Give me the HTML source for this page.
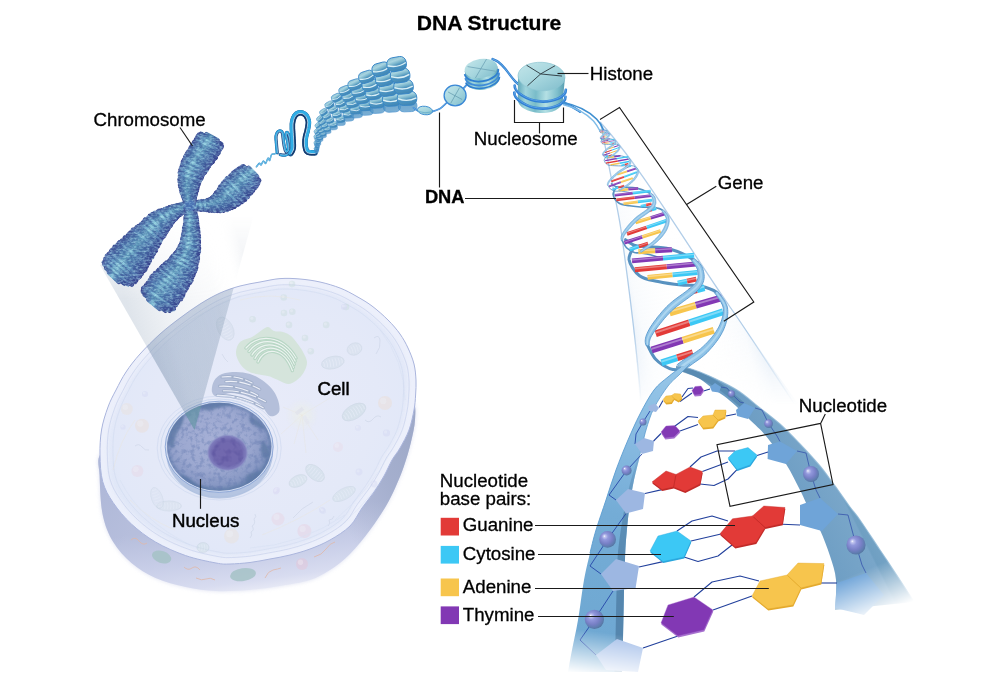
<!DOCTYPE html>
<html lang="en">
<head>
<meta charset="utf-8">
<title>DNA Structure</title>
<style>
html,body{margin:0;padding:0;background:#fff;}
body{width:1000px;height:689px;overflow:hidden;}
svg{display:block;}
svg text{font-family:"Liberation Sans",Arial,Helvetica,sans-serif;fill:#000;}
</style>
</head>
<body>
<svg width="1000" height="689" viewBox="0 0 1000 689">
<defs>

<radialGradient id="cellTop" gradientUnits="userSpaceOnUse" cx="262" cy="415" r="170" gradientTransform="translate(262 415) rotate(-28) scale(1 0.85) translate(-262 -415)">
 <stop offset="0" stop-color="#e8ebf9"/><stop offset="0.7" stop-color="#e4e9f8"/><stop offset="0.9" stop-color="#e2e8f8"/><stop offset="1" stop-color="#dee6f7"/>
</radialGradient>
<linearGradient id="cellWall" gradientUnits="userSpaceOnUse" x1="240" y1="520" x2="250" y2="592">
 <stop offset="0" stop-color="#b6bedc"/><stop offset="0.5" stop-color="#c8cee8"/><stop offset="0.85" stop-color="#d8dcf0"/><stop offset="1" stop-color="#e8eaf6"/>
</linearGradient>
<linearGradient id="wallShade" gradientUnits="userSpaceOnUse" x1="330" y1="500" x2="420" y2="450">
 <stop offset="0" stop-color="#8f9cbc" stop-opacity="0"/><stop offset="0.6" stop-color="#8f9cbc" stop-opacity="0.45"/><stop offset="1" stop-color="#8f9cbc" stop-opacity="0.6"/>
</linearGradient>
<linearGradient id="wallShadeL" gradientUnits="userSpaceOnUse" x1="140" y1="520" x2="98" y2="490">
 <stop offset="0" stop-color="#a8b2d4" stop-opacity="0"/><stop offset="1" stop-color="#a8b2d4" stop-opacity="0.5"/>
</linearGradient>
<radialGradient id="nuc" cx="0.45" cy="0.42" r="0.62">
 <stop offset="0" stop-color="#a6b0d6"/><stop offset="0.55" stop-color="#9ca8d0"/><stop offset="0.82" stop-color="#8898c4"/><stop offset="0.95" stop-color="#6e86b0"/><stop offset="1" stop-color="#627ea8"/>
</radialGradient>
<radialGradient id="nucleolus" cx="0.5" cy="0.5" r="0.5">
 <stop offset="0" stop-color="#7268ae"/><stop offset="0.7" stop-color="#7068ae"/><stop offset="0.9" stop-color="#7e7cbc"/><stop offset="1" stop-color="#949ccc" stop-opacity="0.5"/>
</radialGradient>
<radialGradient id="centro" cx="0.5" cy="0.5" r="0.5">
 <stop offset="0" stop-color="#f4f6d8" stop-opacity="0.95"/><stop offset="0.5" stop-color="#eef2dc" stop-opacity="0.6"/><stop offset="1" stop-color="#eef2e6" stop-opacity="0"/>
</radialGradient>
<filter id="blur1" x="-20%" y="-20%" width="140%" height="140%"><feGaussianBlur stdDeviation="1"/></filter>
<filter id="blur2" x="-20%" y="-20%" width="140%" height="140%"><feGaussianBlur stdDeviation="2"/></filter>
<filter id="blur4" x="-30%" y="-30%" width="160%" height="160%"><feGaussianBlur stdDeviation="4"/></filter>
<filter id="mottle" x="0" y="0" width="100%" height="100%" color-interpolation-filters="sRGB">
 <feTurbulence type="fractalNoise" baseFrequency="0.22" numOctaves="3" seed="7" result="n"/>
 <feColorMatrix in="n" type="matrix" values="0 0 0 0 0.38  0 0 0 0 0.47  0 0 0 0 0.68  0 0 0 -3.6 1.95" result="c"/>
 <feComposite in="c" in2="SourceGraphic" operator="in"/>
</filter>
<filter id="mottle2" x="0" y="0" width="100%" height="100%" color-interpolation-filters="sRGB">
 <feTurbulence type="fractalNoise" baseFrequency="0.16" numOctaves="2" seed="3" result="n"/>
 <feColorMatrix in="n" type="matrix" values="0 0 0 0 0.30  0 0 0 0 0.27  0 0 0 0 0.58  0 0 0 -3 1.6" result="c"/>
 <feComposite in="c" in2="SourceGraphic" operator="in"/>
</filter>
<clipPath id="cellClip"><path d="M100,455C99.8,446.4 100.2,438 101.5,430C102.8,422 105.6,413.7 108,407C110.4,400.3 113,395.8 116,390C119,384.2 122,378 126,372C130,366 134.3,360.3 140,354C145.7,347.7 153.3,340 160,334C166.7,328 173.3,323 180,318C186.7,313 193.3,308.2 200,304C206.7,299.8 213.3,296 220,293C226.7,290 233.3,287.8 240,286C246.7,284.2 253.3,283.2 260,282C266.7,280.8 273.3,279.1 280,278.6C286.7,278.1 293.3,278.4 300,279C306.7,279.6 313.3,280.5 320,282C326.7,283.5 334,285.7 340,288C346,290.3 350.7,293 356,296C361.3,299 366.7,302 372,306C377.3,310 383.3,315.3 388,320C392.7,324.7 396.7,329.3 400,334C403.3,338.7 405.7,343 408,348C410.3,353 412.7,358.7 414,364C415.3,369.3 415.7,374.8 416,380C416.3,385.2 415.9,390 415.6,395C415.3,400 415.1,404.2 414,410C412.9,415.8 411.3,423.7 409,430C406.7,436.3 402.8,443 400,448C397.2,453 394.7,455.3 392,460C389.3,464.7 387,470.7 384,476C381,481.3 377.7,486.7 374,492C370.3,497.3 366,502.3 362,508C358,513.7 355.3,520.7 350,526C344.7,531.3 336.7,536.2 330,540C323.3,543.8 316.7,546.5 310,549C303.3,551.5 296.7,553.3 290,555C283.3,556.7 276.7,557.8 270,559C263.3,560.2 256.7,561.7 250,562.5C243.3,563.3 235.7,563.9 230,564C224.3,564.1 223.4,564.4 216,563C208.6,561.6 195.8,559.1 185.7,555.6C175.6,552.1 164.6,547.3 155.5,542C146.4,536.7 138.5,530.5 131.4,524C124.4,517.5 118,509.8 113.2,502.7C108.4,495.6 104.9,489.6 102.7,481.6C100.5,473.7 100.2,463.6 100,455Z"/></clipPath>
<clipPath id="nucClip"><ellipse cx="219.2" cy="446.8" rx="52.2" ry="44"/></clipPath>


<linearGradient id="coneG" gradientUnits="userSpaceOnUse" x1="125" y1="300" x2="246" y2="262">
 <stop offset="0" stop-color="#93a6bc" stop-opacity="0.3"/><stop offset="0.3" stop-color="#a2b2c6" stop-opacity="0.17"/>
 <stop offset="0.7" stop-color="#b8c4d2" stop-opacity="0.07"/><stop offset="0.86" stop-color="#ffffff" stop-opacity="0.0"/><stop offset="0.95" stop-color="#c0cad6" stop-opacity="0.18"/><stop offset="1" stop-color="#a8b4c4" stop-opacity="0.3"/>
</linearGradient>
<linearGradient id="coneFade" gradientUnits="userSpaceOnUse" x1="0" y1="215" x2="0" y2="300">
 <stop offset="0" stop-color="#fff" stop-opacity="0"/><stop offset="1" stop-color="#fff" stop-opacity="1"/>
</linearGradient>
<mask id="coneMask" maskUnits="userSpaceOnUse" x="90" y="160" width="190" height="290"><rect x="90" y="160" width="190" height="290" fill="url(#coneFade)"/></mask>
<linearGradient id="coneIn" gradientUnits="userSpaceOnUse" x1="140" y1="390" x2="215" y2="365">
 <stop offset="0" stop-color="#6f88a8" stop-opacity="0.32"/><stop offset="0.6" stop-color="#7890ac" stop-opacity="0.28"/><stop offset="1" stop-color="#7f96b0" stop-opacity="0.32"/>
</linearGradient>

<linearGradient id="chrA" x1="0" y1="0" x2="1" y2="0"><stop offset="0" stop-color="#48529c"/><stop offset="0.08" stop-color="#4e6eaa"/><stop offset="0.26" stop-color="#5a8cba"/><stop offset="0.4" stop-color="#84c2d6"/><stop offset="0.56" stop-color="#5e92bc"/><stop offset="0.82" stop-color="#4a69a6"/><stop offset="1" stop-color="#404994"/></linearGradient>
<linearGradient id="chrB" x1="0" y1="0" x2="1" y2="0"><stop offset="0" stop-color="#3c458e"/><stop offset="0.08" stop-color="#425c9c"/><stop offset="0.26" stop-color="#4a76aa"/><stop offset="0.4" stop-color="#5e98ba"/><stop offset="0.56" stop-color="#4c7aac"/><stop offset="0.82" stop-color="#3e589a"/><stop offset="1" stop-color="#363e8a"/></linearGradient>
<linearGradient id="chrC" x1="0" y1="0" x2="1" y2="0"><stop offset="0" stop-color="#4c58a0"/><stop offset="0.08" stop-color="#5478b0"/><stop offset="0.26" stop-color="#649cc4"/><stop offset="0.4" stop-color="#98d4e2"/><stop offset="0.56" stop-color="#66a0c4"/><stop offset="0.82" stop-color="#4e72ac"/><stop offset="1" stop-color="#444e9a"/></linearGradient>
<linearGradient id="chrAf" x1="0" y1="0" x2="1" y2="0"><stop offset="0" stop-color="#404994"/><stop offset="0.18" stop-color="#4a69a6"/><stop offset="0.44" stop-color="#5e92bc"/><stop offset="0.6" stop-color="#84c2d6"/><stop offset="0.74" stop-color="#5a8cba"/><stop offset="0.92" stop-color="#4e6eaa"/><stop offset="1" stop-color="#48529c"/></linearGradient>
<linearGradient id="chrBf" x1="0" y1="0" x2="1" y2="0"><stop offset="0" stop-color="#363e8a"/><stop offset="0.18" stop-color="#3e589a"/><stop offset="0.44" stop-color="#4c7aac"/><stop offset="0.6" stop-color="#5e98ba"/><stop offset="0.74" stop-color="#4a76aa"/><stop offset="0.92" stop-color="#425c9c"/><stop offset="1" stop-color="#3c458e"/></linearGradient>
<linearGradient id="chrCf" x1="0" y1="0" x2="1" y2="0"><stop offset="0" stop-color="#444e9a"/><stop offset="0.18" stop-color="#4e72ac"/><stop offset="0.44" stop-color="#66a0c4"/><stop offset="0.6" stop-color="#98d4e2"/><stop offset="0.74" stop-color="#649cc4"/><stop offset="0.92" stop-color="#5478b0"/><stop offset="1" stop-color="#4c58a0"/></linearGradient>
<filter id="chrTex" x="-5%" y="-5%" width="110%" height="110%" color-interpolation-filters="sRGB">
 <feTurbulence type="fractalNoise" baseFrequency="0.3 0.55" numOctaves="2" seed="11" result="n"/>
 <feColorMatrix in="n" type="matrix" values="0 0 0 0 0.68  0 0 0 0 0.88  0 0 0 0 0.93  0 0 0 1.4 -0.56" result="light"/>
 <feColorMatrix in="n" type="matrix" values="0 0 0 0 0.24  0 0 0 0 0.27  0 0 0 0 0.56  0 0 -1.2 0 0.6" result="dark"/>
 <feMerge result="m"><feMergeNode in="SourceGraphic"/><feMergeNode in="dark"/><feMergeNode in="light"/></feMerge>
 <feComposite in="m" in2="SourceGraphic" operator="in"/>
</filter>

<linearGradient id="discG" x1="0.1" y1="0" x2="0.35" y2="1">
 <stop offset="0" stop-color="#86bcd0"/><stop offset="0.3" stop-color="#a8d4e0"/><stop offset="0.5" stop-color="#78b4cc"/><stop offset="0.62" stop-color="#5498c0"/><stop offset="1" stop-color="#4288b6"/>
</linearGradient>
<linearGradient id="discS" x1="0" y1="0" x2="0" y2="1">
 <stop offset="0" stop-color="#4a8ebc"/><stop offset="1" stop-color="#5a9ccc"/>
</linearGradient>
<linearGradient id="nucTop" x1="0" y1="0" x2="1" y2="1">
 <stop offset="0" stop-color="#c4e6ea"/><stop offset="0.5" stop-color="#a6d6de"/><stop offset="1" stop-color="#7fbccb"/>
</linearGradient>
<linearGradient id="nucSide" x1="0" y1="0" x2="1" y2="0">
 <stop offset="0" stop-color="#5fa6b8"/><stop offset="0.18" stop-color="#9fd4dc"/><stop offset="0.4" stop-color="#79bcc9"/><stop offset="0.62" stop-color="#b4e0e4"/><stop offset="0.85" stop-color="#7fbfcc"/><stop offset="1" stop-color="#5a9fb2"/>
</linearGradient>

<linearGradient id="hcone" gradientUnits="userSpaceOnUse" x1="620" y1="300" x2="745" y2="270">
 <stop offset="0" stop-color="#dfeaf6" stop-opacity="0.9"/><stop offset="0.12" stop-color="#f4f8fc" stop-opacity="0.6"/><stop offset="0.5" stop-color="#ffffff" stop-opacity="0"/>
 <stop offset="0.88" stop-color="#f4f8fc" stop-opacity="0.6"/><stop offset="1" stop-color="#dfeaf6" stop-opacity="0.9"/></linearGradient>
<linearGradient id="hconeFade" gradientUnits="userSpaceOnUse" x1="0" y1="330" x2="0" y2="405">
 <stop offset="0" stop-color="#fff" stop-opacity="1"/><stop offset="1" stop-color="#fff" stop-opacity="0"/></linearGradient>
<mask id="hconeMask" maskUnits="userSpaceOnUse" x="580" y="100" width="260" height="330"><rect x="580" y="100" width="260" height="330" fill="url(#hconeFade)"/></mask>

<linearGradient id="ribL" gradientUnits="userSpaceOnUse" x1="660" y1="365" x2="600" y2="640">
 <stop offset="0" stop-color="#96c6e8"/><stop offset="0.3" stop-color="#86b9e0"/><stop offset="0.55" stop-color="#74acd6"/><stop offset="1" stop-color="#6fa8d2"/>
</linearGradient>
<linearGradient id="ribLs" gradientUnits="userSpaceOnUse" x1="640" y1="440" x2="622" y2="600">
 <stop offset="0" stop-color="#5a8cb4" stop-opacity="0"/><stop offset="0.45" stop-color="#5a8cb4" stop-opacity="0.9"/><stop offset="1" stop-color="#5586ae" stop-opacity="1"/>
</linearGradient>
<linearGradient id="ribR" gradientUnits="userSpaceOnUse" x1="880" y1="510" x2="800" y2="550">
 <stop offset="0" stop-color="#7aa8c8"/><stop offset="0.3" stop-color="#6f9fc2"/><stop offset="0.32" stop-color="#79a6c9"/><stop offset="1" stop-color="#6a9bc2"/>
</linearGradient>
<linearGradient id="fadeL" gradientUnits="userSpaceOnUse" x1="600" y1="632" x2="594" y2="676">
 <stop offset="0" stop-color="#fff" stop-opacity="1"/><stop offset="1" stop-color="#fff" stop-opacity="0"/>
</linearGradient>
<linearGradient id="fadeR" gradientUnits="userSpaceOnUse" x1="850" y1="576" x2="868" y2="620">
 <stop offset="0" stop-color="#fff" stop-opacity="1"/><stop offset="1" stop-color="#fff" stop-opacity="0"/>
</linearGradient>
<mask id="maskL" maskUnits="userSpaceOnUse" x="540" y="340" width="180" height="349"><rect x="540" y="340" width="180" height="349" fill="url(#fadeL)"/></mask>
<mask id="maskR" maskUnits="userSpaceOnUse" x="660" y="340" width="300" height="349"><rect x="660" y="340" width="300" height="349" fill="url(#fadeR)"/></mask>
<radialGradient id="sph" cx="0.45" cy="0.42" r="0.62" fx="0.3" fy="0.3">
 <stop offset="0" stop-color="#ffffff"/><stop offset="0.1" stop-color="#c4c8f0"/><stop offset="0.3" stop-color="#9298dc"/><stop offset="0.62" stop-color="#7880c6"/><stop offset="0.85" stop-color="#5f7cb0"/><stop offset="1" stop-color="#4f7298"/>
</radialGradient>


</defs>
<rect width="1000" height="689" fill="#fff"/>
<g id="cell">
<path d="M100,455C96.6,460.9 99.1,465.5 99.6,475.5C100,485.5 100.4,503.7 102.7,514.8C105,525.9 108.4,534 113.2,542C118,550 124.4,557 131.4,563C138.5,569 146.4,574 155.5,578C164.6,582 175.6,584.8 185.7,587C195.8,589.2 205.4,590.5 216,591C226.6,591.5 238.3,590.8 249,590C259.7,589.2 269.8,587.7 280,586C290.2,584.3 301.7,582.7 310,580C318.3,577.3 323.3,574.3 330,570C336.7,565.7 343.3,560.7 350,554C356.7,547.3 364,538 370,530C376,522 381.7,513.3 386,506C390.3,498.7 393,492.7 396,486C399,479.3 401.5,473.3 404,466C406.5,458.7 409.2,449.7 411,442C412.8,434.3 414.7,426.3 415,420C415.3,413.7 416.3,404 413,404C409.7,404 413.8,407.3 395,420C376.2,432.7 332.5,471.7 300,480C267.5,488.3 230,476.7 200,470C170,463.3 136.7,442.5 120,440C103.3,437.5 103.4,449.1 100,455Z" fill="#d5d9ee" filter="url(#blur2)" opacity="0.8"/>
<path d="M100,455C96.6,460.9 99.1,465.5 99.6,475.5C100,485.5 100.4,503.7 102.7,514.8C105,525.9 108.4,534 113.2,542C118,550 124.4,557 131.4,563C138.5,569 146.4,574 155.5,578C164.6,582 175.6,584.8 185.7,587C195.8,589.2 205.4,590.5 216,591C226.6,591.5 238.3,590.8 249,590C259.7,589.2 269.8,587.7 280,586C290.2,584.3 301.7,582.7 310,580C318.3,577.3 323.3,574.3 330,570C336.7,565.7 343.3,560.7 350,554C356.7,547.3 364,538 370,530C376,522 381.7,513.3 386,506C390.3,498.7 393,492.7 396,486C399,479.3 401.5,473.3 404,466C406.5,458.7 409.2,449.7 411,442C412.8,434.3 414.7,426.3 415,420C415.3,413.7 416.3,404 413,404C409.7,404 413.8,407.3 395,420C376.2,432.7 332.5,471.7 300,480C267.5,488.3 230,476.7 200,470C170,463.3 136.7,442.5 120,440C103.3,437.5 103.4,449.1 100,455Z" fill="url(#cellWall)"/>
<path d="M100,455C96.6,460.9 99.1,465.5 99.6,475.5C100,485.5 100.4,503.7 102.7,514.8C105,525.9 108.4,534 113.2,542C118,550 124.4,557 131.4,563C138.5,569 146.4,574 155.5,578C164.6,582 175.6,584.8 185.7,587C195.8,589.2 205.4,590.5 216,591C226.6,591.5 238.3,590.8 249,590C259.7,589.2 269.8,587.7 280,586C290.2,584.3 301.7,582.7 310,580C318.3,577.3 323.3,574.3 330,570C336.7,565.7 343.3,560.7 350,554C356.7,547.3 364,538 370,530C376,522 381.7,513.3 386,506C390.3,498.7 393,492.7 396,486C399,479.3 401.5,473.3 404,466C406.5,458.7 409.2,449.7 411,442C412.8,434.3 414.7,426.3 415,420C415.3,413.7 416.3,404 413,404C409.7,404 413.8,407.3 395,420C376.2,432.7 332.5,471.7 300,480C267.5,488.3 230,476.7 200,470C170,463.3 136.7,442.5 120,440C103.3,437.5 103.4,449.1 100,455Z" fill="url(#wallShade)"/>
<path d="M100,455C96.6,460.9 99.1,465.5 99.6,475.5C100,485.5 100.4,503.7 102.7,514.8C105,525.9 108.4,534 113.2,542C118,550 124.4,557 131.4,563C138.5,569 146.4,574 155.5,578C164.6,582 175.6,584.8 185.7,587C195.8,589.2 205.4,590.5 216,591C226.6,591.5 238.3,590.8 249,590C259.7,589.2 269.8,587.7 280,586C290.2,584.3 301.7,582.7 310,580C318.3,577.3 323.3,574.3 330,570C336.7,565.7 343.3,560.7 350,554C356.7,547.3 364,538 370,530C376,522 381.7,513.3 386,506C390.3,498.7 393,492.7 396,486C399,479.3 401.5,473.3 404,466C406.5,458.7 409.2,449.7 411,442C412.8,434.3 414.7,426.3 415,420C415.3,413.7 416.3,404 413,404C409.7,404 413.8,407.3 395,420C376.2,432.7 332.5,471.7 300,480C267.5,488.3 230,476.7 200,470C170,463.3 136.7,442.5 120,440C103.3,437.5 103.4,449.1 100,455Z" fill="url(#wallShadeL)"/>
<ellipse cx="161.6" cy="557" rx="10" ry="6" transform="rotate(18 161.6 557)" fill="#a4c2c6" opacity="0.85"/>
<ellipse cx="243" cy="574.6" rx="13" ry="6.5" transform="rotate(-8 243 574.6)" fill="#a4c2c6" opacity="0.85"/>
<circle cx="302" cy="564" r="6" fill="#e6c4d4" opacity="0.45"/><circle cx="300.5" cy="562.2" r="2.7" fill="#fff" opacity="0.27"/>
<g fill="none" stroke="#e0b8a8" stroke-width="1" opacity="0.8"><path d="M131,540 q4,-4 8,1 t8,2"/><path d="M184,567 q4,4 8,1 t8,2"/><path d="M265,578 q3,-7 8,-8 t8,-2"/><path d="M314,557 q8,-2 12,-8 t9,-7"/><path d="M196,578 q6,3 10,1 t9,1"/></g>
<path d="M100,455C99.8,446.4 100.2,438 101.5,430C102.8,422 105.6,413.7 108,407C110.4,400.3 113,395.8 116,390C119,384.2 122,378 126,372C130,366 134.3,360.3 140,354C145.7,347.7 153.3,340 160,334C166.7,328 173.3,323 180,318C186.7,313 193.3,308.2 200,304C206.7,299.8 213.3,296 220,293C226.7,290 233.3,287.8 240,286C246.7,284.2 253.3,283.2 260,282C266.7,280.8 273.3,279.1 280,278.6C286.7,278.1 293.3,278.4 300,279C306.7,279.6 313.3,280.5 320,282C326.7,283.5 334,285.7 340,288C346,290.3 350.7,293 356,296C361.3,299 366.7,302 372,306C377.3,310 383.3,315.3 388,320C392.7,324.7 396.7,329.3 400,334C403.3,338.7 405.7,343 408,348C410.3,353 412.7,358.7 414,364C415.3,369.3 415.7,374.8 416,380C416.3,385.2 415.9,390 415.6,395C415.3,400 415.1,404.2 414,410C412.9,415.8 411.3,423.7 409,430C406.7,436.3 402.8,443 400,448C397.2,453 394.7,455.3 392,460C389.3,464.7 387,470.7 384,476C381,481.3 377.7,486.7 374,492C370.3,497.3 366,502.3 362,508C358,513.7 355.3,520.7 350,526C344.7,531.3 336.7,536.2 330,540C323.3,543.8 316.7,546.5 310,549C303.3,551.5 296.7,553.3 290,555C283.3,556.7 276.7,557.8 270,559C263.3,560.2 256.7,561.7 250,562.5C243.3,563.3 235.7,563.9 230,564C224.3,564.1 223.4,564.4 216,563C208.6,561.6 195.8,559.1 185.7,555.6C175.6,552.1 164.6,547.3 155.5,542C146.4,536.7 138.5,530.5 131.4,524C124.4,517.5 118,509.8 113.2,502.7C108.4,495.6 104.9,489.6 102.7,481.6C100.5,473.7 100.2,463.6 100,455Z" fill="url(#cellTop)"/>
<g clip-path="url(#cellClip)">
<path d="M100,455C99.8,446.4 100.2,438 101.5,430C102.8,422 105.6,413.7 108,407C110.4,400.3 113,395.8 116,390C119,384.2 122,378 126,372C130,366 134.3,360.3 140,354C145.7,347.7 153.3,340 160,334C166.7,328 173.3,323 180,318C186.7,313 193.3,308.2 200,304C206.7,299.8 213.3,296 220,293C226.7,290 233.3,287.8 240,286C246.7,284.2 253.3,283.2 260,282C266.7,280.8 273.3,279.1 280,278.6C286.7,278.1 293.3,278.4 300,279C306.7,279.6 313.3,280.5 320,282C326.7,283.5 334,285.7 340,288C346,290.3 350.7,293 356,296C361.3,299 366.7,302 372,306C377.3,310 383.3,315.3 388,320C392.7,324.7 396.7,329.3 400,334C403.3,338.7 405.7,343 408,348C410.3,353 412.7,358.7 414,364C415.3,369.3 415.7,374.8 416,380C416.3,385.2 415.9,390 415.6,395C415.3,400 415.1,404.2 414,410C412.9,415.8 411.3,423.7 409,430C406.7,436.3 402.8,443 400,448C397.2,453 394.7,455.3 392,460C389.3,464.7 387,470.7 384,476C381,481.3 377.7,486.7 374,492C370.3,497.3 366,502.3 362,508C358,513.7 355.3,520.7 350,526C344.7,531.3 336.7,536.2 330,540C323.3,543.8 316.7,546.5 310,549C303.3,551.5 296.7,553.3 290,555C283.3,556.7 276.7,557.8 270,559C263.3,560.2 256.7,561.7 250,562.5C243.3,563.3 235.7,563.9 230,564C224.3,564.1 223.4,564.4 216,563C208.6,561.6 195.8,559.1 185.7,555.6C175.6,552.1 164.6,547.3 155.5,542C146.4,536.7 138.5,530.5 131.4,524C124.4,517.5 118,509.8 113.2,502.7C108.4,495.6 104.9,489.6 102.7,481.6C100.5,473.7 100.2,463.6 100,455Z" fill="none" stroke="#f1f3fc" stroke-width="16" opacity="0.7" filter="url(#blur2)"/>
<path d="M100,455C99.8,446.4 100.2,438 101.5,430C102.8,422 105.6,413.7 108,407C110.4,400.3 113,395.8 116,390C119,384.2 122,378 126,372C130,366 134.3,360.3 140,354C145.7,347.7 153.3,340 160,334C166.7,328 173.3,323 180,318C186.7,313 193.3,308.2 200,304C206.7,299.8 213.3,296 220,293C226.7,290 233.3,287.8 240,286C246.7,284.2 253.3,283.2 260,282C266.7,280.8 273.3,279.1 280,278.6C286.7,278.1 293.3,278.4 300,279C306.7,279.6 313.3,280.5 320,282C326.7,283.5 334,285.7 340,288C346,290.3 350.7,293 356,296C361.3,299 366.7,302 372,306C377.3,310 383.3,315.3 388,320C392.7,324.7 396.7,329.3 400,334C403.3,338.7 405.7,343 408,348C410.3,353 412.7,358.7 414,364C415.3,369.3 415.7,374.8 416,380C416.3,385.2 415.9,390 415.6,395C415.3,400 415.1,404.2 414,410C412.9,415.8 411.3,423.7 409,430C406.7,436.3 402.8,443 400,448C397.2,453 394.7,455.3 392,460C389.3,464.7 387,470.7 384,476C381,481.3 377.7,486.7 374,492C370.3,497.3 366,502.3 362,508C358,513.7 355.3,520.7 350,526C344.7,531.3 336.7,536.2 330,540C323.3,543.8 316.7,546.5 310,549C303.3,551.5 296.7,553.3 290,555C283.3,556.7 276.7,557.8 270,559C263.3,560.2 256.7,561.7 250,562.5C243.3,563.3 235.7,563.9 230,564C224.3,564.1 223.4,564.4 216,563C208.6,561.6 195.8,559.1 185.7,555.6C175.6,552.1 164.6,547.3 155.5,542C146.4,536.7 138.5,530.5 131.4,524C124.4,517.5 118,509.8 113.2,502.7C108.4,495.6 104.9,489.6 102.7,481.6C100.5,473.7 100.2,463.6 100,455Z" fill="none" stroke="#c3cdea" stroke-width="0.8" opacity="0.8" transform="translate(262 420) scale(0.955) translate(-262 -420)"/>
<path d="M100,455C99.8,446.4 100.2,438 101.5,430C102.8,422 105.6,413.7 108,407C110.4,400.3 113,395.8 116,390C119,384.2 122,378 126,372C130,366 134.3,360.3 140,354C145.7,347.7 153.3,340 160,334C166.7,328 173.3,323 180,318C186.7,313 193.3,308.2 200,304C206.7,299.8 213.3,296 220,293C226.7,290 233.3,287.8 240,286C246.7,284.2 253.3,283.2 260,282C266.7,280.8 273.3,279.1 280,278.6C286.7,278.1 293.3,278.4 300,279C306.7,279.6 313.3,280.5 320,282C326.7,283.5 334,285.7 340,288C346,290.3 350.7,293 356,296C361.3,299 366.7,302 372,306C377.3,310 383.3,315.3 388,320C392.7,324.7 396.7,329.3 400,334C403.3,338.7 405.7,343 408,348C410.3,353 412.7,358.7 414,364C415.3,369.3 415.7,374.8 416,380C416.3,385.2 415.9,390 415.6,395C415.3,400 415.1,404.2 414,410C412.9,415.8 411.3,423.7 409,430C406.7,436.3 402.8,443 400,448C397.2,453 394.7,455.3 392,460C389.3,464.7 387,470.7 384,476C381,481.3 377.7,486.7 374,492C370.3,497.3 366,502.3 362,508C358,513.7 355.3,520.7 350,526C344.7,531.3 336.7,536.2 330,540C323.3,543.8 316.7,546.5 310,549C303.3,551.5 296.7,553.3 290,555C283.3,556.7 276.7,557.8 270,559C263.3,560.2 256.7,561.7 250,562.5C243.3,563.3 235.7,563.9 230,564C224.3,564.1 223.4,564.4 216,563C208.6,561.6 195.8,559.1 185.7,555.6C175.6,552.1 164.6,547.3 155.5,542C146.4,536.7 138.5,530.5 131.4,524C124.4,517.5 118,509.8 113.2,502.7C108.4,495.6 104.9,489.6 102.7,481.6C100.5,473.7 100.2,463.6 100,455Z" fill="none" stroke="#cdd6ee" stroke-width="0.7" opacity="0.7" transform="translate(262 420) scale(0.92 0.925) translate(-262 -420)"/>
<g opacity="0.75">
<path d="M236,352C236.2,348.7 237.3,344.5 240,342C242.7,339.5 248.3,339 252,337C255.7,335 259.3,331.7 262,330C264.7,328.3 266,326.8 268,327C270,327.2 271.5,330.2 274,331C276.5,331.8 280.2,331.2 283,332C285.8,332.8 288.7,334.2 291,336C293.3,337.8 295,340.3 297,343C299,345.7 301.3,348.8 303,352C304.7,355.2 306.8,358.7 307,362C307.2,365.3 305.7,369 304,372C302.3,375 299.7,378 297,380C294.3,382 291.2,384 288,384C284.8,384 281.3,381.3 278,380C274.7,378.7 271.7,377 268,376C264.3,375 259.7,375 256,374C252.3,373 248.8,372 246,370C243.2,368 240.7,365 239,362C237.3,359 235.8,355.3 236,352Z" fill="#cfe2d2"/>
<path d="M246,348 C258,334 282,334 296,358" fill="none" stroke="#a9d0b4" stroke-width="3.4" stroke-linecap="round"/>
<path d="M246,348 C258,334 282,334 296,358" fill="none" stroke="#eef6ee" stroke-width="1.2" stroke-linecap="round"/>
<path d="M249,351.5 C259.5,337.1 282.4,337.1 295.1,361.1" fill="none" stroke="#a9d0b4" stroke-width="3.4" stroke-linecap="round"/>
<path d="M249,351.5 C259.5,337.1 282.4,337.1 295.1,361.1" fill="none" stroke="#eef6ee" stroke-width="1.2" stroke-linecap="round"/>
<path d="M252,355 C261,340.3 282.9,340.3 294.2,364.3" fill="none" stroke="#a9d0b4" stroke-width="3.4" stroke-linecap="round"/>
<path d="M252,355 C261,340.3 282.9,340.3 294.2,364.3" fill="none" stroke="#eef6ee" stroke-width="1.2" stroke-linecap="round"/>
<path d="M255,358.5 C262.5,343.4 283.4,343.4 293.3,367.4" fill="none" stroke="#a9d0b4" stroke-width="3.4" stroke-linecap="round"/>
<path d="M255,358.5 C262.5,343.4 283.4,343.4 293.3,367.4" fill="none" stroke="#eef6ee" stroke-width="1.2" stroke-linecap="round"/>
<path d="M258,362 C264,346.6 283.8,346.6 292.4,370.6" fill="none" stroke="#a9d0b4" stroke-width="3.4" stroke-linecap="round"/>
<path d="M258,362 C264,346.6 283.8,346.6 292.4,370.6" fill="none" stroke="#eef6ee" stroke-width="1.2" stroke-linecap="round"/>
</g>
<g opacity="0.42">
<circle cx="252.6" cy="319.2" r="3.3" fill="#bcd6cc" opacity="0.7"/><circle cx="251.8" cy="318.2" r="1.5" fill="#fff" opacity="0.42"/>
<circle cx="292.3" cy="311.7" r="3.3" fill="#bcd6cc" opacity="0.7"/><circle cx="291.5" cy="310.7" r="1.5" fill="#fff" opacity="0.42"/>
<circle cx="289" cy="324.9" r="3.3" fill="#bcd6cc" opacity="0.7"/><circle cx="288.2" cy="323.9" r="1.5" fill="#fff" opacity="0.42"/>
<circle cx="305" cy="338" r="3.3" fill="#bcd6cc" opacity="0.7"/><circle cx="304.2" cy="337" r="1.5" fill="#fff" opacity="0.42"/>
<circle cx="310.8" cy="351.3" r="3.3" fill="#bcd6cc" opacity="0.7"/><circle cx="310" cy="350.3" r="1.5" fill="#fff" opacity="0.42"/>
<circle cx="326.2" cy="324.9" r="3.3" fill="#bcd6cc" opacity="0.7"/><circle cx="325.4" cy="323.9" r="1.5" fill="#fff" opacity="0.42"/>
<circle cx="283.8" cy="297.5" r="3.3" fill="#bcd6cc" opacity="0.7"/><circle cx="283" cy="296.5" r="1.5" fill="#fff" opacity="0.42"/>
<circle cx="292" cy="284" r="3.3" fill="#bcd6cc" opacity="0.7"/><circle cx="291.2" cy="283" r="1.5" fill="#fff" opacity="0.42"/>
<circle cx="284" cy="313" r="3.3" fill="#bcd6cc" opacity="0.7"/><circle cx="283.2" cy="312" r="1.5" fill="#fff" opacity="0.42"/>
<circle cx="346" cy="307" r="3.3" fill="#bcd6cc" opacity="0.7"/><circle cx="345.2" cy="306" r="1.5" fill="#fff" opacity="0.42"/>
<g transform="translate(225.3,328.7) rotate(62)" opacity="0.55"><ellipse rx="12.5" ry="7.5" fill="#c2cede" stroke="#90aab4" stroke-width="0.6"/><path d="M-10.2,-2.8 q1,2.8 0,5.6" fill="none" stroke="#e8f0f2" stroke-width="0.7"/><path d="M-7.3,-3.9 q1,3.9 0,7.8" fill="none" stroke="#e8f0f2" stroke-width="0.7"/><path d="M-4.4,-4.5 q1,4.5 0,9" fill="none" stroke="#e8f0f2" stroke-width="0.7"/><path d="M-1.5,-4.8 q1,4.8 0,9.5" fill="none" stroke="#e8f0f2" stroke-width="0.7"/><path d="M1.5,-4.8 q1,4.8 0,9.5" fill="none" stroke="#e8f0f2" stroke-width="0.7"/><path d="M4.4,-4.5 q1,4.5 0,9" fill="none" stroke="#e8f0f2" stroke-width="0.7"/><path d="M7.3,-3.9 q1,3.9 0,7.8" fill="none" stroke="#e8f0f2" stroke-width="0.7"/><path d="M10.2,-2.8 q1,2.8 0,5.6" fill="none" stroke="#e8f0f2" stroke-width="0.7"/></g>
<g transform="translate(332.8,362.6) rotate(-12)" opacity="0.6"><ellipse rx="11.5" ry="6.2" fill="#bccfd6" stroke="#90aab4" stroke-width="0.6"/><path d="M-9.1,-2.5 q1,2.5 0,4.9" fill="none" stroke="#e8f0f2" stroke-width="0.7"/><path d="M-6.1,-3.4 q1,3.4 0,6.8" fill="none" stroke="#e8f0f2" stroke-width="0.7"/><path d="M-3,-3.9 q1,3.9 0,7.7" fill="none" stroke="#e8f0f2" stroke-width="0.7"/><path d="M0,-4 q1,4 0,8" fill="none" stroke="#e8f0f2" stroke-width="0.7"/><path d="M3,-3.9 q1,3.9 0,7.7" fill="none" stroke="#e8f0f2" stroke-width="0.7"/><path d="M6.1,-3.4 q1,3.4 0,6.8" fill="none" stroke="#e8f0f2" stroke-width="0.7"/><path d="M9.1,-2.5 q1,2.5 0,4.9" fill="none" stroke="#e8f0f2" stroke-width="0.7"/></g>
<g transform="translate(354.5,349) rotate(-20)" opacity="0.55"><ellipse rx="7.5" ry="6" fill="#c0d0da" stroke="#90aab4" stroke-width="0.6"/><path d="M-5.4,-2.7 q1,2.7 0,5.4" fill="none" stroke="#e8f0f2" stroke-width="0.7"/><path d="M-2.7,-3.6 q1,3.6 0,7.2" fill="none" stroke="#e8f0f2" stroke-width="0.7"/><path d="M0,-3.8 q1,3.8 0,7.7" fill="none" stroke="#e8f0f2" stroke-width="0.7"/><path d="M2.7,-3.6 q1,3.6 0,7.2" fill="none" stroke="#e8f0f2" stroke-width="0.7"/><path d="M5.4,-2.7 q1,2.7 0,5.4" fill="none" stroke="#e8f0f2" stroke-width="0.7"/></g>
<g transform="translate(354,412) rotate(-30)" opacity="0.65"><ellipse rx="13" ry="7" fill="#b4cfd0" stroke="#90aab4" stroke-width="0.6"/><path d="M-10.6,-2.6 q1,2.6 0,5.2" fill="none" stroke="#e8f0f2" stroke-width="0.7"/><path d="M-7.6,-3.6 q1,3.6 0,7.3" fill="none" stroke="#e8f0f2" stroke-width="0.7"/><path d="M-4.5,-4.2 q1,4.2 0,8.4" fill="none" stroke="#e8f0f2" stroke-width="0.7"/><path d="M-1.5,-4.4 q1,4.4 0,8.9" fill="none" stroke="#e8f0f2" stroke-width="0.7"/><path d="M1.5,-4.4 q1,4.4 0,8.9" fill="none" stroke="#e8f0f2" stroke-width="0.7"/><path d="M4.5,-4.2 q1,4.2 0,8.4" fill="none" stroke="#e8f0f2" stroke-width="0.7"/><path d="M7.6,-3.6 q1,3.6 0,7.3" fill="none" stroke="#e8f0f2" stroke-width="0.7"/><path d="M10.6,-2.6 q1,2.6 0,5.2" fill="none" stroke="#e8f0f2" stroke-width="0.7"/></g>
<g transform="translate(315,473) rotate(40)" opacity="0.6"><ellipse rx="11" ry="6.5" fill="#b4cfd0" stroke="#90aab4" stroke-width="0.6"/><path d="M-8.7,-2.6 q1,2.6 0,5.1" fill="none" stroke="#e8f0f2" stroke-width="0.7"/><path d="M-5.8,-3.5 q1,3.5 0,7.1" fill="none" stroke="#e8f0f2" stroke-width="0.7"/><path d="M-2.9,-4 q1,4 0,8" fill="none" stroke="#e8f0f2" stroke-width="0.7"/><path d="M0,-4.2 q1,4.2 0,8.3" fill="none" stroke="#e8f0f2" stroke-width="0.7"/><path d="M2.9,-4 q1,4 0,8" fill="none" stroke="#e8f0f2" stroke-width="0.7"/><path d="M5.8,-3.5 q1,3.5 0,7.1" fill="none" stroke="#e8f0f2" stroke-width="0.7"/><path d="M8.7,-2.6 q1,2.6 0,5.1" fill="none" stroke="#e8f0f2" stroke-width="0.7"/></g>
<g transform="translate(298,481) rotate(-25)" opacity="0.6"><ellipse rx="9.5" ry="5.5" fill="#b8d2d0" stroke="#90aab4" stroke-width="0.6"/><path d="M-7.2,-2.3 q1,2.3 0,4.6" fill="none" stroke="#e8f0f2" stroke-width="0.7"/><path d="M-4.3,-3.1 q1,3.1 0,6.3" fill="none" stroke="#e8f0f2" stroke-width="0.7"/><path d="M-1.4,-3.5 q1,3.5 0,7" fill="none" stroke="#e8f0f2" stroke-width="0.7"/><path d="M1.4,-3.5 q1,3.5 0,7" fill="none" stroke="#e8f0f2" stroke-width="0.7"/><path d="M4.3,-3.1 q1,3.1 0,6.3" fill="none" stroke="#e8f0f2" stroke-width="0.7"/><path d="M7.2,-2.3 q1,2.3 0,4.6" fill="none" stroke="#e8f0f2" stroke-width="0.7"/></g>
<g transform="translate(344,494) rotate(-28)" opacity="0.55"><ellipse rx="12.5" ry="5.5" fill="#c0d8d8" stroke="#90aab4" stroke-width="0.6"/><path d="M-10.2,-2 q1,2 0,4.1" fill="none" stroke="#e8f0f2" stroke-width="0.7"/><path d="M-7.3,-2.9 q1,2.9 0,5.7" fill="none" stroke="#e8f0f2" stroke-width="0.7"/><path d="M-4.4,-3.3 q1,3.3 0,6.6" fill="none" stroke="#e8f0f2" stroke-width="0.7"/><path d="M-1.5,-3.5 q1,3.5 0,7" fill="none" stroke="#e8f0f2" stroke-width="0.7"/><path d="M1.5,-3.5 q1,3.5 0,7" fill="none" stroke="#e8f0f2" stroke-width="0.7"/><path d="M4.4,-3.3 q1,3.3 0,6.6" fill="none" stroke="#e8f0f2" stroke-width="0.7"/><path d="M7.3,-2.9 q1,2.9 0,5.7" fill="none" stroke="#e8f0f2" stroke-width="0.7"/><path d="M10.2,-2 q1,2 0,4.1" fill="none" stroke="#e8f0f2" stroke-width="0.7"/></g>
<g transform="translate(169,506) rotate(0)" opacity="0.55"><ellipse rx="12.5" ry="5" fill="#c8d6e0" stroke="#90aab4" stroke-width="0.6"/><path d="M-10.2,-1.9 q1,1.9 0,3.7" fill="none" stroke="#e8f0f2" stroke-width="0.7"/><path d="M-7.3,-2.6 q1,2.6 0,5.2" fill="none" stroke="#e8f0f2" stroke-width="0.7"/><path d="M-4.4,-3 q1,3 0,6" fill="none" stroke="#e8f0f2" stroke-width="0.7"/><path d="M-1.5,-3.2 q1,3.2 0,6.4" fill="none" stroke="#e8f0f2" stroke-width="0.7"/><path d="M1.5,-3.2 q1,3.2 0,6.4" fill="none" stroke="#e8f0f2" stroke-width="0.7"/><path d="M4.4,-3 q1,3 0,6" fill="none" stroke="#e8f0f2" stroke-width="0.7"/><path d="M7.3,-2.6 q1,2.6 0,5.2" fill="none" stroke="#e8f0f2" stroke-width="0.7"/><path d="M10.2,-1.9 q1,1.9 0,3.7" fill="none" stroke="#e8f0f2" stroke-width="0.7"/></g>
<g transform="translate(157,498) rotate(70)" opacity="0.45"><ellipse rx="11" ry="5.5" fill="#ccd6e6" stroke="#90aab4" stroke-width="0.6"/><path d="M-8.7,-2.2 q1,2.2 0,4.3" fill="none" stroke="#e8f0f2" stroke-width="0.7"/><path d="M-5.8,-3 q1,3 0,6" fill="none" stroke="#e8f0f2" stroke-width="0.7"/><path d="M-2.9,-3.4 q1,3.4 0,6.8" fill="none" stroke="#e8f0f2" stroke-width="0.7"/><path d="M0,-3.5 q1,3.5 0,7" fill="none" stroke="#e8f0f2" stroke-width="0.7"/><path d="M2.9,-3.4 q1,3.4 0,6.8" fill="none" stroke="#e8f0f2" stroke-width="0.7"/><path d="M5.8,-3 q1,3 0,6" fill="none" stroke="#e8f0f2" stroke-width="0.7"/><path d="M8.7,-2.2 q1,2.2 0,4.3" fill="none" stroke="#e8f0f2" stroke-width="0.7"/></g>
<g transform="translate(203,547.5) rotate(0)" opacity="0.6"><ellipse rx="6" ry="5" fill="#bcd4d0" stroke="#90aab4" stroke-width="0.6"/><path d="M-3.9,-2.4 q1,2.4 0,4.9" fill="none" stroke="#e8f0f2" stroke-width="0.7"/><path d="M-1.3,-3.1 q1,3.1 0,6.2" fill="none" stroke="#e8f0f2" stroke-width="0.7"/><path d="M1.3,-3.1 q1,3.1 0,6.2" fill="none" stroke="#e8f0f2" stroke-width="0.7"/><path d="M3.9,-2.4 q1,2.4 0,4.9" fill="none" stroke="#e8f0f2" stroke-width="0.7"/></g>
<circle cx="142" cy="425.7" r="7" fill="#f0d4b8" opacity="0.6"/><circle cx="140.2" cy="423.6" r="3.1" fill="#fff" opacity="0.36"/>
<circle cx="137.4" cy="471" r="6" fill="#ecc8d4" opacity="0.6"/><circle cx="135.9" cy="469.2" r="2.7" fill="#fff" opacity="0.36"/>
<circle cx="126.8" cy="409" r="6" fill="#f0dcc4" opacity="0.6"/><circle cx="125.3" cy="407.2" r="2.7" fill="#fff" opacity="0.36"/>
<circle cx="385" cy="403" r="7" fill="#f2d2b4" opacity="0.6"/><circle cx="383.2" cy="400.9" r="3.1" fill="#fff" opacity="0.36"/>
<circle cx="338" cy="447" r="5" fill="#ecd0dc" opacity="0.6"/><circle cx="336.8" cy="445.5" r="2.2" fill="#fff" opacity="0.36"/>
<circle cx="278" cy="519" r="6.5" fill="#ecc4d0" opacity="0.6"/><circle cx="276.4" cy="517" r="2.9" fill="#fff" opacity="0.36"/>
<circle cx="304.4" cy="531" r="7" fill="#ecbccc" opacity="0.6"/><circle cx="302.6" cy="528.9" r="3.1" fill="#fff" opacity="0.36"/>
<circle cx="231.5" cy="536" r="7.5" fill="#f0dcc0" opacity="0.6"/><circle cx="229.6" cy="533.8" r="3.4" fill="#fff" opacity="0.36"/>
<circle cx="386.5" cy="433" r="3.6" fill="#c4c8ec" opacity="0.6"/><circle cx="385.6" cy="431.9" r="1.6" fill="#fff" opacity="0.36"/>
<circle cx="359" cy="472" r="3.4" fill="#c8ccee" opacity="0.6"/><circle cx="358.1" cy="471" r="1.5" fill="#fff" opacity="0.36"/>
<circle cx="374" cy="484" r="3.4" fill="#c4c8ec" opacity="0.6"/><circle cx="373.1" cy="483" r="1.5" fill="#fff" opacity="0.36"/>
<circle cx="358" cy="428" r="3" fill="#cfd2f0" opacity="0.6"/><circle cx="357.2" cy="427.1" r="1.4" fill="#fff" opacity="0.36"/>
<circle cx="322" cy="510" r="3" fill="#c8ccee" opacity="0.6"/><circle cx="321.2" cy="509.1" r="1.4" fill="#fff" opacity="0.36"/>
<circle cx="276" cy="491" r="3" fill="#d0ccec" opacity="0.6"/><circle cx="275.2" cy="490.1" r="1.4" fill="#fff" opacity="0.36"/>
<circle cx="277" cy="490" r="3" fill="#d0ccec" opacity="0.6"/><circle cx="276.2" cy="489.1" r="1.4" fill="#fff" opacity="0.36"/>
<circle cx="276" cy="491.5" r="3" fill="#d4cef0" opacity="0.6"/><circle cx="275.2" cy="490.6" r="1.4" fill="#fff" opacity="0.36"/>
<circle cx="344" cy="307" r="3" fill="#c8c8f0" opacity="0.6"/><circle cx="343.2" cy="306.1" r="1.4" fill="#fff" opacity="0.36"/>
<circle cx="123" cy="427" r="2.6" fill="#c8ccee" opacity="0.6"/><circle cx="122.3" cy="426.2" r="1.2" fill="#fff" opacity="0.36"/>
<circle cx="145" cy="394" r="3" fill="#c8ccee" opacity="0.6"/><circle cx="144.2" cy="393.1" r="1.4" fill="#fff" opacity="0.36"/>
<circle cx="323" cy="511" r="3" fill="#ccd0f0" opacity="0.6"/><circle cx="322.2" cy="510.1" r="1.4" fill="#fff" opacity="0.36"/>
<circle cx="302" cy="415" r="17" fill="url(#centro)"/>
<g stroke="#ecdcb4" stroke-width="0.6" opacity="0.6" fill="none"><path d="M302,415 L281,434 M302,415 L294,444 M302,415 L306,453 M302,415 L330,398 M302,415 L283,407 M302,415 L318,440"/></g>
<rect x="-4.5" y="-2" width="9" height="4" transform="translate(299.5,411) rotate(-38)" fill="#dadcdc" opacity="0.9"/>
<rect x="-2" y="-4.5" width="4" height="9" transform="translate(306,420) rotate(-30)" fill="#e2e4e4" opacity="0.9"/>
<g fill="none" stroke="#a8b4cc" stroke-width="0.7" opacity="0.8"><path d="M365,420 q4,4 8,-1 t8,-2"/><path d="M135,446 q4,-3 7,1 t7,3"/><path d="M374,338 q5,-4 6,2 q1,8 -4,14"/><path d="M250,538 q3,-3 1,-6 q4,-2 1,-6 q4,-2 2,-7 q3,-2 1,-5"/><path d="M328,526 q3,-3 1,-6 q4,0 5,-4"/><path d="M293,518 q8,-10 20,-16"/><path d="M222,354 q3,6 6,8"/></g>
<g fill="none" stroke="#f0e4c4" stroke-width="0.7" opacity="0.8"><path d="M262,535 Q300,520 330,500"/><path d="M113,470 Q120,440 135,420"/><path d="M240,300 Q270,292 300,300"/><path d="M130,500 Q150,520 175,530"/></g>
<g fill="none" stroke="#cbd8ee" stroke-width="0.7" opacity="0.9"><path d="M335,520 Q370,490 392,450"/><path d="M340,526 Q378,494 398,452"/><path d="M250,548 Q300,545 345,515"/><path d="M120,480 Q140,520 190,545"/><path d="M380,330 Q404,360 405,400"/><path d="M150,350 Q190,315 240,296"/></g>
</g>
<g opacity="0.9">
<path d="M212,392C211.3,389.3 212.3,384 214,381C215.7,378 218.3,375.5 222,374C225.7,372.5 231.3,372 236,372C240.7,372 245.7,372.7 250,374C254.3,375.3 258.3,377.5 262,380C265.7,382.5 269.3,385.7 272,389C274.7,392.3 276.8,396.2 278,400C279.2,403.8 280.3,409.3 279,412C277.7,414.7 273.2,417.3 270,416C266.8,414.7 264,407.3 260,404C256,400.7 251,397.8 246,396C241,394.2 234.7,392.8 230,393C225.3,393.2 221,397.2 218,397C215,396.8 212.7,394.7 212,392Z" fill="#aebbd6"/>
<path d="M222,377 q15,-2 30,6" fill="none" stroke="#9dacc8" stroke-width="3.2" stroke-linecap="round"/>
<path d="M222,377 q15,-2 30,6" fill="none" stroke="#eef1f8" stroke-width="1.1" stroke-linecap="round" stroke-dasharray="9 3"/>
<path d="M225.8,381.6 q17,-1.6 34,7.6" fill="none" stroke="#9dacc8" stroke-width="3.2" stroke-linecap="round"/>
<path d="M225.8,381.6 q17,-1.6 34,7.6" fill="none" stroke="#eef1f8" stroke-width="1.1" stroke-linecap="round" stroke-dasharray="11 3"/>
<path d="M219.6,386.2 q19,-1.2 38,9.2" fill="none" stroke="#9dacc8" stroke-width="3.2" stroke-linecap="round"/>
<path d="M219.6,386.2 q19,-1.2 38,9.2" fill="none" stroke="#eef1f8" stroke-width="1.1" stroke-linecap="round" stroke-dasharray="13 3"/>
<path d="M223.4,390.8 q21,-0.8 42,10.8" fill="none" stroke="#9dacc8" stroke-width="3.2" stroke-linecap="round"/>
<path d="M223.4,390.8 q21,-0.8 42,10.8" fill="none" stroke="#eef1f8" stroke-width="1.1" stroke-linecap="round" stroke-dasharray="15 3"/>
<path d="M217.2,395.4 q23,-0.4 46,12.4" fill="none" stroke="#9dacc8" stroke-width="3.2" stroke-linecap="round"/>
<path d="M217.2,395.4 q23,-0.4 46,12.4" fill="none" stroke="#eef1f8" stroke-width="1.1" stroke-linecap="round" stroke-dasharray="17 3"/>
</g>
<ellipse cx="219.2" cy="448" rx="62" ry="52" fill="none" stroke="#d0daf0" stroke-width="0.8" opacity="0.9"/>
<ellipse cx="219.2" cy="448" rx="58.5" ry="49" fill="none" stroke="#c4d4ec" stroke-width="0.8" opacity="0.9"/>
<ellipse cx="219.5" cy="452.5" rx="53.5" ry="46" fill="#a9bcdc" opacity="0.8"/>
<ellipse cx="219.2" cy="446.8" rx="54" ry="45.6" fill="#cfdaf0" stroke="#7f9cd0" stroke-width="0.8"/>
<ellipse cx="219.2" cy="446.8" rx="52.2" ry="44" fill="url(#nuc)"/>
<g clip-path="url(#nucClip)">
<g fill="#5f7aa6" opacity="0.8" filter="url(#blur1)"><path d="M168,440 q2,-18 14,-28 q4,8 -2,16 q-6,8 -6,20 q-6,0 -6,-8z"/><path d="M180,474 q8,2 14,8 q6,6 14,6 q-2,6 -12,4 q-12,-4 -16,-18z"/><path d="M246,476 q8,-6 16,-4 q-2,8 -10,14 q-8,0 -6,-10z"/><path d="M262,440 q6,4 8,14 q-4,8 -8,2 q-2,-8 0,-16z"/><path d="M196,404 q20,-6 44,0 q-20,2 -28,6 q-10,2 -16,-6z"/><path d="M250,416 q10,4 16,14 q-8,-2 -14,-6 q-4,-4 -2,-8z"/></g>
<ellipse cx="219.2" cy="446.8" rx="52.2" ry="44" fill="#000" filter="url(#mottle)" opacity="0.38"/>
<ellipse cx="219.2" cy="446.8" rx="51" ry="43" fill="none" stroke="#5a78a8" stroke-width="2.5" opacity="0.5" filter="url(#blur1)"/>
</g>
<ellipse cx="227.5" cy="452.8" rx="20.5" ry="18.2" fill="url(#nucleolus)"/>
<ellipse cx="227.5" cy="452.5" rx="17" ry="15" fill="#000" filter="url(#mottle2)" opacity="0.35"/>
</g>
<path d="M100,455C99.8,446.4 100.2,438 101.5,430C102.8,422 105.6,413.7 108,407C110.4,400.3 113,395.8 116,390C119,384.2 122,378 126,372C130,366 134.3,360.3 140,354C145.7,347.7 153.3,340 160,334C166.7,328 173.3,323 180,318C186.7,313 193.3,308.2 200,304C206.7,299.8 213.3,296 220,293C226.7,290 233.3,287.8 240,286C246.7,284.2 253.3,283.2 260,282C266.7,280.8 273.3,279.1 280,278.6C286.7,278.1 293.3,278.4 300,279C306.7,279.6 313.3,280.5 320,282C326.7,283.5 334,285.7 340,288C346,290.3 350.7,293 356,296C361.3,299 366.7,302 372,306C377.3,310 383.3,315.3 388,320C392.7,324.7 396.7,329.3 400,334C403.3,338.7 405.7,343 408,348C410.3,353 412.7,358.7 414,364C415.3,369.3 415.7,374.8 416,380C416.3,385.2 415.9,390 415.6,395C415.3,400 415.1,404.2 414,410C412.9,415.8 411.3,423.7 409,430C406.7,436.3 402.8,443 400,448C397.2,453 394.7,455.3 392,460C389.3,464.7 387,470.7 384,476C381,481.3 377.7,486.7 374,492C370.3,497.3 366,502.3 362,508C358,513.7 355.3,520.7 350,526C344.7,531.3 336.7,536.2 330,540C323.3,543.8 316.7,546.5 310,549C303.3,551.5 296.7,553.3 290,555C283.3,556.7 276.7,557.8 270,559C263.3,560.2 256.7,561.7 250,562.5C243.3,563.3 235.7,563.9 230,564C224.3,564.1 223.4,564.4 216,563C208.6,561.6 195.8,559.1 185.7,555.6C175.6,552.1 164.6,547.3 155.5,542C146.4,536.7 138.5,530.5 131.4,524C124.4,517.5 118,509.8 113.2,502.7C108.4,495.6 104.9,489.6 102.7,481.6C100.5,473.7 100.2,463.6 100,455Z" fill="none" stroke="#aab5dc" stroke-width="1"/>
</g>
<g id="cone">
<g mask="url(#coneMask)"><path d="M100,265 L194.5,430 L264.5,176 Z" fill="url(#coneG)"/></g>
<g clip-path="url(#cellClip)"><path d="M100,265 L194.5,430 L264.5,176 Z" fill="url(#coneIn)"/></g>
<g clip-path="url(#nucClip)"><path d="M100,265 L194.5,430 L264.5,176 Z" fill="#4a9098" opacity="0.4"/></g>
</g>
<g id="chromosome">
<g filter="url(#chrTex)">
<g><rect x="-5.6" y="-2.3" width="11.2" height="4.6" rx="2.6" ry="2.3" transform="translate(189.8,205.6) rotate(250.7)" fill="url(#chrBf)"/><rect x="-5.9" y="-2.3" width="11.8" height="4.6" rx="2.6" ry="2.3" transform="translate(187.6,206.4) rotate(253.3)" fill="url(#chrCf)"/><rect x="-6.3" y="-2.3" width="12.6" height="4.6" rx="2.6" ry="2.3" transform="translate(185.4,207.1) rotate(251.4)" fill="url(#chrBf)"/><rect x="-6.6" y="-2.3" width="13.2" height="4.6" rx="2.6" ry="2.3" transform="translate(183.2,207.9) rotate(251.8)" fill="url(#chrBf)"/><rect x="-6.8" y="-2.3" width="13.5" height="4.6" rx="2.6" ry="2.3" transform="translate(181,208.7) rotate(250.7)" fill="url(#chrBf)"/><rect x="-7.3" y="-2.3" width="14.6" height="4.6" rx="2.6" ry="2.3" transform="translate(178.9,209.6) rotate(245.9)" fill="url(#chrBf)"/><rect x="-7.7" y="-2.3" width="15.4" height="4.6" rx="2.6" ry="2.3" transform="translate(176.8,210.6) rotate(240.7)" fill="url(#chrBf)"/><rect x="-8.2" y="-2.3" width="16.5" height="4.6" rx="2.6" ry="2.3" transform="translate(174.7,211.7) rotate(241.5)" fill="url(#chrBf)"/><rect x="-9.1" y="-2.3" width="18.1" height="4.6" rx="2.6" ry="2.3" transform="translate(172.7,212.9) rotate(241.2)" fill="url(#chrBf)"/><rect x="-9.3" y="-2.3" width="18.7" height="4.6" rx="2.6" ry="2.3" transform="translate(170.8,214.1) rotate(235.3)" fill="url(#chrAf)"/><rect x="-10" y="-2.3" width="19.9" height="4.6" rx="2.6" ry="2.3" transform="translate(168.8,215.4) rotate(237)" fill="url(#chrBf)"/><rect x="-10.6" y="-2.3" width="21.3" height="4.6" rx="2.6" ry="2.3" transform="translate(166.9,216.7) rotate(232)" fill="url(#chrAf)"/><rect x="-11.8" y="-2.3" width="23.6" height="4.6" rx="2.6" ry="2.3" transform="translate(165,218.1) rotate(231.9)" fill="url(#chrBf)"/><rect x="-12" y="-2.3" width="23.9" height="4.6" rx="2.6" ry="2.3" transform="translate(163.1,219.5) rotate(234.2)" fill="url(#chrCf)"/><rect x="-13" y="-2.3" width="25.9" height="4.6" rx="2.6" ry="2.3" transform="translate(161.3,220.9) rotate(228.7)" fill="url(#chrBf)"/><rect x="-13.6" y="-2.3" width="27.1" height="4.6" rx="2.6" ry="2.3" transform="translate(159.6,222.4) rotate(228.2)" fill="url(#chrBf)"/><rect x="-14.1" y="-2.3" width="28.2" height="4.6" rx="2.6" ry="2.3" transform="translate(157.9,224.1) rotate(225.8)" fill="url(#chrBf)"/><rect x="-13.7" y="-2.3" width="27.5" height="4.6" rx="2.6" ry="2.3" transform="translate(156.3,225.8) rotate(224.2)" fill="url(#chrCf)"/><rect x="-14.9" y="-2.3" width="29.9" height="4.6" rx="2.6" ry="2.3" transform="translate(154.8,227.5) rotate(219.7)" fill="url(#chrBf)"/><rect x="-14.8" y="-2.3" width="29.5" height="4.6" rx="2.6" ry="2.3" transform="translate(153.3,229.3) rotate(217.6)" fill="url(#chrCf)"/><rect x="-14.9" y="-2.3" width="29.7" height="4.6" rx="2.6" ry="2.3" transform="translate(151.8,231.1) rotate(219.5)" fill="url(#chrBf)"/><rect x="-15.3" y="-2.3" width="30.6" height="4.6" rx="2.6" ry="2.3" transform="translate(150.4,232.9) rotate(220.7)" fill="url(#chrCf)"/><rect x="-16" y="-2.3" width="31.9" height="4.6" rx="2.6" ry="2.3" transform="translate(148.9,234.7) rotate(219.4)" fill="url(#chrBf)"/><rect x="-16.6" y="-2.3" width="33.2" height="4.6" rx="2.6" ry="2.3" transform="translate(147.4,236.5) rotate(221.2)" fill="url(#chrBf)"/><rect x="-16.6" y="-2.3" width="33.2" height="4.6" rx="2.6" ry="2.3" transform="translate(145.9,238.3) rotate(220.9)" fill="url(#chrBf)"/><rect x="-18" y="-2.3" width="36" height="4.6" rx="2.6" ry="2.3" transform="translate(144.4,240.1) rotate(222.2)" fill="url(#chrAf)"/><rect x="-17.9" y="-2.3" width="35.7" height="4.6" rx="2.6" ry="2.3" transform="translate(142.9,241.9) rotate(218.3)" fill="url(#chrBf)"/><rect x="-18.3" y="-2.3" width="36.5" height="4.6" rx="2.6" ry="2.3" transform="translate(141.5,243.7) rotate(219.2)" fill="url(#chrBf)"/><rect x="-18.2" y="-2.3" width="36.5" height="4.6" rx="2.6" ry="2.3" transform="translate(140,245.5) rotate(219.3)" fill="url(#chrBf)"/><rect x="-19.3" y="-2.3" width="38.6" height="4.6" rx="2.6" ry="2.3" transform="translate(138.6,247.3) rotate(215.8)" fill="url(#chrBf)"/><rect x="-19.1" y="-2.3" width="38.1" height="4.6" rx="2.6" ry="2.3" transform="translate(137.1,249.1) rotate(221)" fill="url(#chrBf)"/><rect x="-19.7" y="-2.3" width="39.3" height="4.6" rx="2.6" ry="2.3" transform="translate(135.7,251) rotate(216.6)" fill="url(#chrBf)"/><rect x="-20.2" y="-2.3" width="40.4" height="4.6" rx="2.6" ry="2.3" transform="translate(134.2,252.8) rotate(217.1)" fill="url(#chrBf)"/><rect x="-20.6" y="-2.3" width="41.2" height="4.6" rx="2.6" ry="2.3" transform="translate(132.8,254.6) rotate(219.6)" fill="url(#chrAf)"/><rect x="-20.6" y="-2.3" width="41.2" height="4.6" rx="2.6" ry="2.3" transform="translate(131.4,256.5) rotate(219.7)" fill="url(#chrBf)"/><rect x="-21.6" y="-2.3" width="43.2" height="4.6" rx="2.6" ry="2.3" transform="translate(129.9,258.3) rotate(216.9)" fill="url(#chrBf)"/><rect x="-21.1" y="-2.3" width="42.2" height="4.6" rx="2.6" ry="2.3" transform="translate(128.5,260.1) rotate(216)" fill="url(#chrBf)"/><rect x="-21.3" y="-2.3" width="42.6" height="4.6" rx="2.6" ry="2.3" transform="translate(127.1,261.9) rotate(219.6)" fill="url(#chrBf)"/><rect x="-21.6" y="-2.3" width="43.3" height="4.6" rx="2.6" ry="2.3" transform="translate(125.6,263.7) rotate(222.3)" fill="url(#chrBf)"/><rect x="-21.3" y="-2.3" width="42.5" height="4.6" rx="2.6" ry="2.3" transform="translate(124.1,265.5) rotate(219.6)" fill="url(#chrCf)"/><rect x="-21.4" y="-2.3" width="42.9" height="4.6" rx="2.6" ry="2.3" transform="translate(122.5,267.3) rotate(223.3)" fill="url(#chrBf)"/><rect x="-21.6" y="-2.3" width="43.3" height="4.6" rx="2.6" ry="2.3" transform="translate(121,269) rotate(222.4)" fill="url(#chrCf)"/><rect x="-20.4" y="-2.3" width="40.7" height="4.6" rx="2.6" ry="2.3" transform="translate(119.8,270.4) rotate(219)" fill="url(#chrBf)"/><rect x="-21" y="-2.3" width="42.1" height="4.6" rx="2.6" ry="2.3" transform="translate(118.6,271.8) rotate(223.9)" fill="url(#chrAf)"/><rect x="-19.8" y="-2.3" width="39.7" height="4.6" rx="2.6" ry="2.3" transform="translate(117.4,273.2) rotate(218.2)" fill="url(#chrBf)"/><rect x="-17.7" y="-2.3" width="35.5" height="4.6" rx="2.6" ry="2.3" transform="translate(116.2,274.6) rotate(220.1)" fill="url(#chrCf)"/><rect x="-14.4" y="-2.3" width="28.7" height="4.6" rx="2.6" ry="2.3" transform="translate(115,275.9) rotate(220.6)" fill="url(#chrBf)"/><rect x="-9.3" y="-2.3" width="18.5" height="4.6" rx="2.6" ry="2.3" transform="translate(113.8,277.3) rotate(223.5)" fill="url(#chrAf)"/></g>
<g><rect x="-5.4" y="-2.3" width="10.8" height="4.6" rx="2.6" ry="2.3" transform="translate(189.8,205.6) rotate(171.6)" fill="url(#chrBf)"/><rect x="-6.1" y="-2.3" width="12.3" height="4.6" rx="2.6" ry="2.3" transform="translate(190.1,207.9) rotate(174.3)" fill="url(#chrAf)"/><rect x="-6.6" y="-2.3" width="13.1" height="4.6" rx="2.6" ry="2.3" transform="translate(190.5,210.1) rotate(173.2)" fill="url(#chrBf)"/><rect x="-6.8" y="-2.3" width="13.7" height="4.6" rx="2.6" ry="2.3" transform="translate(190.7,212.4) rotate(171.8)" fill="url(#chrBf)"/><rect x="-7.3" y="-2.3" width="14.5" height="4.6" rx="2.6" ry="2.3" transform="translate(190.9,214.7) rotate(173.6)" fill="url(#chrBf)"/><rect x="-7.8" y="-2.3" width="15.6" height="4.6" rx="2.6" ry="2.3" transform="translate(191,217) rotate(175.6)" fill="url(#chrAf)"/><rect x="-7.9" y="-2.3" width="15.9" height="4.6" rx="2.6" ry="2.3" transform="translate(191.1,219.2) rotate(181.2)" fill="url(#chrBf)"/><rect x="-8.2" y="-2.3" width="16.3" height="4.6" rx="2.6" ry="2.3" transform="translate(191.2,221.5) rotate(178.9)" fill="url(#chrCf)"/><rect x="-8.5" y="-2.3" width="17" height="4.6" rx="2.6" ry="2.3" transform="translate(191.2,223.8) rotate(178.3)" fill="url(#chrBf)"/><rect x="-8.7" y="-2.3" width="17.5" height="4.6" rx="2.6" ry="2.3" transform="translate(191.2,226.1) rotate(182.7)" fill="url(#chrAf)"/><rect x="-9.3" y="-2.3" width="18.7" height="4.6" rx="2.6" ry="2.3" transform="translate(191.2,228.4) rotate(184)" fill="url(#chrBf)"/><rect x="-9.6" y="-2.3" width="19.2" height="4.6" rx="2.6" ry="2.3" transform="translate(191.1,230.7) rotate(182.8)" fill="url(#chrBf)"/><rect x="-9.7" y="-2.3" width="19.4" height="4.6" rx="2.6" ry="2.3" transform="translate(191,232.9) rotate(181.1)" fill="url(#chrBf)"/><rect x="-10.2" y="-2.3" width="20.4" height="4.6" rx="2.6" ry="2.3" transform="translate(190.9,235.2) rotate(183.2)" fill="url(#chrAf)"/><rect x="-10.5" y="-2.3" width="20.9" height="4.6" rx="2.6" ry="2.3" transform="translate(190.8,237.5) rotate(182.5)" fill="url(#chrBf)"/><rect x="-10.6" y="-2.3" width="21.3" height="4.6" rx="2.6" ry="2.3" transform="translate(190.6,239.8) rotate(186)" fill="url(#chrCf)"/><rect x="-10.8" y="-2.3" width="21.5" height="4.6" rx="2.6" ry="2.3" transform="translate(190.4,242.1) rotate(183)" fill="url(#chrBf)"/><rect x="-11.1" y="-2.3" width="22.2" height="4.6" rx="2.6" ry="2.3" transform="translate(190.1,244.3) rotate(188.1)" fill="url(#chrCf)"/><rect x="-11.8" y="-2.3" width="23.5" height="4.6" rx="2.6" ry="2.3" transform="translate(189.8,246.6) rotate(190.7)" fill="url(#chrBf)"/><rect x="-12.3" y="-2.3" width="24.6" height="4.6" rx="2.6" ry="2.3" transform="translate(189.3,248.8) rotate(194.9)" fill="url(#chrCf)"/><rect x="-12.2" y="-2.3" width="24.3" height="4.6" rx="2.6" ry="2.3" transform="translate(188.7,251) rotate(195.4)" fill="url(#chrBf)"/><rect x="-12.9" y="-2.3" width="25.9" height="4.6" rx="2.6" ry="2.3" transform="translate(188,253.2) rotate(200.6)" fill="url(#chrBf)"/><rect x="-13.5" y="-2.3" width="27.1" height="4.6" rx="2.6" ry="2.3" transform="translate(187.3,255.4) rotate(198.9)" fill="url(#chrBf)"/><rect x="-14.1" y="-2.3" width="28.1" height="4.6" rx="2.6" ry="2.3" transform="translate(186.4,257.5) rotate(201.6)" fill="url(#chrAf)"/><rect x="-14.3" y="-2.3" width="28.7" height="4.6" rx="2.6" ry="2.3" transform="translate(185.6,259.6) rotate(205.4)" fill="url(#chrBf)"/><rect x="-15.4" y="-2.3" width="30.8" height="4.6" rx="2.6" ry="2.3" transform="translate(184.6,261.7) rotate(206.2)" fill="url(#chrCf)"/><rect x="-15.9" y="-2.3" width="31.9" height="4.6" rx="2.6" ry="2.3" transform="translate(183.6,263.7) rotate(206.2)" fill="url(#chrBf)"/><rect x="-16" y="-2.3" width="32" height="4.6" rx="2.6" ry="2.3" transform="translate(182.5,265.8) rotate(206.6)" fill="url(#chrCf)"/><rect x="-16.4" y="-2.3" width="32.7" height="4.6" rx="2.6" ry="2.3" transform="translate(181.4,267.7) rotate(209.9)" fill="url(#chrBf)"/><rect x="-16.7" y="-2.3" width="33.4" height="4.6" rx="2.6" ry="2.3" transform="translate(180.2,269.7) rotate(211.5)" fill="url(#chrBf)"/><rect x="-17.8" y="-2.3" width="35.7" height="4.6" rx="2.6" ry="2.3" transform="translate(178.9,271.6) rotate(214.8)" fill="url(#chrBf)"/><rect x="-18.1" y="-2.3" width="36.3" height="4.6" rx="2.6" ry="2.3" transform="translate(177.5,273.4) rotate(216.1)" fill="url(#chrAf)"/><rect x="-18" y="-2.3" width="36" height="4.6" rx="2.6" ry="2.3" transform="translate(176.1,275.2) rotate(219.8)" fill="url(#chrBf)"/><rect x="-18.8" y="-2.3" width="37.6" height="4.6" rx="2.6" ry="2.3" transform="translate(174.7,277) rotate(220.7)" fill="url(#chrAf)"/><rect x="-18.9" y="-2.3" width="37.9" height="4.6" rx="2.6" ry="2.3" transform="translate(173.3,278.8) rotate(221.8)" fill="url(#chrBf)"/><rect x="-19.2" y="-2.3" width="38.5" height="4.6" rx="2.6" ry="2.3" transform="translate(171.8,280.5) rotate(219.1)" fill="url(#chrCf)"/><rect x="-19.5" y="-2.3" width="38.9" height="4.6" rx="2.6" ry="2.3" transform="translate(170.4,282.3) rotate(220.9)" fill="url(#chrBf)"/><rect x="-20.3" y="-2.3" width="40.5" height="4.6" rx="2.6" ry="2.3" transform="translate(169,284.1) rotate(217.4)" fill="url(#chrAf)"/><rect x="-20.5" y="-2.3" width="41" height="4.6" rx="2.6" ry="2.3" transform="translate(167.7,286) rotate(215)" fill="url(#chrBf)"/><rect x="-21" y="-2.3" width="41.9" height="4.6" rx="2.6" ry="2.3" transform="translate(166.3,287.8) rotate(217.3)" fill="url(#chrAf)"/><rect x="-20" y="-2.3" width="40.1" height="4.6" rx="2.6" ry="2.3" transform="translate(164.9,289.6) rotate(219.4)" fill="url(#chrBf)"/><rect x="-20.2" y="-2.3" width="40.5" height="4.6" rx="2.6" ry="2.3" transform="translate(163.6,291.5) rotate(218.8)" fill="url(#chrAf)"/><rect x="-20.1" y="-2.3" width="40.2" height="4.6" rx="2.6" ry="2.3" transform="translate(162.2,293.3) rotate(214.5)" fill="url(#chrBf)"/><rect x="-20.3" y="-2.3" width="40.6" height="4.6" rx="2.6" ry="2.3" transform="translate(160.9,295.2) rotate(213.6)" fill="url(#chrBf)"/><rect x="-20" y="-2.3" width="39.9" height="4.6" rx="2.6" ry="2.3" transform="translate(159.5,297) rotate(217.5)" fill="url(#chrBf)"/><rect x="-20.9" y="-2.3" width="41.7" height="4.6" rx="2.6" ry="2.3" transform="translate(158.4,298.5) rotate(214.7)" fill="url(#chrCf)"/><rect x="-19.6" y="-2.3" width="39.3" height="4.6" rx="2.6" ry="2.3" transform="translate(157.3,300) rotate(213.5)" fill="url(#chrBf)"/><rect x="-18.7" y="-2.3" width="37.3" height="4.6" rx="2.6" ry="2.3" transform="translate(156.2,301.4) rotate(215.2)" fill="url(#chrBf)"/><rect x="-15.4" y="-2.3" width="30.9" height="4.6" rx="2.6" ry="2.3" transform="translate(155.1,302.9) rotate(217.6)" fill="url(#chrBf)"/><rect x="-9.7" y="-2.3" width="19.3" height="4.6" rx="2.6" ry="2.3" transform="translate(154,304.4) rotate(219.3)" fill="url(#chrAf)"/></g>
<g><rect x="-5.5" y="-2.3" width="11" height="4.6" rx="2.6" ry="2.3" transform="translate(189.8,205.6) rotate(87.2)" fill="url(#chrB)"/><rect x="-5.6" y="-2.3" width="11.3" height="4.6" rx="2.6" ry="2.3" transform="translate(192.1,205.6) rotate(88.8)" fill="url(#chrA)"/><rect x="-5.8" y="-2.3" width="11.6" height="4.6" rx="2.6" ry="2.3" transform="translate(194.5,205.6) rotate(88.8)" fill="url(#chrB)"/><rect x="-6.2" y="-2.3" width="12.4" height="4.6" rx="2.6" ry="2.3" transform="translate(196.8,205.6) rotate(88.8)" fill="url(#chrA)"/><rect x="-6.3" y="-2.3" width="12.5" height="4.6" rx="2.6" ry="2.3" transform="translate(199.1,205.5) rotate(88)" fill="url(#chrB)"/><rect x="-6.7" y="-2.3" width="13.3" height="4.6" rx="2.6" ry="2.3" transform="translate(201.4,205.5) rotate(90.2)" fill="url(#chrA)"/><rect x="-6.8" y="-2.3" width="13.6" height="4.6" rx="2.6" ry="2.3" transform="translate(203.8,205.5) rotate(88.2)" fill="url(#chrB)"/><rect x="-7.1" y="-2.3" width="14.1" height="4.6" rx="2.6" ry="2.3" transform="translate(206.1,205.5) rotate(86)" fill="url(#chrC)"/><rect x="-7.7" y="-2.3" width="15.4" height="4.6" rx="2.6" ry="2.3" transform="translate(208.4,205.3) rotate(82.2)" fill="url(#chrB)"/><rect x="-8.1" y="-2.3" width="16.2" height="4.6" rx="2.6" ry="2.3" transform="translate(210.7,205) rotate(80)" fill="url(#chrB)"/><rect x="-9" y="-2.3" width="17.9" height="4.6" rx="2.6" ry="2.3" transform="translate(213,204.5) rotate(79.2)" fill="url(#chrB)"/><rect x="-9.8" y="-2.3" width="19.5" height="4.6" rx="2.6" ry="2.3" transform="translate(215.3,203.9) rotate(73.6)" fill="url(#chrB)"/><rect x="-10.8" y="-2.3" width="21.6" height="4.6" rx="2.6" ry="2.3" transform="translate(217.5,203.2) rotate(69.9)" fill="url(#chrB)"/><rect x="-11.6" y="-2.3" width="23.2" height="4.6" rx="2.6" ry="2.3" transform="translate(219.6,202.3) rotate(64.5)" fill="url(#chrB)"/><rect x="-12.7" y="-2.3" width="25.4" height="4.6" rx="2.6" ry="2.3" transform="translate(221.7,201.2) rotate(58.3)" fill="url(#chrB)"/><rect x="-12.7" y="-2.3" width="25.4" height="4.6" rx="2.6" ry="2.3" transform="translate(223.7,200) rotate(55)" fill="url(#chrB)"/><rect x="-13.6" y="-2.3" width="27.2" height="4.6" rx="2.6" ry="2.3" transform="translate(225.5,198.6) rotate(54.4)" fill="url(#chrB)"/><rect x="-14.4" y="-2.3" width="28.9" height="4.6" rx="2.6" ry="2.3" transform="translate(227.3,197.1) rotate(52.3)" fill="url(#chrB)"/><rect x="-15.2" y="-2.3" width="30.3" height="4.6" rx="2.6" ry="2.3" transform="translate(229.1,195.6) rotate(46.1)" fill="url(#chrB)"/><rect x="-15.1" y="-2.3" width="30.3" height="4.6" rx="2.6" ry="2.3" transform="translate(230.8,194) rotate(47.6)" fill="url(#chrC)"/><rect x="-15.8" y="-2.3" width="31.6" height="4.6" rx="2.6" ry="2.3" transform="translate(232.5,192.5) rotate(45.4)" fill="url(#chrB)"/><rect x="-15.9" y="-2.3" width="31.7" height="4.6" rx="2.6" ry="2.3" transform="translate(234.2,190.9) rotate(46.1)" fill="url(#chrA)"/><rect x="-16.4" y="-2.3" width="32.7" height="4.6" rx="2.6" ry="2.3" transform="translate(235.9,189.3) rotate(47.8)" fill="url(#chrB)"/><rect x="-16.3" y="-2.3" width="32.7" height="4.6" rx="2.6" ry="2.3" transform="translate(237.5,187.6) rotate(42.9)" fill="url(#chrC)"/><rect x="-15.7" y="-2.3" width="31.3" height="4.6" rx="2.6" ry="2.3" transform="translate(239.2,185.9) rotate(45.4)" fill="url(#chrB)"/><rect x="-15.7" y="-2.3" width="31.4" height="4.6" rx="2.6" ry="2.3" transform="translate(240.8,184.3) rotate(44.1)" fill="url(#chrB)"/><rect x="-15.9" y="-2.3" width="31.7" height="4.6" rx="2.6" ry="2.3" transform="translate(242.4,182.6) rotate(47)" fill="url(#chrB)"/><rect x="-15.6" y="-2.3" width="31.2" height="4.6" rx="2.6" ry="2.3" transform="translate(244.1,180.9) rotate(47.4)" fill="url(#chrA)"/><rect x="-15.1" y="-2.3" width="30.3" height="4.6" rx="2.6" ry="2.3" transform="translate(245.7,179.3) rotate(43.8)" fill="url(#chrB)"/><rect x="-15" y="-2.3" width="30" height="4.6" rx="2.6" ry="2.3" transform="translate(247.4,177.6) rotate(44)" fill="url(#chrC)"/><rect x="-14.4" y="-2.3" width="28.7" height="4.6" rx="2.6" ry="2.3" transform="translate(249,176) rotate(42.2)" fill="url(#chrB)"/><rect x="-13.9" y="-2.3" width="27.8" height="4.6" rx="2.6" ry="2.3" transform="translate(250.3,174.7) rotate(46.1)" fill="url(#chrA)"/><rect x="-12.7" y="-2.3" width="25.5" height="4.6" rx="2.6" ry="2.3" transform="translate(251.6,173.4) rotate(42)" fill="url(#chrB)"/><rect x="-8.5" y="-2.3" width="17.1" height="4.6" rx="2.6" ry="2.3" transform="translate(252.9,172.1) rotate(46.1)" fill="url(#chrA)"/></g>
<g><rect x="-5.3" y="-2.3" width="10.7" height="4.6" rx="2.6" ry="2.3" transform="translate(189.8,205.6) rotate(-2.8)" fill="url(#chrB)"/><rect x="-6.2" y="-2.3" width="12.5" height="4.6" rx="2.6" ry="2.3" transform="translate(189.7,203.3) rotate(-2.1)" fill="url(#chrB)"/><rect x="-7.1" y="-2.3" width="14.2" height="4.6" rx="2.6" ry="2.3" transform="translate(189.5,201) rotate(-2.7)" fill="url(#chrB)"/><rect x="-7.6" y="-2.3" width="15.3" height="4.6" rx="2.6" ry="2.3" transform="translate(189.4,198.7) rotate(-2.7)" fill="url(#chrB)"/><rect x="-8.5" y="-2.3" width="16.9" height="4.6" rx="2.6" ry="2.3" transform="translate(189.2,196.4) rotate(-2.1)" fill="url(#chrB)"/><rect x="-9.2" y="-2.3" width="18.5" height="4.6" rx="2.6" ry="2.3" transform="translate(189.1,194.1) rotate(-0.1)" fill="url(#chrB)"/><rect x="-9.9" y="-2.3" width="19.9" height="4.6" rx="2.6" ry="2.3" transform="translate(189,191.8) rotate(-4.3)" fill="url(#chrB)"/><rect x="-10.4" y="-2.3" width="20.9" height="4.6" rx="2.6" ry="2.3" transform="translate(189,189.5) rotate(1)" fill="url(#chrB)"/><rect x="-11" y="-2.3" width="21.9" height="4.6" rx="2.6" ry="2.3" transform="translate(189,187.2) rotate(2.7)" fill="url(#chrB)"/><rect x="-11.5" y="-2.3" width="23.1" height="4.6" rx="2.6" ry="2.3" transform="translate(189.1,185) rotate(1.8)" fill="url(#chrB)"/><rect x="-12.1" y="-2.3" width="24.1" height="4.6" rx="2.6" ry="2.3" transform="translate(189.3,182.7) rotate(5.1)" fill="url(#chrB)"/><rect x="-12.5" y="-2.3" width="24.9" height="4.6" rx="2.6" ry="2.3" transform="translate(189.5,180.4) rotate(7)" fill="url(#chrB)"/><rect x="-12.6" y="-2.3" width="25.1" height="4.6" rx="2.6" ry="2.3" transform="translate(189.9,178.1) rotate(12)" fill="url(#chrB)"/><rect x="-13.5" y="-2.3" width="27" height="4.6" rx="2.6" ry="2.3" transform="translate(190.4,175.9) rotate(16.7)" fill="url(#chrC)"/><rect x="-13.7" y="-2.3" width="27.4" height="4.6" rx="2.6" ry="2.3" transform="translate(191.1,173.7) rotate(20.6)" fill="url(#chrB)"/><rect x="-13.8" y="-2.3" width="27.6" height="4.6" rx="2.6" ry="2.3" transform="translate(191.9,171.5) rotate(19.2)" fill="url(#chrC)"/><rect x="-14" y="-2.3" width="28" height="4.6" rx="2.6" ry="2.3" transform="translate(192.8,169.4) rotate(21.7)" fill="url(#chrB)"/><rect x="-14.6" y="-2.3" width="29.2" height="4.6" rx="2.6" ry="2.3" transform="translate(193.8,167.3) rotate(26)" fill="url(#chrA)"/><rect x="-14.6" y="-2.3" width="29.2" height="4.6" rx="2.6" ry="2.3" transform="translate(194.9,165.3) rotate(25.9)" fill="url(#chrB)"/><rect x="-15" y="-2.3" width="30" height="4.6" rx="2.6" ry="2.3" transform="translate(195.9,163.3) rotate(31.6)" fill="url(#chrC)"/><rect x="-15" y="-2.3" width="30" height="4.6" rx="2.6" ry="2.3" transform="translate(197.1,161.3) rotate(33.3)" fill="url(#chrB)"/><rect x="-15.1" y="-2.3" width="30.1" height="4.6" rx="2.6" ry="2.3" transform="translate(198.3,159.3) rotate(32.6)" fill="url(#chrB)"/><rect x="-14.8" y="-2.3" width="29.6" height="4.6" rx="2.6" ry="2.3" transform="translate(199.6,157.4) rotate(34.4)" fill="url(#chrB)"/><rect x="-15.3" y="-2.3" width="30.5" height="4.6" rx="2.6" ry="2.3" transform="translate(200.9,155.5) rotate(36.7)" fill="url(#chrA)"/><rect x="-15.5" y="-2.3" width="31.1" height="4.6" rx="2.6" ry="2.3" transform="translate(202.3,153.7) rotate(37.4)" fill="url(#chrB)"/><rect x="-15.5" y="-2.3" width="30.9" height="4.6" rx="2.6" ry="2.3" transform="translate(203.6,151.8) rotate(34.7)" fill="url(#chrA)"/><rect x="-15.8" y="-2.3" width="31.6" height="4.6" rx="2.6" ry="2.3" transform="translate(204.9,150) rotate(35.9)" fill="url(#chrB)"/><rect x="-15.1" y="-2.3" width="30.3" height="4.6" rx="2.6" ry="2.3" transform="translate(206.2,148) rotate(29.5)" fill="url(#chrB)"/><rect x="-15.5" y="-2.3" width="31" height="4.6" rx="2.6" ry="2.3" transform="translate(207.4,146.1) rotate(30.4)" fill="url(#chrB)"/><rect x="-15.3" y="-2.3" width="30.6" height="4.6" rx="2.6" ry="2.3" transform="translate(208.4,144) rotate(26.5)" fill="url(#chrC)"/><rect x="-15.5" y="-2.3" width="31" height="4.6" rx="2.6" ry="2.3" transform="translate(209.5,142) rotate(25.7)" fill="url(#chrB)"/><rect x="-15.2" y="-2.3" width="30.3" height="4.6" rx="2.6" ry="2.3" transform="translate(210.4,140.4) rotate(26.3)" fill="url(#chrC)"/><rect x="-13.8" y="-2.3" width="27.5" height="4.6" rx="2.6" ry="2.3" transform="translate(211.2,138.8) rotate(27.1)" fill="url(#chrB)"/><rect x="-8.7" y="-2.3" width="17.3" height="4.6" rx="2.6" ry="2.3" transform="translate(212.1,137.1) rotate(28.7)" fill="url(#chrB)"/></g>
<ellipse cx="189.8" cy="205.6" rx="6" ry="5.5" fill="#4a74b4"/>
</g>
</g>
<g id="chromatin">
<path d="M256.4,166.8C256.9,166.2 258.5,163.6 259.3,163.3C260.1,163 260.4,165.4 261,165C261.7,164.6 262.6,161.2 263.4,161C264.1,160.7 264.9,163.8 265.7,163.3C266.4,162.8 267.3,158.5 268,158.1C268.7,157.6 269.2,161 269.7,160.4C270.3,159.8 270.7,155.6 271.5,154.6C272.3,153.5 273.4,154.3 274.4,154C275.4,153.7 276.8,153 277.3,152.8" fill="none" stroke="#2f8ccc" stroke-width="1.5" stroke-linecap="round"/>
<path d="M256.4,166.8C256.9,166.2 258.5,163.6 259.3,163.3C260.1,163 260.4,165.4 261,165C261.7,164.6 262.6,161.2 263.4,161C264.1,160.7 264.9,163.8 265.7,163.3C266.4,162.8 267.3,158.5 268,158.1C268.7,157.6 269.2,161 269.7,160.4C270.3,159.8 270.7,155.6 271.5,154.6C272.3,153.5 273.4,154.3 274.4,154C275.4,153.7 276.8,153 277.3,152.8" fill="none" stroke="#8fdcf4" stroke-width="0.7" stroke-linecap="round"/>
<polyline points="277.3,152.8 277.2,152.3 277.2,151.6 277.1,150.8 277,149.9 276.9,149 276.8,148 276.7,147 276.6,146 276.5,145 276.5,144.1 276.4,143.3 276.3,142.4 276.3,141.5 276.2,140.7 276.1,139.8 276,139 276,138.2 276,137.4 276,136.7 276.1,136 276.2,135.4 276.4,134.8 276.6,134.2 276.8,133.6 277,133.1 277.3,132.7 277.6,132.2 277.9,131.9 278.2,131.6 278.4,131.3 278.8,131.2 279.1,131 279.5,131 279.9,130.9 280.3,131 280.6,131 281,131.2 281.4,131.4 281.7,131.6 281.9,131.9 282.1,132.3 282.3,132.8 282.4,133.4 282.6,134 282.7,134.7 282.7,135.4 282.8,136.1 282.9,136.8 283,137.6 283.1,138.3 283.2,139.1 283.3,139.9 283.4,140.7 283.5,141.6 283.6,142.5 283.7,143.3 283.9,144.2 284,145 284.1,145.7 284.3,146.4 284.4,147.1 284.6,147.8 284.7,148.4 284.9,149.1 285.1,149.7 285.2,150.2 285.4,150.7 285.6,151.1 285.8,151.4 286,151.7 286.2,151.8 286.5,151.9 286.7,151.9 287,151.8 287.3,151.6 287.6,151.4 287.8,151.1 288,150.8 288.2,150.4 288.3,149.9 288.4,149.4 288.4,148.7 288.4,147.9 288.3,147.1 288.3,146.2 288.2,145.3 288.1,144.4 288,143.5 287.9,142.6 287.7,141.8 287.6,141 287.4,140.3 287.2,139.5 287,138.7 286.8,138 286.5,137.2 286.3,136.5 286.2,135.9 286.1,135.3 286,134.8 286,134.4 286,134 286.1,133.6 286.2,133.2 286.3,132.9 286.5,132.7 286.6,132.5 286.8,132.5 287,132.4 287.2,132.5 287.3,132.7 287.6,132.9 287.8,133.2 288.1,133.6 288.3,134.1 288.6,134.6 288.8,135.2 289.1,135.8 289.3,136.5 289.5,137.2 289.6,137.9 289.8,138.8 290,139.7 290.1,140.7 290.2,141.7 290.4,142.8 290.5,143.8 290.5,144.7 290.6,145.6 290.6,146.4 290.7,147.2 290.7,147.9 290.7,148.5 290.8,149.2 290.7,149.7 290.7,150.3 290.6,150.8 290.5,151.3 290.3,151.8 290.1,152.2 289.7,152.7 289.3,153.1 288.8,153.4 288.3,153.8 287.7,154.1 287.1,154.4 286.5,154.6 285.9,154.8 285.4,155 284.8,155.2 284.3,155.2 283.8,155.2 283.3,155.2 282.7,155.1 282.2,155 281.7,154.9 281.2,154.8 280.8,154.7 280.5,154.6 280.2,154.6" fill="none" stroke="#1c4f8c" stroke-width="3.2" stroke-linecap="round" stroke-linejoin="round"/><polyline points="276.8,152.9 276.7,152.4 276.7,151.7 276.6,150.9 276.5,150 276.4,149 276.3,148 276.2,147 276.1,146 276,145 276,144.2 275.9,143.3 275.8,142.4 275.8,141.6 275.7,140.7 275.6,139.8 275.6,139 275.5,138.2 275.5,137.4 275.6,136.6 275.6,135.9 275.8,135.3 275.9,134.6 276.1,134 276.3,133.4 276.6,132.9 276.9,132.4 277.2,132 277.5,131.6 277.8,131.2 278.2,130.9 278.5,130.7 279,130.6 279.4,130.5 279.9,130.4 280.3,130.5 280.8,130.5 281.2,130.7 281.6,130.9 282,131.3 282.3,131.7 282.6,132.1 282.8,132.7 282.9,133.3 283.1,133.9 283.2,134.6 283.2,135.3 283.3,136 283.4,136.8 283.5,137.5 283.6,138.2 283.7,139 283.8,139.8 283.9,140.7 284,141.5 284.1,142.4 284.2,143.3 284.4,144.1 284.5,144.9 284.6,145.7 284.7,146.3 284.9,147 285,147.7 285.2,148.3 285.4,148.9 285.5,149.5 285.7,150.1 285.9,150.5 286,150.9 286.2,151.2 286.3,151.3 286.4,151.3 286.5,151.4 286.7,151.4 286.8,151.3 287,151.2 287.2,151.1 287.4,150.8 287.6,150.6 287.7,150.2 287.8,149.8 287.9,149.3 287.9,148.7 287.9,147.9 287.8,147.1 287.8,146.2 287.7,145.3 287.6,144.4 287.5,143.5 287.4,142.7 287.2,141.9 287.1,141.1 286.9,140.4 286.7,139.6 286.5,138.8 286.3,138.1 286.1,137.4 285.9,136.7 285.7,136 285.6,135.4 285.5,134.9 285.5,134.4 285.5,133.9 285.6,133.5 285.7,133.1 285.9,132.7 286.1,132.4 286.3,132.2 286.7,132 287.1,131.9 287.4,132.1 287.7,132.3 288,132.6 288.2,133 288.5,133.4 288.8,133.9 289,134.4 289.3,135 289.5,135.6 289.8,136.3 290,137 290.1,137.8 290.3,138.7 290.5,139.6 290.6,140.6 290.7,141.7 290.9,142.7 291,143.7 291,144.7 291.1,145.6 291.1,146.4 291.2,147.2 291.2,147.8 291.2,148.5 291.3,149.2 291.2,149.8 291.2,150.4 291.1,150.9 291,151.5 290.8,152 290.5,152.5 290.1,153 289.6,153.5 289.1,153.9 288.5,154.2 287.9,154.5 287.3,154.8 286.7,155.1 286.1,155.3 285.5,155.5 284.9,155.6 284.4,155.7 283.8,155.7 283.2,155.7 282.6,155.6 282.1,155.5 281.6,155.4 281.1,155.3 280.7,155.2 280.4,155.1 280.1,155.1" fill="none" stroke="#2ea6e0" stroke-width="1.8" stroke-linecap="round" stroke-linejoin="round"/><polyline points="277.7,152.8 277.6,152.3 277.6,151.6 277.5,150.8 277.4,149.9 277.3,148.9 277.2,147.9 277.1,146.9 277,145.9 276.9,145 276.9,144.1 276.8,143.2 276.7,142.4 276.6,141.5 276.6,140.6 276.5,139.8 276.4,138.9 276.4,138.1 276.4,137.4 276.4,136.7 276.5,136.1 276.6,135.5 276.8,134.9 277,134.3 277.2,133.8 277.4,133.3 277.6,132.9 277.9,132.5 278.2,132.2 278.4,131.9 278.7,131.7 278.9,131.5 279.2,131.4 279.5,131.4 279.9,131.3 280.2,131.3 280.5,131.4 280.9,131.5 281.1,131.7 281.4,131.9 281.6,132.2 281.8,132.5 281.9,132.9 282.1,133.4 282.2,134 282.3,134.7 282.3,135.4 282.4,136.1 282.5,136.9 282.6,137.6 282.7,138.4 282.8,139.1 282.9,139.9 283,140.8 283.1,141.6 283.2,142.5 283.3,143.4 283.5,144.2 283.6,145 283.7,145.8 283.9,146.5 284,147.2 284.2,147.9 284.3,148.5 284.5,149.2 284.7,149.8 284.9,150.4 285,150.9 285.2,151.3 285.5,151.7 285.7,152 286.1,152.2 286.4,152.3 286.8,152.3 287.2,152.2 287.5,152 287.8,151.7 288.1,151.4 288.4,151 288.6,150.5 288.7,150 288.8,149.4 288.8,148.7 288.8,147.9 288.7,147.1 288.7,146.2 288.6,145.2 288.5,144.3 288.4,143.4 288.2,142.5 288.1,141.7 288,141 287.8,140.2 287.6,139.4 287.4,138.6 287.1,137.8 286.9,137.1 286.7,136.4 286.6,135.8 286.5,135.3 286.4,134.8 286.4,134.4 286.4,134 286.5,133.7 286.6,133.4 286.7,133.1 286.8,133 286.9,132.9 286.9,132.8 286.9,132.8 286.9,132.8 287.1,133 287.3,133.2 287.5,133.5 287.7,133.8 288,134.3 288.2,134.8 288.5,135.4 288.7,136 288.9,136.6 289.1,137.3 289.3,138 289.4,138.8 289.6,139.8 289.7,140.8 289.8,141.8 290,142.8 290.1,143.8 290.1,144.8 290.2,145.7 290.2,146.5 290.3,147.2 290.3,147.9 290.3,148.5 290.4,149.2 290.3,149.7 290.3,150.3 290.2,150.8 290.1,151.2 290,151.6 289.7,152 289.4,152.4 289,152.8 288.6,153.1 288.1,153.4 287.5,153.7 286.9,154 286.4,154.3 285.8,154.5 285.2,154.6 284.8,154.8 284.3,154.8 283.8,154.8 283.3,154.8 282.8,154.7 282.3,154.7 281.8,154.5 281.3,154.4 280.9,154.3 280.5,154.2 280.3,154.2" fill="none" stroke="#d4f0fa" stroke-width="0.5" stroke-linecap="round" stroke-linejoin="round"/>
<polyline points="290.6,153.6 290.8,153.4 290.9,153.1 291.1,152.8 291.3,152.5 291.5,152.1 291.8,151.7 292,151.3 292.3,150.8 292.5,150.3 292.7,149.7 292.9,149.1 293,148.5 293.2,147.8 293.2,147.1 293.3,146.3 293.3,145.5 293.3,144.5 293.2,143.6 293.2,142.6 293.1,141.6 293.1,140.5 293,139.5 292.9,138.4 292.9,137.4 292.8,136.4 292.8,135.5 292.7,134.5 292.7,133.6 292.6,132.7 292.6,131.8 292.5,130.8 292.5,129.9 292.4,129 292.4,128.1 292.4,127.2 292.4,126.4 292.4,125.5 292.4,124.7 292.4,124 292.5,123.2 292.6,122.5 292.7,121.8 292.8,121.2 293,120.5 293.1,119.9 293.3,119.3 293.5,118.7 293.7,118.2 293.9,117.6 294.2,117.1 294.4,116.7 294.7,116.2 295,115.8 295.2,115.4 295.6,115.1 295.9,114.7 296.3,114.4 296.6,114.1 297,113.8 297.4,113.6 297.8,113.4 298.3,113.2 298.7,113.1 299.1,112.9 299.5,112.9 299.9,112.8 300.3,112.8 300.7,112.8 301.1,112.8 301.5,112.9 302,113 302.4,113.1 302.8,113.3 303.3,113.5 303.7,113.7 304.1,113.9 304.5,114.2 304.8,114.5 305.2,114.8 305.5,115.1 305.8,115.4 306.1,115.8 306.4,116.2 306.6,116.7 306.9,117.1 307.1,117.6 307.4,118.1 307.6,118.6 307.7,119.1 307.9,119.7 308.1,120.2 308.2,120.8 308.3,121.3 308.3,121.8 308.4,122.4 308.4,123 308.3,123.6 308.3,124.2 308.2,124.8 308.1,125.4 308,126 307.9,126.7 307.8,127.3 307.7,127.9 307.6,128.6 307.4,129.2 307.3,129.8 307.2,130.5 307,131.1 306.9,131.8 306.7,132.4 306.5,133.1 306.3,133.7 306.1,134.4 306,135.1 305.8,135.7 305.6,136.4 305.5,137 305.4,137.7 305.3,138.3 305.2,139 305.1,139.6 305.1,140.2 305,140.9 305,141.5 305,142.2 305,142.8 305,143.4 305,144 305.1,144.6 305.1,145.2 305.2,145.7 305.2,146.3 305.3,146.8 305.4,147.3 305.5,147.8 305.6,148.3 305.7,148.8 305.8,149.2 306,149.7 306.1,150.1 306.3,150.5 306.5,150.9 306.8,151.2 307,151.6 307.4,151.8 307.7,152.1 308.2,152.3 308.7,152.5 309.3,152.6 309.9,152.7 310.6,152.7 311.2,152.8 311.9,152.8 312.6,152.8 313.2,152.8 313.8,152.8 314.3,152.8 314.7,152.8 315,152.8" fill="none" stroke="#1a5590" stroke-width="5.6" stroke-linecap="round" stroke-linejoin="round"/><polyline points="289.6,153.2 289.8,152.9 290,152.6 290.2,152.2 290.4,151.9 290.6,151.5 290.8,151.2 291.1,150.8 291.3,150.3 291.5,149.9 291.7,149.4 291.8,148.8 292,148.3 292.1,147.7 292.1,147 292.2,146.3 292.2,145.5 292.2,144.6 292.1,143.6 292.1,142.6 292,141.6 292,140.6 291.9,139.6 291.8,138.5 291.8,137.5 291.7,136.5 291.7,135.5 291.6,134.6 291.6,133.7 291.5,132.7 291.5,131.8 291.4,130.9 291.4,130 291.3,129.1 291.3,128.1 291.3,127.3 291.3,126.4 291.3,125.5 291.3,124.7 291.3,123.9 291.4,123.1 291.5,122.4 291.6,121.6 291.8,120.9 291.9,120.3 292.1,119.6 292.3,119 292.5,118.3 292.7,117.8 292.9,117.2 293.2,116.6 293.5,116.1 293.7,115.6 294.1,115.2 294.4,114.7 294.8,114.3 295.2,113.9 295.6,113.5 296,113.2 296.4,112.9 296.9,112.6 297.4,112.4 297.8,112.2 298.3,112 298.8,111.9 299.3,111.8 299.8,111.7 300.3,111.7 300.8,111.7 301.3,111.7 301.8,111.8 302.3,111.9 302.8,112.1 303.3,112.3 303.7,112.5 304.2,112.7 304.7,113 305.1,113.3 305.5,113.6 305.9,114 306.3,114.3 306.7,114.7 307,115.2 307.3,115.6 307.6,116.1 307.9,116.6 308.1,117.1 308.4,117.7 308.6,118.2 308.8,118.8 309,119.4 309.1,120 309.3,120.5 309.4,121.1 309.4,121.8 309.5,122.4 309.5,123 309.4,123.6 309.4,124.3 309.3,124.9 309.2,125.6 309.1,126.2 309,126.8 308.9,127.5 308.8,128.1 308.6,128.8 308.5,129.4 308.4,130 308.3,130.7 308.1,131.4 307.9,132 307.8,132.7 307.6,133.4 307.4,134 307.2,134.7 307,135.4 306.8,136 306.7,136.6 306.6,137.3 306.4,137.9 306.4,138.5 306.3,139.1 306.2,139.7 306.2,140.3 306.1,140.9 306.1,141.6 306.1,142.2 306.1,142.8 306.1,143.4 306.1,144 306.2,144.5 306.2,145.1 306.3,145.6 306.3,146.1 306.4,146.6 306.5,147.1 306.6,147.6 306.7,148.1 306.8,148.5 306.9,148.9 307,149.3 307.1,149.7 307.3,150 307.5,150.3 307.6,150.6 307.8,150.8 308,151 308.3,151.1 308.5,151.3 309,151.4 309.5,151.5 310,151.6 310.6,151.6 311.3,151.7 311.9,151.7 312.6,151.7 313.2,151.7 313.8,151.7 314.3,151.7 314.7,151.7 315.1,151.7" fill="none" stroke="#30aee6" stroke-width="3.0" stroke-linecap="round" stroke-linejoin="round"/><polyline points="291.3,153.9 291.4,153.7 291.5,153.5 291.7,153.2 291.9,152.9 292.1,152.5 292.4,152.1 292.6,151.6 292.9,151.1 293.1,150.5 293.4,150 293.6,149.3 293.7,148.7 293.9,147.9 293.9,147.2 294,146.3 294,145.5 294,144.5 293.9,143.6 293.9,142.6 293.8,141.5 293.8,140.5 293.7,139.4 293.6,138.4 293.6,137.4 293.5,136.4 293.4,135.4 293.4,134.5 293.4,133.6 293.3,132.6 293.3,131.7 293.2,130.8 293.2,129.9 293.1,129 293.1,128.1 293.1,127.2 293.1,126.4 293.1,125.5 293.1,124.8 293.1,124 293.2,123.3 293.3,122.6 293.4,121.9 293.5,121.3 293.7,120.7 293.8,120.1 294,119.5 294.2,118.9 294.4,118.4 294.6,117.9 294.8,117.5 295,117 295.3,116.6 295.5,116.2 295.8,115.9 296.1,115.5 296.4,115.2 296.7,114.9 297.1,114.7 297.4,114.4 297.8,114.2 298.1,114 298.5,113.9 298.9,113.7 299.3,113.6 299.6,113.5 300,113.5 300.3,113.5 300.7,113.5 301,113.5 301.4,113.6 301.8,113.7 302.2,113.8 302.6,113.9 303,114.1 303.3,114.3 303.7,114.5 304.1,114.8 304.4,115 304.7,115.3 305,115.6 305.3,115.9 305.5,116.2 305.8,116.6 306,117 306.3,117.4 306.5,117.9 306.7,118.4 306.9,118.9 307.1,119.3 307.2,119.9 307.4,120.4 307.5,120.9 307.6,121.4 307.6,121.9 307.7,122.4 307.7,123 307.6,123.5 307.6,124.1 307.5,124.7 307.4,125.3 307.3,125.9 307.2,126.5 307.1,127.2 307,127.8 306.9,128.4 306.7,129.1 306.6,129.7 306.5,130.3 306.4,130.9 306.2,131.6 306,132.2 305.8,132.9 305.6,133.6 305.5,134.2 305.3,134.9 305.1,135.6 304.9,136.2 304.8,136.9 304.7,137.6 304.6,138.2 304.5,138.9 304.4,139.5 304.4,140.2 304.3,140.8 304.3,141.5 304.3,142.1 304.3,142.8 304.3,143.4 304.3,144 304.4,144.7 304.4,145.2 304.5,145.8 304.5,146.4 304.6,146.9 304.7,147.4 304.8,147.9 304.9,148.4 305,148.9 305.2,149.4 305.3,149.9 305.5,150.4 305.7,150.8 305.9,151.3 306.2,151.7 306.5,152.1 306.9,152.4 307.4,152.7 307.9,153 308.5,153.1 309.1,153.3 309.8,153.4 310.5,153.4 311.2,153.5 311.9,153.5 312.5,153.5 313.2,153.5 313.8,153.5 314.3,153.5 314.7,153.5 315,153.5" fill="none" stroke="#e6f7ff" stroke-width="0.9" stroke-linecap="round" stroke-linejoin="round"/><polyline points="292.3,154.5 292.4,154.3 292.5,154.1 292.7,153.8 292.9,153.5 293.2,153.1 293.4,152.7 293.7,152.2 294,151.6 294.3,151 294.5,150.4 294.7,149.7 294.9,148.9 295,148.1 295.1,147.3 295.2,146.4 295.2,145.5 295.2,144.5 295.1,143.5 295.1,142.5 295,141.4 295,140.4 294.9,139.4 294.8,138.3 294.8,137.3 294.7,136.3 294.6,135.4 294.6,134.5 294.6,133.5 294.5,132.6 294.5,131.6 294.4,130.7 294.4,129.8 294.3,128.9 294.3,128 294.3,127.2 294.3,126.4 294.3,125.6 294.3,124.8 294.3,124.1 294.4,123.4 294.5,122.8 294.6,122.2 294.7,121.5 294.8,121 295,120.4 295.1,119.9 295.3,119.3 295.5,118.9 295.7,118.4 295.9,118 296.1,117.6 296.3,117.2 296.5,116.9 296.7,116.6 297,116.3 297.2,116.1 297.5,115.9 297.8,115.6 298,115.4 298.3,115.3 298.7,115.1 299,115 299.3,114.9 299.6,114.8 299.8,114.7 300.1,114.7 300.3,114.7 300.6,114.7 300.9,114.7 301.1,114.7 301.5,114.8 301.8,114.9 302.1,115 302.4,115.2 302.8,115.4 303.1,115.5 303.4,115.7 303.6,115.9 303.9,116.2 304.1,116.4 304.3,116.6 304.6,116.9 304.8,117.3 305,117.6 305.2,118 305.4,118.4 305.6,118.8 305.8,119.3 305.9,119.7 306.1,120.2 306.2,120.6 306.3,121.1 306.4,121.6 306.4,122 306.5,122.5 306.5,122.9 306.4,123.5 306.4,124 306.3,124.5 306.2,125.1 306.2,125.7 306,126.3 305.9,126.9 305.8,127.6 305.7,128.2 305.6,128.8 305.5,129.5 305.3,130 305.2,130.7 305,131.3 304.9,131.9 304.7,132.6 304.5,133.2 304.3,133.9 304.1,134.6 303.9,135.3 303.8,136 303.6,136.7 303.5,137.4 303.4,138.1 303.3,138.8 303.2,139.4 303.2,140.1 303.1,140.8 303.1,141.5 303.1,142.1 303.1,142.8 303.1,143.5 303.1,144.1 303.2,144.7 303.2,145.4 303.3,146 303.4,146.6 303.5,147.1 303.5,147.6 303.6,148.1 303.7,148.7 303.9,149.2 304,149.8 304.2,150.3 304.4,150.8 304.6,151.4 304.9,151.9 305.3,152.4 305.7,152.9 306.2,153.3 306.8,153.8 307.5,154.1 308.2,154.3 308.9,154.4 309.7,154.6 310.4,154.6 311.1,154.7 311.9,154.7 312.5,154.7 313.2,154.7 313.7,154.7 314.2,154.7 314.6,154.7 314.9,154.7" fill="none" stroke="#163a6c" stroke-width="1.4" stroke-linecap="round" stroke-linejoin="round"/>
<g transform="translate(316.7,151.6) rotate(-9.9)" opacity="0.8"><rect x="-2" y="-1.2" width="4" height="2.4" rx="1.2" ry="1.1" fill="url(#discS)" stroke="#3484c6" stroke-width="0.4"/></g>
<g transform="translate(316.7,149.9) rotate(-9.9)"><rect x="-2.1" y="-1.5" width="4.2" height="3" rx="1.3" ry="1.3" fill="url(#discG)" stroke="#3484c6" stroke-width="0.4"/><path d="M-1.5,0 Q0,0.9 1.5,0" fill="none" stroke="#e2f4fa" stroke-width="0.5" opacity="0.95"/><path d="M-1.7,0.4 Q0,1.3 1.7,0.4" fill="none" stroke="#3a8ccc" stroke-width="0.3" opacity="0.7"/></g>
<g transform="translate(316.5,149.3) rotate(-23.1)"><rect x="-2.1" y="-1.5" width="4.2" height="3" rx="1.3" ry="1.3" fill="url(#discG)" stroke="#3484c6" stroke-width="0.4"/><path d="M-1.5,0 Q0,0.9 1.5,0" fill="none" stroke="#e2f4fa" stroke-width="0.5" opacity="0.95"/><path d="M-1.7,0.4 Q0,1.3 1.7,0.4" fill="none" stroke="#3a8ccc" stroke-width="0.3" opacity="0.7"/></g>
<g transform="translate(316.4,148.6) rotate(-36.3)"><rect x="-2.1" y="-1.5" width="4.2" height="3" rx="1.3" ry="1.3" fill="url(#discG)" stroke="#3484c6" stroke-width="0.4"/><path d="M-1.5,0 Q0,0.9 1.5,0" fill="none" stroke="#e2f4fa" stroke-width="0.5" opacity="0.95"/><path d="M-1.7,0.4 Q0,1.3 1.7,0.4" fill="none" stroke="#3a8ccc" stroke-width="0.3" opacity="0.7"/></g>
<g transform="translate(316.2,148) rotate(-49.5)"><rect x="-2.1" y="-1.5" width="4.2" height="3" rx="1.3" ry="1.3" fill="url(#discG)" stroke="#3484c6" stroke-width="0.4"/><path d="M-1.5,0 Q0,0.9 1.5,0" fill="none" stroke="#e2f4fa" stroke-width="0.5" opacity="0.95"/><path d="M-1.7,0.4 Q0,1.3 1.7,0.4" fill="none" stroke="#3a8ccc" stroke-width="0.3" opacity="0.7"/></g>
<g transform="translate(317.3,147.8) rotate(-9.9)" opacity="0.8"><rect x="-2.2" y="-1.3" width="4.4" height="2.6" rx="1.3" ry="1.2" fill="url(#discS)" stroke="#3484c6" stroke-width="0.4"/></g>
<g transform="translate(317.2,146) rotate(-9.9)"><rect x="-2.3" y="-1.7" width="4.6" height="3.3" rx="1.4" ry="1.5" fill="url(#discG)" stroke="#3484c6" stroke-width="0.4"/><path d="M-1.7,0 Q0,1 1.7,0" fill="none" stroke="#e2f4fa" stroke-width="0.5" opacity="0.95"/><path d="M-1.9,0.5 Q0,1.5 1.9,0.5" fill="none" stroke="#3a8ccc" stroke-width="0.3" opacity="0.7"/></g>
<g transform="translate(316.9,144.7) rotate(-23.1)"><rect x="-2.3" y="-1.7" width="4.6" height="3.3" rx="1.4" ry="1.5" fill="url(#discG)" stroke="#3484c6" stroke-width="0.4"/><path d="M-1.7,0 Q0,1 1.7,0" fill="none" stroke="#e2f4fa" stroke-width="0.5" opacity="0.95"/><path d="M-1.9,0.5 Q0,1.5 1.9,0.5" fill="none" stroke="#3a8ccc" stroke-width="0.3" opacity="0.7"/></g>
<g transform="translate(316.5,143.4) rotate(-36.3)"><rect x="-2.3" y="-1.7" width="4.6" height="3.3" rx="1.4" ry="1.5" fill="url(#discG)" stroke="#3484c6" stroke-width="0.4"/><path d="M-1.7,0 Q0,1 1.7,0" fill="none" stroke="#e2f4fa" stroke-width="0.5" opacity="0.95"/><path d="M-1.9,0.5 Q0,1.5 1.9,0.5" fill="none" stroke="#3a8ccc" stroke-width="0.3" opacity="0.7"/></g>
<g transform="translate(316.2,142.1) rotate(-49.5)"><rect x="-2.3" y="-1.7" width="4.6" height="3.3" rx="1.4" ry="1.5" fill="url(#discG)" stroke="#3484c6" stroke-width="0.4"/><path d="M-1.7,0 Q0,1 1.7,0" fill="none" stroke="#e2f4fa" stroke-width="0.5" opacity="0.95"/><path d="M-1.9,0.5 Q0,1.5 1.9,0.5" fill="none" stroke="#3a8ccc" stroke-width="0.3" opacity="0.7"/></g>
<g transform="translate(318.4,144.1) rotate(-9.9)" opacity="0.8"><rect x="-2.4" y="-1.4" width="4.8" height="2.9" rx="1.4" ry="1.3" fill="url(#discS)" stroke="#3484c6" stroke-width="0.4"/></g>
<g transform="translate(318.3,142.1) rotate(-9.9)"><rect x="-2.5" y="-1.8" width="5" height="3.6" rx="1.5" ry="1.6" fill="url(#discG)" stroke="#3484c6" stroke-width="0.4"/><path d="M-1.9,0 Q0,1.1 1.9,0" fill="none" stroke="#e2f4fa" stroke-width="0.5" opacity="0.95"/><path d="M-2.1,0.5 Q0,1.6 2.1,0.5" fill="none" stroke="#3a8ccc" stroke-width="0.3" opacity="0.7"/></g>
<g transform="translate(317.6,140.1) rotate(-23.1)"><rect x="-2.5" y="-1.8" width="5" height="3.6" rx="1.5" ry="1.6" fill="url(#discG)" stroke="#3484c6" stroke-width="0.4"/><path d="M-1.9,0 Q0,1.1 1.9,0" fill="none" stroke="#e2f4fa" stroke-width="0.5" opacity="0.95"/><path d="M-2.1,0.5 Q0,1.6 2.1,0.5" fill="none" stroke="#3a8ccc" stroke-width="0.3" opacity="0.7"/></g>
<g transform="translate(316.9,138.2) rotate(-36.3)"><rect x="-2.5" y="-1.8" width="5" height="3.6" rx="1.5" ry="1.6" fill="url(#discG)" stroke="#3484c6" stroke-width="0.4"/><path d="M-1.9,0 Q0,1.1 1.9,0" fill="none" stroke="#e2f4fa" stroke-width="0.5" opacity="0.95"/><path d="M-2.1,0.5 Q0,1.6 2.1,0.5" fill="none" stroke="#3a8ccc" stroke-width="0.3" opacity="0.7"/></g>
<g transform="translate(316.2,136.2) rotate(-49.5)"><rect x="-2.5" y="-1.8" width="5" height="3.6" rx="1.5" ry="1.6" fill="url(#discG)" stroke="#3484c6" stroke-width="0.4"/><path d="M-1.9,0 Q0,1.1 1.9,0" fill="none" stroke="#e2f4fa" stroke-width="0.5" opacity="0.95"/><path d="M-2.1,0.5 Q0,1.6 2.1,0.5" fill="none" stroke="#3a8ccc" stroke-width="0.3" opacity="0.7"/></g>
<g transform="translate(320.4,140) rotate(-9.3)" opacity="0.8"><rect x="-2.7" y="-1.6" width="5.3" height="3.2" rx="1.6" ry="1.4" fill="url(#discS)" stroke="#3484c6" stroke-width="0.4"/></g>
<g transform="translate(320.3,137.8) rotate(-9.3)"><rect x="-2.8" y="-2" width="5.6" height="4" rx="1.7" ry="1.8" fill="url(#discG)" stroke="#3484c6" stroke-width="0.4"/><path d="M-2.2,0 Q0,1.2 2.2,0" fill="none" stroke="#e2f4fa" stroke-width="0.5" opacity="0.95"/><path d="M-2.4,0.6 Q0,1.8 2.4,0.6" fill="none" stroke="#3a8ccc" stroke-width="0.3" opacity="0.7"/></g>
<g transform="translate(319.1,135.5) rotate(-21.6)"><rect x="-2.8" y="-2" width="5.6" height="4" rx="1.7" ry="1.8" fill="url(#discG)" stroke="#3484c6" stroke-width="0.4"/><path d="M-2.2,0 Q0,1.2 2.2,0" fill="none" stroke="#e2f4fa" stroke-width="0.5" opacity="0.95"/><path d="M-2.4,0.6 Q0,1.8 2.4,0.6" fill="none" stroke="#3a8ccc" stroke-width="0.3" opacity="0.7"/></g>
<g transform="translate(317.9,133.3) rotate(-34)"><rect x="-2.8" y="-2" width="5.6" height="4" rx="1.7" ry="1.8" fill="url(#discG)" stroke="#3484c6" stroke-width="0.4"/><path d="M-2.2,0 Q0,1.2 2.2,0" fill="none" stroke="#e2f4fa" stroke-width="0.5" opacity="0.95"/><path d="M-2.4,0.6 Q0,1.8 2.4,0.6" fill="none" stroke="#3a8ccc" stroke-width="0.3" opacity="0.7"/></g>
<g transform="translate(316.7,131) rotate(-46.4)"><rect x="-2.8" y="-2" width="5.6" height="4" rx="1.7" ry="1.8" fill="url(#discG)" stroke="#3484c6" stroke-width="0.4"/><path d="M-2.2,0 Q0,1.2 2.2,0" fill="none" stroke="#e2f4fa" stroke-width="0.5" opacity="0.95"/><path d="M-2.4,0.6 Q0,1.8 2.4,0.6" fill="none" stroke="#3a8ccc" stroke-width="0.3" opacity="0.7"/></g>
<g transform="translate(323.5,136.1) rotate(-8.7)" opacity="0.8"><rect x="-2.9" y="-1.8" width="5.9" height="3.6" rx="1.8" ry="1.6" fill="url(#discS)" stroke="#3484c6" stroke-width="0.4"/></g>
<g transform="translate(323.3,133.6) rotate(-8.7)"><rect x="-3.1" y="-2.2" width="6.2" height="4.5" rx="1.9" ry="2" fill="url(#discG)" stroke="#3484c6" stroke-width="0.4"/><path d="M-2.5,0 Q0,1.3 2.5,0" fill="none" stroke="#e2f4fa" stroke-width="0.5" opacity="0.95"/><path d="M-2.7,0.6 Q0,2 2.7,0.6" fill="none" stroke="#3a8ccc" stroke-width="0.3" opacity="0.7"/></g>
<g transform="translate(321.5,130.8) rotate(-20.2)"><rect x="-3.1" y="-2.2" width="6.2" height="4.5" rx="1.9" ry="2" fill="url(#discG)" stroke="#3484c6" stroke-width="0.4"/><path d="M-2.5,0 Q0,1.3 2.5,0" fill="none" stroke="#e2f4fa" stroke-width="0.5" opacity="0.95"/><path d="M-2.7,0.6 Q0,2 2.7,0.6" fill="none" stroke="#3a8ccc" stroke-width="0.3" opacity="0.7"/></g>
<g transform="translate(319.7,128) rotate(-31.7)"><rect x="-3.1" y="-2.2" width="6.2" height="4.5" rx="1.9" ry="2" fill="url(#discG)" stroke="#3484c6" stroke-width="0.4"/><path d="M-2.5,0 Q0,1.3 2.5,0" fill="none" stroke="#e2f4fa" stroke-width="0.5" opacity="0.95"/><path d="M-2.7,0.6 Q0,2 2.7,0.6" fill="none" stroke="#3a8ccc" stroke-width="0.3" opacity="0.7"/></g>
<g transform="translate(317.9,125.1) rotate(-43.3)"><rect x="-3.1" y="-2.2" width="6.2" height="4.5" rx="1.9" ry="2" fill="url(#discG)" stroke="#3484c6" stroke-width="0.4"/><path d="M-2.5,0 Q0,1.3 2.5,0" fill="none" stroke="#e2f4fa" stroke-width="0.5" opacity="0.95"/><path d="M-2.7,0.6 Q0,2 2.7,0.6" fill="none" stroke="#3a8ccc" stroke-width="0.3" opacity="0.7"/></g>
<g transform="translate(327.8,131.8) rotate(-8.1)" opacity="0.8"><rect x="-3.3" y="-2" width="6.6" height="4" rx="2" ry="1.8" fill="url(#discS)" stroke="#3484c6" stroke-width="0.4"/></g>
<g transform="translate(327.4,129) rotate(-8.1)"><rect x="-3.5" y="-2.5" width="7" height="5" rx="2.1" ry="2.2" fill="url(#discG)" stroke="#3484c6" stroke-width="0.4"/><path d="M-2.9,0 Q0,1.5 2.9,0" fill="none" stroke="#e2f4fa" stroke-width="0.5" opacity="0.95"/><path d="M-3.1,0.7 Q0,2.2 3.1,0.7" fill="none" stroke="#3a8ccc" stroke-width="0.3" opacity="0.7"/></g>
<g transform="translate(324.9,125.6) rotate(-18.8)"><rect x="-3.5" y="-2.5" width="7" height="5" rx="2.1" ry="2.2" fill="url(#discG)" stroke="#3484c6" stroke-width="0.4"/><path d="M-2.9,0 Q0,1.5 2.9,0" fill="none" stroke="#e2f4fa" stroke-width="0.5" opacity="0.95"/><path d="M-3.1,0.7 Q0,2.2 3.1,0.7" fill="none" stroke="#3a8ccc" stroke-width="0.3" opacity="0.7"/></g>
<g transform="translate(322.4,122.1) rotate(-29.6)"><rect x="-3.5" y="-2.5" width="7" height="5" rx="2.1" ry="2.2" fill="url(#discG)" stroke="#3484c6" stroke-width="0.4"/><path d="M-2.9,0 Q0,1.5 2.9,0" fill="none" stroke="#e2f4fa" stroke-width="0.5" opacity="0.95"/><path d="M-3.1,0.7 Q0,2.2 3.1,0.7" fill="none" stroke="#3a8ccc" stroke-width="0.3" opacity="0.7"/></g>
<g transform="translate(319.9,118.6) rotate(-40.3)"><rect x="-3.5" y="-2.5" width="7" height="5" rx="2.1" ry="2.2" fill="url(#discG)" stroke="#3484c6" stroke-width="0.4"/><path d="M-2.9,0 Q0,1.5 2.9,0" fill="none" stroke="#e2f4fa" stroke-width="0.5" opacity="0.95"/><path d="M-3.1,0.7 Q0,2.2 3.1,0.7" fill="none" stroke="#3a8ccc" stroke-width="0.3" opacity="0.7"/></g>
<g transform="translate(333.8,127.6) rotate(-6.7)" opacity="0.8"><rect x="-3.8" y="-2.3" width="7.6" height="4.6" rx="2.3" ry="2" fill="url(#discS)" stroke="#3484c6" stroke-width="0.4"/></g>
<g transform="translate(333.3,124.5) rotate(-6.7)"><rect x="-4" y="-2.9" width="8" height="5.8" rx="2.4" ry="2.5" fill="url(#discG)" stroke="#3484c6" stroke-width="0.4"/><path d="M-3.4,0 Q0,1.7 3.4,0" fill="none" stroke="#e2f4fa" stroke-width="0.6" opacity="0.95"/><path d="M-3.6,0.8 Q0,2.5 3.6,0.8" fill="none" stroke="#3a8ccc" stroke-width="0.3" opacity="0.7"/></g>
<g transform="translate(330,120.3) rotate(-15.6)"><rect x="-4" y="-2.9" width="8" height="5.8" rx="2.4" ry="2.5" fill="url(#discG)" stroke="#3484c6" stroke-width="0.4"/><path d="M-3.4,0 Q0,1.7 3.4,0" fill="none" stroke="#e2f4fa" stroke-width="0.6" opacity="0.95"/><path d="M-3.6,0.8 Q0,2.5 3.6,0.8" fill="none" stroke="#3a8ccc" stroke-width="0.3" opacity="0.7"/></g>
<g transform="translate(326.8,116.2) rotate(-24.5)"><rect x="-4" y="-2.9" width="8" height="5.8" rx="2.4" ry="2.5" fill="url(#discG)" stroke="#3484c6" stroke-width="0.4"/><path d="M-3.4,0 Q0,1.7 3.4,0" fill="none" stroke="#e2f4fa" stroke-width="0.6" opacity="0.95"/><path d="M-3.6,0.8 Q0,2.5 3.6,0.8" fill="none" stroke="#3a8ccc" stroke-width="0.3" opacity="0.7"/></g>
<g transform="translate(323.5,112.1) rotate(-33.4)"><rect x="-4" y="-2.9" width="8" height="5.8" rx="2.4" ry="2.5" fill="url(#discG)" stroke="#3484c6" stroke-width="0.4"/><path d="M-3.4,0 Q0,1.7 3.4,0" fill="none" stroke="#e2f4fa" stroke-width="0.6" opacity="0.95"/><path d="M-3.6,0.8 Q0,2.5 3.6,0.8" fill="none" stroke="#3a8ccc" stroke-width="0.3" opacity="0.7"/></g>
<g transform="translate(341.1,122.9) rotate(-5.6)" opacity="0.8"><rect x="-4.4" y="-2.6" width="8.7" height="5.3" rx="2.6" ry="2.3" fill="url(#discS)" stroke="#3484c6" stroke-width="0.4"/></g>
<g transform="translate(340.5,119.2) rotate(-5.6)"><rect x="-4.6" y="-3.3" width="9.2" height="6.6" rx="2.8" ry="2.9" fill="url(#discG)" stroke="#3484c6" stroke-width="0.4"/><path d="M-4,0 Q0,2 4,0" fill="none" stroke="#e2f4fa" stroke-width="0.7" opacity="0.95"/><path d="M-4.2,0.9 Q0,2.9 4.2,0.9" fill="none" stroke="#3a8ccc" stroke-width="0.3" opacity="0.7"/></g>
<g transform="translate(336.8,114.5) rotate(-13)"><rect x="-4.6" y="-3.3" width="9.2" height="6.6" rx="2.8" ry="2.9" fill="url(#discG)" stroke="#3484c6" stroke-width="0.4"/><path d="M-4,0 Q0,2 4,0" fill="none" stroke="#e2f4fa" stroke-width="0.7" opacity="0.95"/><path d="M-4.2,0.9 Q0,2.9 4.2,0.9" fill="none" stroke="#3a8ccc" stroke-width="0.3" opacity="0.7"/></g>
<g transform="translate(333.1,109.7) rotate(-20.5)"><rect x="-4.6" y="-3.3" width="9.2" height="6.6" rx="2.8" ry="2.9" fill="url(#discG)" stroke="#3484c6" stroke-width="0.4"/><path d="M-4,0 Q0,2 4,0" fill="none" stroke="#e2f4fa" stroke-width="0.7" opacity="0.95"/><path d="M-4.2,0.9 Q0,2.9 4.2,0.9" fill="none" stroke="#3a8ccc" stroke-width="0.3" opacity="0.7"/></g>
<g transform="translate(329.4,104.9) rotate(-27.9)"><rect x="-4.6" y="-3.3" width="9.2" height="6.6" rx="2.8" ry="2.9" fill="url(#discG)" stroke="#3484c6" stroke-width="0.4"/><path d="M-4,0 Q0,2 4,0" fill="none" stroke="#e2f4fa" stroke-width="0.7" opacity="0.95"/><path d="M-4.2,0.9 Q0,2.9 4.2,0.9" fill="none" stroke="#3a8ccc" stroke-width="0.3" opacity="0.7"/></g>
<g transform="translate(348.9,118.2) rotate(-5)" opacity="0.8"><rect x="-5" y="-3.1" width="10.1" height="6.1" rx="3" ry="2.7" fill="url(#discS)" stroke="#3484c6" stroke-width="0.5"/></g>
<g transform="translate(348.3,114) rotate(-5)"><rect x="-5.3" y="-3.8" width="10.6" height="7.6" rx="3.2" ry="3.4" fill="url(#discG)" stroke="#3484c6" stroke-width="0.5"/><path d="M-4.7,0 Q0,2.3 4.7,0" fill="none" stroke="#e2f4fa" stroke-width="0.8" opacity="0.95"/><path d="M-4.9,1.1 Q0,3.4 4.9,1.1" fill="none" stroke="#3a8ccc" stroke-width="0.3" opacity="0.7"/></g>
<g transform="translate(344.4,108.6) rotate(-11.6)"><rect x="-5.3" y="-3.8" width="10.6" height="7.6" rx="3.2" ry="3.4" fill="url(#discG)" stroke="#3484c6" stroke-width="0.5"/><path d="M-4.7,0 Q0,2.3 4.7,0" fill="none" stroke="#e2f4fa" stroke-width="0.8" opacity="0.95"/><path d="M-4.9,1.1 Q0,3.4 4.9,1.1" fill="none" stroke="#3a8ccc" stroke-width="0.3" opacity="0.7"/></g>
<g transform="translate(340.5,103.1) rotate(-18.2)"><rect x="-5.3" y="-3.8" width="10.6" height="7.6" rx="3.2" ry="3.4" fill="url(#discG)" stroke="#3484c6" stroke-width="0.5"/><path d="M-4.7,0 Q0,2.3 4.7,0" fill="none" stroke="#e2f4fa" stroke-width="0.8" opacity="0.95"/><path d="M-4.9,1.1 Q0,3.4 4.9,1.1" fill="none" stroke="#3a8ccc" stroke-width="0.3" opacity="0.7"/></g>
<g transform="translate(336.6,97.7) rotate(-24.8)"><rect x="-5.3" y="-3.8" width="10.6" height="7.6" rx="3.2" ry="3.4" fill="url(#discG)" stroke="#3484c6" stroke-width="0.5"/><path d="M-4.7,0 Q0,2.3 4.7,0" fill="none" stroke="#e2f4fa" stroke-width="0.8" opacity="0.95"/><path d="M-4.9,1.1 Q0,3.4 4.9,1.1" fill="none" stroke="#3a8ccc" stroke-width="0.3" opacity="0.7"/></g>
<g transform="translate(356.7,114.3) rotate(-4.4)" opacity="0.8"><rect x="-5.8" y="-3.5" width="11.7" height="7.1" rx="3.5" ry="3.1" fill="url(#discS)" stroke="#3484c6" stroke-width="0.6"/></g>
<g transform="translate(356.2,109.4) rotate(-4.4)"><rect x="-6.2" y="-4.4" width="12.3" height="8.9" rx="3.7" ry="3.9" fill="url(#discG)" stroke="#3484c6" stroke-width="0.6"/><path d="M-5.6,0 Q0,2.7 5.6,0" fill="none" stroke="#e2f4fa" stroke-width="0.9" opacity="0.95"/><path d="M-5.8,1.2 Q0,3.9 5.8,1.2" fill="none" stroke="#3a8ccc" stroke-width="0.4" opacity="0.7"/></g>
<g transform="translate(352.5,103.1) rotate(-10.3)"><rect x="-6.2" y="-4.4" width="12.3" height="8.9" rx="3.7" ry="3.9" fill="url(#discG)" stroke="#3484c6" stroke-width="0.6"/><path d="M-5.6,0 Q0,2.7 5.6,0" fill="none" stroke="#e2f4fa" stroke-width="0.9" opacity="0.95"/><path d="M-5.8,1.2 Q0,3.9 5.8,1.2" fill="none" stroke="#3a8ccc" stroke-width="0.4" opacity="0.7"/></g>
<g transform="translate(348.8,96.8) rotate(-16.2)"><rect x="-6.2" y="-4.4" width="12.3" height="8.9" rx="3.7" ry="3.9" fill="url(#discG)" stroke="#3484c6" stroke-width="0.6"/><path d="M-5.6,0 Q0,2.7 5.6,0" fill="none" stroke="#e2f4fa" stroke-width="0.9" opacity="0.95"/><path d="M-5.8,1.2 Q0,3.9 5.8,1.2" fill="none" stroke="#3a8ccc" stroke-width="0.4" opacity="0.7"/></g>
<g transform="translate(345.1,90.5) rotate(-22.1)"><rect x="-6.2" y="-4.4" width="12.3" height="8.9" rx="3.7" ry="3.9" fill="url(#discG)" stroke="#3484c6" stroke-width="0.6"/><path d="M-5.6,0 Q0,2.7 5.6,0" fill="none" stroke="#e2f4fa" stroke-width="0.9" opacity="0.95"/><path d="M-5.8,1.2 Q0,3.9 5.8,1.2" fill="none" stroke="#3a8ccc" stroke-width="0.4" opacity="0.7"/></g>
<g transform="translate(366.5,111.1) rotate(-3.5)" opacity="0.8"><rect x="-6.6" y="-4" width="13.3" height="8.1" rx="4" ry="3.5" fill="url(#discS)" stroke="#3484c6" stroke-width="0.7"/></g>
<g transform="translate(366,105.5) rotate(-3.5)"><rect x="-7" y="-5" width="14" height="10.1" rx="4.2" ry="4.4" fill="url(#discG)" stroke="#3484c6" stroke-width="0.7"/><path d="M-6.4,0 Q0,3 6.4,0" fill="none" stroke="#e2f4fa" stroke-width="1" opacity="0.95"/><path d="M-6.6,1.4 Q0,4.4 6.6,1.4" fill="none" stroke="#3a8ccc" stroke-width="0.4" opacity="0.7"/></g>
<g transform="translate(362.3,98.5) rotate(-8.1)"><rect x="-7" y="-5" width="14" height="10.1" rx="4.2" ry="4.4" fill="url(#discG)" stroke="#3484c6" stroke-width="0.7"/><path d="M-6.4,0 Q0,3 6.4,0" fill="none" stroke="#e2f4fa" stroke-width="1" opacity="0.95"/><path d="M-6.6,1.4 Q0,4.4 6.6,1.4" fill="none" stroke="#3a8ccc" stroke-width="0.4" opacity="0.7"/></g>
<g transform="translate(358.6,91.5) rotate(-12.7)"><rect x="-7" y="-5" width="14" height="10.1" rx="4.2" ry="4.4" fill="url(#discG)" stroke="#3484c6" stroke-width="0.7"/><path d="M-6.4,0 Q0,3 6.4,0" fill="none" stroke="#e2f4fa" stroke-width="1" opacity="0.95"/><path d="M-6.6,1.4 Q0,4.4 6.6,1.4" fill="none" stroke="#3a8ccc" stroke-width="0.4" opacity="0.7"/></g>
<g transform="translate(354.9,84.5) rotate(-17.3)"><rect x="-7" y="-5" width="14" height="10.1" rx="4.2" ry="4.4" fill="url(#discG)" stroke="#3484c6" stroke-width="0.7"/><path d="M-6.4,0 Q0,3 6.4,0" fill="none" stroke="#e2f4fa" stroke-width="1" opacity="0.95"/><path d="M-6.6,1.4 Q0,4.4 6.6,1.4" fill="none" stroke="#3a8ccc" stroke-width="0.4" opacity="0.7"/></g>
<g transform="translate(377.6,108.6) rotate(-3.6)" opacity="0.8"><rect x="-7.6" y="-4.6" width="15.2" height="9.2" rx="4.6" ry="4.1" fill="url(#discS)" stroke="#3484c6" stroke-width="0.8"/></g>
<g transform="translate(377.1,102.3) rotate(-3.6)"><rect x="-8" y="-5.8" width="16" height="11.5" rx="4.8" ry="5.1" fill="url(#discG)" stroke="#3484c6" stroke-width="0.8"/><path d="M-7.4,0 Q0,3.5 7.4,0" fill="none" stroke="#e2f4fa" stroke-width="1.1" opacity="0.95"/><path d="M-7.6,1.6 Q0,5.1 7.6,1.6" fill="none" stroke="#3a8ccc" stroke-width="0.5" opacity="0.7"/></g>
<g transform="translate(373.6,93.8) rotate(-8.4)"><rect x="-8" y="-5.8" width="16" height="11.5" rx="4.8" ry="5.1" fill="url(#discG)" stroke="#3484c6" stroke-width="0.8"/><path d="M-7.4,0 Q0,3.5 7.4,0" fill="none" stroke="#e2f4fa" stroke-width="1.1" opacity="0.95"/><path d="M-7.6,1.6 Q0,5.1 7.6,1.6" fill="none" stroke="#3a8ccc" stroke-width="0.5" opacity="0.7"/></g>
<g transform="translate(370.1,85.4) rotate(-13.2)"><rect x="-8" y="-5.8" width="16" height="11.5" rx="4.8" ry="5.1" fill="url(#discG)" stroke="#3484c6" stroke-width="0.8"/><path d="M-7.4,0 Q0,3.5 7.4,0" fill="none" stroke="#e2f4fa" stroke-width="1.1" opacity="0.95"/><path d="M-7.6,1.6 Q0,5.1 7.6,1.6" fill="none" stroke="#3a8ccc" stroke-width="0.5" opacity="0.7"/></g>
<g transform="translate(366.6,76.9) rotate(-18)"><rect x="-8" y="-5.8" width="16" height="11.5" rx="4.8" ry="5.1" fill="url(#discG)" stroke="#3484c6" stroke-width="0.8"/><path d="M-7.4,0 Q0,3.5 7.4,0" fill="none" stroke="#e2f4fa" stroke-width="1.1" opacity="0.95"/><path d="M-7.6,1.6 Q0,5.1 7.6,1.6" fill="none" stroke="#3a8ccc" stroke-width="0.5" opacity="0.7"/></g>
<g transform="translate(392,106.8) rotate(-3.1)" opacity="0.8"><rect x="-8.5" y="-5.2" width="17.1" height="10.4" rx="5.1" ry="4.6" fill="url(#discS)" stroke="#3484c6" stroke-width="0.9"/></g>
<g transform="translate(391.5,99.6) rotate(-3.1)"><rect x="-9" y="-6.5" width="18" height="13" rx="5.4" ry="5.7" fill="url(#discG)" stroke="#3484c6" stroke-width="0.9"/><path d="M-8.4,0 Q0,3.9 8.4,0" fill="none" stroke="#e2f4fa" stroke-width="1.3" opacity="0.95"/><path d="M-8.6,1.8 Q0,5.7 8.6,1.8" fill="none" stroke="#3a8ccc" stroke-width="0.6" opacity="0.7"/></g>
<g transform="translate(388,89.5) rotate(-7.1)"><rect x="-9" y="-6.5" width="18" height="13" rx="5.4" ry="5.7" fill="url(#discG)" stroke="#3484c6" stroke-width="0.9"/><path d="M-8.4,0 Q0,3.9 8.4,0" fill="none" stroke="#e2f4fa" stroke-width="1.3" opacity="0.95"/><path d="M-8.6,1.8 Q0,5.7 8.6,1.8" fill="none" stroke="#3a8ccc" stroke-width="0.6" opacity="0.7"/></g>
<g transform="translate(384.5,79.4) rotate(-11.2)"><rect x="-9" y="-6.5" width="18" height="13" rx="5.4" ry="5.7" fill="url(#discG)" stroke="#3484c6" stroke-width="0.9"/><path d="M-8.4,0 Q0,3.9 8.4,0" fill="none" stroke="#e2f4fa" stroke-width="1.3" opacity="0.95"/><path d="M-8.6,1.8 Q0,5.7 8.6,1.8" fill="none" stroke="#3a8ccc" stroke-width="0.6" opacity="0.7"/></g>
<g transform="translate(381,69.3) rotate(-15.3)"><rect x="-9" y="-6.5" width="18" height="13" rx="5.4" ry="5.7" fill="url(#discG)" stroke="#3484c6" stroke-width="0.9"/><path d="M-8.4,0 Q0,3.9 8.4,0" fill="none" stroke="#e2f4fa" stroke-width="1.3" opacity="0.95"/><path d="M-8.6,1.8 Q0,5.7 8.6,1.8" fill="none" stroke="#3a8ccc" stroke-width="0.6" opacity="0.7"/></g>
<g transform="translate(407.7,106.1) rotate(-2)" opacity="0.8"><rect x="-9.3" y="-5.6" width="18.5" height="11.2" rx="5.6" ry="4.9" fill="url(#discS)" stroke="#3484c6" stroke-width="0.9"/></g>
<g transform="translate(407.1,98.3) rotate(-2)"><rect x="-9.8" y="-7" width="19.5" height="14" rx="5.8" ry="6.2" fill="url(#discG)" stroke="#3484c6" stroke-width="0.9"/><path d="M-9.2,0 Q0,4.2 9.2,0" fill="none" stroke="#e2f4fa" stroke-width="1.4" opacity="0.95"/><path d="M-9.3,2 Q0,6.2 9.3,2" fill="none" stroke="#3a8ccc" stroke-width="0.6" opacity="0.7"/></g>
<g transform="translate(403.6,86.9) rotate(-4.7)"><rect x="-9.8" y="-7" width="19.5" height="14" rx="5.8" ry="6.2" fill="url(#discG)" stroke="#3484c6" stroke-width="0.9"/><path d="M-9.2,0 Q0,4.2 9.2,0" fill="none" stroke="#e2f4fa" stroke-width="1.4" opacity="0.95"/><path d="M-9.3,2 Q0,6.2 9.3,2" fill="none" stroke="#3a8ccc" stroke-width="0.6" opacity="0.7"/></g>
<g transform="translate(400.2,75.5) rotate(-7.4)"><rect x="-9.8" y="-7" width="19.5" height="14" rx="5.8" ry="6.2" fill="url(#discG)" stroke="#3484c6" stroke-width="0.9"/><path d="M-9.2,0 Q0,4.2 9.2,0" fill="none" stroke="#e2f4fa" stroke-width="1.4" opacity="0.95"/><path d="M-9.3,2 Q0,6.2 9.3,2" fill="none" stroke="#3a8ccc" stroke-width="0.6" opacity="0.7"/></g>
<g transform="translate(396.7,64.1) rotate(-10.1)"><rect x="-9.8" y="-7" width="19.5" height="14" rx="5.8" ry="6.2" fill="url(#discG)" stroke="#3484c6" stroke-width="0.9"/><path d="M-9.2,0 Q0,4.2 9.2,0" fill="none" stroke="#e2f4fa" stroke-width="1.4" opacity="0.95"/><path d="M-9.3,2 Q0,6.2 9.3,2" fill="none" stroke="#3a8ccc" stroke-width="0.6" opacity="0.7"/></g>
<path d="M413.4,107.9C414.3,108.4 416.6,110.2 418.5,111C420.4,111.7 422.7,112.2 425,112.3C427.2,112.4 429.6,112.2 432.1,111.6C434.6,111 437.3,110.2 439.8,108.8C442.2,107.3 445.4,103.8 446.6,102.8" fill="none" stroke="#2f7fd0" stroke-width="1.6" stroke-linecap="round"/>
<path d="M413.4,107.9C414.3,108.4 416.6,110.2 418.5,111C420.4,111.7 422.7,112.2 425,112.3C427.2,112.4 429.6,112.2 432.1,111.6C434.6,111 437.3,110.2 439.8,108.8C442.2,107.3 445.4,103.8 446.6,102.8" fill="none" stroke="#7fbcf0" stroke-width="0.7" stroke-linecap="round"/>
<path d="M463,88.9C463.7,88.1 465.9,85.7 467,84.4C468,83.1 469.1,81.6 469.5,81" fill="none" stroke="#2f7fd0" stroke-width="1.8" stroke-linecap="round"/>
<path d="M463,88.9C463.7,88.1 465.9,85.7 467,84.4C468,83.1 469.1,81.6 469.5,81" fill="none" stroke="#7fbcf0" stroke-width="0.7" stroke-linecap="round"/>
<path d="M492.5,59.1C493.4,59.6 496.3,60.4 498.4,62C500.5,63.6 502.4,65.5 505.2,68.8C508,72.1 512,78.1 515.4,81.6C518.8,85 522.8,87.7 525.6,89.5C528.4,91.4 531.3,92.1 532.4,92.6" fill="none" stroke="#2f7fd0" stroke-width="2.4" stroke-linecap="round"/>
<path d="M492.5,59.1C493.4,59.6 496.3,60.4 498.4,62C500.5,63.6 502.4,65.5 505.2,68.8C508,72.1 512,78.1 515.4,81.6C518.8,85 522.8,87.7 525.6,89.5C528.4,91.4 531.3,92.1 532.4,92.6" fill="none" stroke="#7fbcf0" stroke-width="0.7" stroke-linecap="round"/>
<path d="M562.2,102.5C563.4,102.9 566.8,103.8 569.8,105.4C572.8,106.9 578.3,110.6 580,111.6" fill="none" stroke="#2f7fd0" stroke-width="2.6" stroke-linecap="round"/>
<path d="M562.2,102.5C563.4,102.9 566.8,103.8 569.8,105.4C572.8,106.9 578.3,110.6 580,111.6" fill="none" stroke="#7fbcf0" stroke-width="0.7" stroke-linecap="round"/>
<ellipse cx="425" cy="110.5" rx="7.6" ry="4.2" transform="rotate(8 425 110.5)" fill="url(#nucTop)" stroke="#3a8cd0" stroke-width="0.9"/>
<path d="M418,111.3 q7,2.6 14,0.6" fill="none" stroke="#5aa6cc" stroke-width="0.7"/>
<ellipse cx="455.1" cy="95.5" rx="11" ry="10.3" fill="url(#nucTop)" stroke="#3a88d6" stroke-width="1.3"/>
<path d="M448.1,92 L462.1,99.5 M459.6,87.5 L450.6,103.5" stroke="#5f98ac" stroke-width="0.7" fill="none"/>
<g transform="translate(481,68.5) rotate(-9)">
<path d="M-16.5,0 L-16.5,12 A16.5,9.5 0 0 0 16.5,12 L16.5,0Z" fill="url(#nucSide)"/>
<ellipse cx="0" cy="0" rx="16.5" ry="9.6" fill="url(#nucTop)"/>
<path d="M-13,-4 L14,5 M7,-8.5 L-7,8.5" stroke="#6aa0b4" stroke-width="0.7" fill="none"/>
<path d="M-17,3 A17,9.8 0 0 0 17,3" fill="none" stroke="#2f7fd0" stroke-width="1.8"/>
<path d="M-17,7 A17,9.8 0 0 0 17,7" fill="none" stroke="#3f8cd8" stroke-width="1.8"/>
<path d="M-17.3,11.5 A17.3,9.8 0 0 0 17,11" fill="none" stroke="#2f7fd0" stroke-width="1.6"/>
</g>
<g transform="translate(541.5,76.5) rotate(3)">
<path d="M-23.5,0 L-22.5,24 A22.5,12.5 0 0 0 22.5,24 L23.5,0Z" fill="url(#nucSide)"/>
<ellipse cx="0" cy="0" rx="23.5" ry="14.2" fill="url(#nucTop)" stroke="#8ec6d2" stroke-width="0.7"/>
<path d="M-15.5,-10.5 L-1,-2.5 L20.5,-1.5 M13,-11.5 L-1,-2.5 L-13.5,10" stroke="#2d3a40" stroke-width="0.9" fill="none" stroke-linejoin="round"/>
<path d="M-26.3,10.5 C-26.5,17 -13,25 0,25 C14,25 25.5,19 25,12" fill="none" stroke="#2f7fd4" stroke-width="2.7" stroke-linecap="round"/>
<path d="M-26.3,10 C-26.5,16.5 -13,24.5 0,24.5 C14,24.5 25.5,18.5 25,11.5" fill="none" stroke="#6fb2ee" stroke-width="0.8" stroke-linecap="round" opacity="0.8"/>
<path d="M-26.3,17.5 C-26.5,24 -13,32 0,32 C14,32 25.5,26 25,19" fill="none" stroke="#2f7fd4" stroke-width="2.7" stroke-linecap="round"/>
<path d="M-26.3,17 C-26.5,23.5 -13,31.5 0,31.5 C14,31.5 25.5,25.5 25,18.5" fill="none" stroke="#6fb2ee" stroke-width="0.8" stroke-linecap="round" opacity="0.8"/>
</g>
</g>
<g id="helix">
<g mask="url(#hconeMask)"><path d="M600.5,122 C604,140 610,172 615,197 C618,212 620,222 621,230 C628,280 636,340 641,420 L810,420 C770,365 740,320 730,307 C700,262 650,180 600,122Z" fill="url(#hcone)"/>
<path d="M600.5,122 C604,140 610,172 615,197 C618,212 620,222 621,230 C628,280 636,340 641,400" fill="none" stroke="#a9c8e6" stroke-width="1.3" opacity="0.9"/>
<path d="M600,122 C640,165 690,250 730,307 C750,335 775,375 805,420" fill="none" stroke="#a9c8e6" stroke-width="1.3" opacity="0.9"/></g>
<g><path d="M634.8,245.5C633.9,247.9 628.3,254.4 629,259.5C629.8,264.5 634.6,272.1 639.5,275.7C644.3,279.4 651.1,280 658.1,281.5C665,283.1 674.5,284.3 681.3,285C688.1,285.7 692.9,284.6 698.7,285.7C704.5,286.9 711.7,288.2 716.1,292C720.6,295.7 723.9,305.5 725.4,308.2" fill="none" stroke="#5892c0" stroke-width="3" stroke-linecap="round"/><path d="M625.5,239.7C627.1,240.7 631.4,244.4 634.8,245.5C638.3,246.7 640.6,246.1 646.4,246.7C652.3,247.3 661.9,246.9 669.7,249C677.4,251.2 687.8,256 692.9,259.5C698,263 699.1,268.2 700.3,269.9" fill="none" stroke="#5892c0" stroke-width="3" stroke-linecap="round"/><path d="M647.6,345.4C649,347.7 652.1,355.5 655.7,359.3C659.4,363.2 665.6,366.9 669.7,368.6C673.7,370.4 678.4,369.6 680.1,369.8" fill="none" stroke="#5892c0" stroke-width="3" stroke-linecap="round"/><path d="M616.7,186.9C616.1,188.1 612.8,191.8 613.1,194.5C613.5,197.2 616.1,201.2 618.8,203C621.5,204.9 625.4,205.1 629.4,205.8C633.4,206.5 638.8,207 642.7,207.2C646.6,207.5 649.4,206.7 652.8,207.2C656.1,207.8 660.2,208.3 662.7,210.3C665.2,212.2 666.9,217.4 667.7,218.8" fill="none" stroke="#5892c0" stroke-width="1.6" stroke-linecap="round"/><path d="M611.5,183.9C612.4,184.4 614.7,186.3 616.7,186.9C618.7,187.4 620.1,187.1 623.4,187.3C626.7,187.5 632.3,187.1 636.7,188.1C641.2,189.1 647.1,191.5 649.9,193.2C652.8,195 653.3,197.8 654,198.7" fill="none" stroke="#5892c0" stroke-width="1.6" stroke-linecap="round"/><path d="M622.1,240.4C622.8,241.6 624.5,245.7 626.5,247.7C628.6,249.8 632.1,251.6 634.4,252.5C636.7,253.3 637.7,252.5 640.4,252.9C643,253.3 646.5,253.7 650.3,254.7C654.2,255.7 661.3,258.2 663.5,259" fill="none" stroke="#5892c0" stroke-width="1.6" stroke-linecap="round"/><path d="M606.9,155.9C606.4,156.6 604.1,158.8 604.2,160.3C604.3,161.7 605.8,163.8 607.4,164.7C609.1,165.6 611.6,165.5 614.1,165.7C616.6,165.9 620,165.9 622.5,165.9C625,165.8 626.8,165.3 628.9,165.4C631,165.6 633.6,165.7 635.1,166.6C636.6,167.6 637.4,170.4 637.9,171.1" fill="none" stroke="#5892c0" stroke-width="0.8" stroke-linecap="round"/><path d="M603.6,154.5C604.2,154.8 605.6,155.7 606.9,155.9C608.1,156.1 609,155.9 611.1,155.8C613.2,155.8 616.8,155.3 619.6,155.6C622.3,156 626,157 627.7,157.9C629.5,158.7 629.7,160.2 630.1,160.7" fill="none" stroke="#5892c0" stroke-width="0.8" stroke-linecap="round"/><path d="M607.8,185.1C608.2,185.7 609.1,187.9 610.3,188.9C611.5,189.9 613.6,190.8 615.1,191.2C616.5,191.5 617.2,191 618.9,191.1C620.6,191.2 622.7,191.3 625.1,191.6C627.6,192 632,193.1 633.4,193.4" fill="none" stroke="#5892c0" stroke-width="0.8" stroke-linecap="round"/><path d="M602.5,139.1C602.3,139.5 601,140.7 601,141.5C601,142.2 601.8,143.3 602.7,143.8C603.7,144.3 605,144.2 606.4,144.3C607.8,144.4 609.7,144.3 611.1,144.3C612.5,144.2 613.5,143.9 614.7,144C615.8,144 617.3,144 618.1,144.5C618.9,145 619.4,146.5 619.6,146.9" fill="none" stroke="#5892c0" stroke-width="0.8" stroke-linecap="round"/><path d="M600.8,138.4C601,138.5 601.8,139 602.5,139.1C603.2,139.2 603.7,139.1 604.9,139C606.1,139 608.1,138.7 609.6,138.8C611.1,139 613.1,139.5 614.1,139.9C615.1,140.3 615.2,141.2 615.4,141.4" fill="none" stroke="#5892c0" stroke-width="0.8" stroke-linecap="round"/><path d="M602.7,154.7C602.9,155 603.4,156.2 604.1,156.7C604.7,157.3 605.9,157.7 606.7,157.9C607.5,158 607.9,157.8 608.8,157.8C609.7,157.8 611,157.8 612.3,158C613.6,158.2 616.1,158.7 616.9,158.8" fill="none" stroke="#5892c0" stroke-width="0.8" stroke-linecap="round"/><path d="M600.4,130.1C600.3,130.3 599.6,131 599.6,131.4C599.6,131.8 600,132.4 600.5,132.6C601,132.9 601.7,132.8 602.5,132.9C603.2,132.9 604.2,132.9 604.9,132.9C605.7,132.8 606.2,132.7 606.8,132.7C607.5,132.7 608.2,132.7 608.7,133C609.1,133.3 609.3,134 609.5,134.3" fill="none" stroke="#5892c0" stroke-width="0.8" stroke-linecap="round"/><path d="M599.5,129.8C599.6,129.8 600,130.1 600.4,130.1C600.8,130.2 601,130.1 601.6,130.1C602.3,130 603.3,129.9 604.1,130C605,130.1 606,130.3 606.5,130.6C607.1,130.8 607.1,131.2 607.2,131.3" fill="none" stroke="#5892c0" stroke-width="0.8" stroke-linecap="round"/><path d="M600.5,138.4C600.6,138.6 600.9,139.2 601.2,139.5C601.6,139.7 602.2,140 602.6,140.1C603,140.2 603.2,140 603.7,140C604.2,140 604.9,140 605.6,140.1C606.3,140.2 607.6,140.5 608,140.6" fill="none" stroke="#5892c0" stroke-width="0.8" stroke-linecap="round"/></g>
<g fill="none"><path d="M638.3,251.8 L655.2,250.8" stroke="#f7c54d" stroke-width="4.9"/><path d="M655.2,250.8 L672,249.7" stroke="#8238b4" stroke-width="4.9"/><path d="M638.3,250.9 L672,248.8" stroke="#fff" stroke-opacity="0.35" stroke-width="1.4"/><path d="M632,260.9 L663.1,258.1" stroke="#8238b4" stroke-width="4.9"/><path d="M663.1,258.1 L694.1,255.3" stroke="#3cc8f5" stroke-width="4.9"/><path d="M632,260 L694.1,254.4" stroke="#fff" stroke-opacity="0.35" stroke-width="1.4"/><path d="M634.8,269.7 L666.8,266.7" stroke="#e23a37" stroke-width="4.9"/><path d="M666.8,266.7 L698.7,263.7" stroke="#8238b4" stroke-width="4.9"/><path d="M634.8,268.8 L698.7,262.8" stroke="#fff" stroke-opacity="0.35" stroke-width="1.4"/><path d="M647.6,277.4 L672.6,274.9" stroke="#f7c54d" stroke-width="4.9"/><path d="M672.6,274.9 L697.5,272.5" stroke="#3cc8f5" stroke-width="4.9"/><path d="M647.6,276.5 L697.5,271.6" stroke="#fff" stroke-opacity="0.35" stroke-width="1.4"/><path d="M677.8,283.2 L687.1,281.2" stroke="#3cc8f5" stroke-width="4.9"/><path d="M687.1,281.2 L696.4,279.2" stroke="#e23a37" stroke-width="4.9"/><path d="M677.8,282.3 L696.4,278.3" stroke="#fff" stroke-opacity="0.35" stroke-width="1.4"/><path d="M689.4,291.5 L697,289.7" stroke="#e23a37" stroke-width="6.8"/><path d="M697,289.7 L704.5,287.8" stroke="#3cc8f5" stroke-width="6.8"/><path d="M689.4,290.3 L704.5,286.6" stroke="#fff" stroke-opacity="0.35" stroke-width="1.9"/><path d="M669.7,312.9 L695.8,305.3" stroke="#f7c54d" stroke-width="6.8"/><path d="M695.8,305.3 L721.9,297.8" stroke="#8238b4" stroke-width="6.8"/><path d="M669.7,311.7 L721.9,296.6" stroke="#fff" stroke-opacity="0.35" stroke-width="1.9"/><path d="M655.7,333.8 L689.4,322.8" stroke="#e23a37" stroke-width="6.8"/><path d="M689.4,322.8 L723.1,311.7" stroke="#3cc8f5" stroke-width="6.8"/><path d="M655.7,332.6 L723.1,310.5" stroke="#fff" stroke-opacity="0.35" stroke-width="1.9"/><path d="M651.6,350.1 L682.7,340.2" stroke="#8238b4" stroke-width="6.8"/><path d="M682.7,340.2 L713.8,330.3" stroke="#f7c54d" stroke-width="6.8"/><path d="M651.6,348.8 L713.8,329.1" stroke="#fff" stroke-opacity="0.35" stroke-width="1.9"/><path d="M661.5,362.8 L677.2,357.8" stroke="#3cc8f5" stroke-width="6.8"/><path d="M677.2,357.8 L692.9,352.8" stroke="#e23a37" stroke-width="6.8"/><path d="M661.5,361.6 L692.9,351.6" stroke="#fff" stroke-opacity="0.35" stroke-width="1.9"/><path d="M618.6,190.2 L628.3,189.3" stroke="#f7c54d" stroke-width="2.6"/><path d="M628.3,189.3 L638.1,188.4" stroke="#8238b4" stroke-width="2.6"/><path d="M618.6,189.7 L638.1,187.9" stroke="#fff" stroke-opacity="0.35" stroke-width="0.7"/><path d="M614.8,195.2 L632.8,193.1" stroke="#8238b4" stroke-width="2.6"/><path d="M632.8,193.1 L650.7,191" stroke="#3cc8f5" stroke-width="2.6"/><path d="M614.8,194.7 L650.7,190.5" stroke="#fff" stroke-opacity="0.35" stroke-width="0.7"/><path d="M616.3,199.9 L634.7,197.6" stroke="#e23a37" stroke-width="2.6"/><path d="M634.7,197.6 L653.2,195.4" stroke="#8238b4" stroke-width="2.6"/><path d="M616.3,199.4 L653.2,194.9" stroke="#fff" stroke-opacity="0.35" stroke-width="0.7"/><path d="M623.5,203.8 L637.9,201.9" stroke="#f7c54d" stroke-width="2.6"/><path d="M637.9,201.9 L652.3,200.1" stroke="#3cc8f5" stroke-width="2.6"/><path d="M623.5,203.3 L652.3,199.7" stroke="#fff" stroke-opacity="0.35" stroke-width="0.7"/><path d="M640.8,206.3 L646.1,205" stroke="#3cc8f5" stroke-width="2.6"/><path d="M646.1,205 L651.5,203.8" stroke="#e23a37" stroke-width="2.6"/><path d="M640.8,205.8 L651.5,203.3" stroke="#fff" stroke-opacity="0.35" stroke-width="0.7"/><path d="M647.3,210.6 L651.7,209.4" stroke="#e23a37" stroke-width="3.6"/><path d="M651.7,209.4 L656.1,208.3" stroke="#3cc8f5" stroke-width="3.6"/><path d="M647.3,209.9 L656.1,207.6" stroke="#fff" stroke-opacity="0.35" stroke-width="1"/><path d="M635.5,222.5 L650.7,217.9" stroke="#f7c54d" stroke-width="3.6"/><path d="M650.7,217.9 L665.9,213.3" stroke="#8238b4" stroke-width="3.6"/><path d="M635.5,221.8 L665.9,212.6" stroke="#fff" stroke-opacity="0.35" stroke-width="1"/><path d="M627,234 L646.7,227.4" stroke="#e23a37" stroke-width="3.6"/><path d="M646.7,227.4 L666.3,220.8" stroke="#3cc8f5" stroke-width="3.6"/><path d="M627,233.3 L666.3,220.1" stroke="#fff" stroke-opacity="0.35" stroke-width="1"/><path d="M624.3,242.8 L642.4,236.9" stroke="#8238b4" stroke-width="3.6"/><path d="M642.4,236.9 L660.6,231" stroke="#f7c54d" stroke-width="3.6"/><path d="M624.3,242.2 L660.6,230.3" stroke="#fff" stroke-opacity="0.35" stroke-width="1"/><path d="M629.8,249.5 L638.9,246.5" stroke="#3cc8f5" stroke-width="3.6"/><path d="M638.9,246.5 L648.1,243.5" stroke="#e23a37" stroke-width="3.6"/><path d="M629.8,248.9 L648.1,242.9" stroke="#fff" stroke-opacity="0.35" stroke-width="1"/><path d="M607.9,157.6 L614.2,156.7" stroke="#f7c54d" stroke-width="1.4"/><path d="M614.2,156.7 L620.4,155.7" stroke="#8238b4" stroke-width="1.4"/><path d="M605.2,160.6 L616.8,158.6" stroke="#8238b4" stroke-width="1.4"/><path d="M616.8,158.6 L628.3,156.6" stroke="#3cc8f5" stroke-width="1.4"/><path d="M605.9,163.1 L617.8,161" stroke="#e23a37" stroke-width="1.4"/><path d="M617.8,161 L629.7,158.9" stroke="#8238b4" stroke-width="1.4"/><path d="M610.4,164.9 L619.7,163.2" stroke="#f7c54d" stroke-width="1.4"/><path d="M619.7,163.2 L629,161.5" stroke="#3cc8f5" stroke-width="1.4"/><path d="M621.3,165.5 L624.8,164.5" stroke="#3cc8f5" stroke-width="1.4"/><path d="M624.8,164.5 L628.3,163.6" stroke="#e23a37" stroke-width="1.4"/><path d="M625.3,167.5 L628.1,166.7" stroke="#e23a37" stroke-width="1.9"/><path d="M628.1,166.7 L631,165.8" stroke="#3cc8f5" stroke-width="1.9"/><path d="M625.3,167.2 L631,165.5" stroke="#fff" stroke-opacity="0.35" stroke-width="0.5"/><path d="M617.2,174.6 L627.1,171.4" stroke="#f7c54d" stroke-width="1.9"/><path d="M627.1,171.4 L637,168.1" stroke="#8238b4" stroke-width="1.9"/><path d="M617.2,174.3 L637,167.8" stroke="#fff" stroke-opacity="0.35" stroke-width="0.5"/><path d="M611.2,181.3 L624.1,176.8" stroke="#e23a37" stroke-width="1.9"/><path d="M624.1,176.8 L636.9,172.2" stroke="#3cc8f5" stroke-width="1.9"/><path d="M611.2,181 L636.9,171.9" stroke="#fff" stroke-opacity="0.35" stroke-width="0.5"/><path d="M609.1,186.3 L620.9,182.2" stroke="#8238b4" stroke-width="1.9"/><path d="M620.9,182.2 L632.8,178.1" stroke="#f7c54d" stroke-width="1.9"/><path d="M609.1,186 L632.8,177.8" stroke="#fff" stroke-opacity="0.35" stroke-width="0.5"/><path d="M612.3,189.7 L618.3,187.7" stroke="#3cc8f5" stroke-width="1.9"/><path d="M618.3,187.7 L624.2,185.6" stroke="#e23a37" stroke-width="1.9"/><path d="M612.3,189.4 L624.2,185.3" stroke="#fff" stroke-opacity="0.35" stroke-width="0.5"/><path d="M603.1,140 L606.6,139.4" stroke="#f7c54d" stroke-width="0.7"/><path d="M606.6,139.4 L610.1,138.9" stroke="#8238b4" stroke-width="0.7"/><path d="M601.6,141.6 L608,140.4" stroke="#8238b4" stroke-width="0.7"/><path d="M608,140.4 L614.5,139.2" stroke="#3cc8f5" stroke-width="0.7"/><path d="M601.9,143 L608.6,141.7" stroke="#e23a37" stroke-width="0.7"/><path d="M608.6,141.7 L615.2,140.4" stroke="#8238b4" stroke-width="0.7"/><path d="M604.4,143.9 L609.6,142.9" stroke="#f7c54d" stroke-width="0.7"/><path d="M609.6,142.9 L614.8,141.9" stroke="#3cc8f5" stroke-width="0.7"/><path d="M610.4,144.1 L612.4,143.5" stroke="#3cc8f5" stroke-width="0.7"/><path d="M612.4,143.5 L614.4,143" stroke="#e23a37" stroke-width="0.7"/><path d="M612.6,145.1 L614.2,144.6" stroke="#e23a37" stroke-width="1"/><path d="M614.2,144.6 L615.8,144.1" stroke="#3cc8f5" stroke-width="1"/><path d="M608,149 L613.6,147.2" stroke="#f7c54d" stroke-width="1"/><path d="M613.6,147.2 L619.1,145.3" stroke="#8238b4" stroke-width="1"/><path d="M604.7,152.7 L611.9,150.1" stroke="#e23a37" stroke-width="1"/><path d="M611.9,150.1 L619.1,147.5" stroke="#3cc8f5" stroke-width="1"/><path d="M603.4,155.3 L610.1,153" stroke="#8238b4" stroke-width="1"/><path d="M610.1,153 L616.7,150.7" stroke="#f7c54d" stroke-width="1"/><path d="M605.2,157.1 L608.5,156" stroke="#3cc8f5" stroke-width="1"/><path d="M608.5,156 L611.8,154.8" stroke="#e23a37" stroke-width="1"/><path d="M600.7,130.6 L602.5,130.3" stroke="#f7c54d" stroke-width="0.4"/><path d="M602.5,130.3 L604.4,130" stroke="#8238b4" stroke-width="0.4"/><path d="M599.9,131.5 L603.3,130.8" stroke="#8238b4" stroke-width="0.4"/><path d="M603.3,130.8 L606.7,130.2" stroke="#3cc8f5" stroke-width="0.4"/><path d="M600.1,132.2 L603.6,131.5" stroke="#e23a37" stroke-width="0.4"/><path d="M603.6,131.5 L607.1,130.8" stroke="#8238b4" stroke-width="0.4"/><path d="M601.4,132.6 L604.1,132.1" stroke="#f7c54d" stroke-width="0.4"/><path d="M604.1,132.1 L606.9,131.6" stroke="#3cc8f5" stroke-width="0.4"/><path d="M604.6,132.7 L605.6,132.5" stroke="#3cc8f5" stroke-width="0.4"/><path d="M605.6,132.5 L606.7,132.2" stroke="#e23a37" stroke-width="0.4"/><path d="M605.7,133.3 L606.6,133.1" stroke="#e23a37" stroke-width="0.6"/><path d="M606.6,133.1 L607.4,132.8" stroke="#3cc8f5" stroke-width="0.6"/><path d="M603.3,135.4 L606.3,134.4" stroke="#f7c54d" stroke-width="0.6"/><path d="M606.3,134.4 L609.2,133.4" stroke="#8238b4" stroke-width="0.6"/><path d="M601.5,137.3 L605.3,135.9" stroke="#e23a37" stroke-width="0.6"/><path d="M605.3,135.9 L609.2,134.6" stroke="#3cc8f5" stroke-width="0.6"/><path d="M600.9,138.7 L604.4,137.5" stroke="#8238b4" stroke-width="0.6"/><path d="M604.4,137.5 L607.9,136.3" stroke="#f7c54d" stroke-width="0.6"/><path d="M601.8,139.7 L603.6,139.1" stroke="#3cc8f5" stroke-width="0.6"/><path d="M603.6,139.1 L605.3,138.4" stroke="#e23a37" stroke-width="0.6"/></g>
<g><polygon points="714.7,292.9 715.2,293.7 715.9,294.7 716.7,295.8 717.6,297.1 718.6,298.4 719.5,299.9 720.5,301.3 721.3,302.8 722.1,304.3 722.7,305.8 723.1,307.2 723.3,308.6 723.4,309.9 723.4,311.4 723.2,313 723,314.6 722.7,316.2 722.3,317.9 721.8,319.5 721.3,321.2 720.6,322.9 719.9,324.6 719.1,326.3 718.3,327.9 717.3,329.5 716.3,331.2 715.2,332.8 714,334.5 712.7,336.2 711.4,337.8 709.9,339.5 708.5,341.1 706.9,342.8 705.3,344.4 703.7,345.9 702.1,347.4 700.4,348.9 698.6,350.2 696.7,351.5 694.8,352.8 692.7,354.1 690.6,355.5 688.4,356.8 686.2,358.2 684,359.6 681.7,361.2 679.5,362.8 677.3,364.5 683,371.4 684.9,369.7 686.8,368.1 688.8,366.6 690.9,365.1 692.9,363.6 695,362.1 697.1,360.7 699.2,359.2 701.2,357.7 703.2,356.1 705.1,354.4 707,352.7 708.7,350.9 710.3,349.1 711.9,347.3 713.5,345.5 714.9,343.6 716.4,341.7 717.7,339.9 719,338 720.2,336.1 721.3,334.2 722.3,332.3 723.3,330.4 724.1,328.5 724.8,326.6 725.5,324.7 726.1,322.8 726.6,320.9 727.1,319 727.4,317.1 727.6,315.2 727.8,313.3 727.8,311.5 727.7,309.7 727.5,307.9 727.1,306.1 726.4,304.4 725.6,302.6 724.7,300.9 723.6,299.3 722.6,297.8 721.5,296.3 720.5,295 719.5,293.8 718.7,292.7 718,291.8 717.5,291.1" fill="#8fc3e7" stroke="#5a9ace" stroke-width="0.9" stroke-linejoin="round"/><polygon points="715.7,292.3 716.2,293 716.9,294 717.7,295.1 718.6,296.4 719.6,297.7 720.6,299.1 721.6,300.6 722.5,302.2 723.3,303.7 724,305.3 724.5,306.8 724.8,308.3 724.9,309.9 724.9,311.5 724.8,313.1 724.6,314.8 724.3,316.5 724,318.2 723.5,320 723,321.8 722.3,323.5 721.6,325.3 720.9,327.1 720,328.8 719.1,330.5 718.1,332.2 717,334 715.8,335.7 714.5,337.5 713.1,339.2 711.7,340.9 710.2,342.7 708.7,344.4 707.1,346 705.4,347.7 703.8,349.3 702,350.8 700.2,352.3 698.3,353.7 696.3,355.1 694.3,356.4 692.2,357.8 690,359.2 687.9,360.6 685.7,362.1 683.5,363.6 681.4,365.2 679.3,366.9 681,369 683,367.3 685,365.7 687.1,364.1 689.2,362.7 691.4,361.2 693.5,359.8 695.6,358.4 697.6,357 699.7,355.5 701.6,354 703.5,352.5 705.2,350.8 706.9,349.2 708.6,347.5 710.2,345.7 711.7,344 713.2,342.2 714.6,340.4 716,338.6 717.3,336.8 718.5,334.9 719.6,333.1 720.6,331.3 721.5,329.5 722.3,327.7 723.1,325.9 723.8,324.1 724.4,322.2 724.9,320.4 725.4,318.6 725.7,316.8 726,315 726.2,313.2 726.2,311.5 726.2,309.8 726,308.2 725.7,306.5 725.1,304.9 724.4,303.2 723.5,301.6 722.5,300 721.5,298.5 720.5,297.1 719.5,295.7 718.5,294.5 717.7,293.4 717,292.5 716.5,291.7" fill="#b4dbf2" opacity="0.8"/><polygon points="691.6,260.5 692,261.3 692.7,262.2 693.5,263.2 694.4,264.3 695.2,265.4 696,266.6 696.7,267.8 697.2,268.9 697.6,269.9 697.7,271 697.9,272.4 698.1,273.8 698.2,275.1 698.1,276.4 698,277.6 697.7,278.9 697.2,280.3 696.4,281.8 695.3,283.3 693.7,285.1 691.6,287 688.9,289.2 685.9,291.5 682.7,293.9 679.3,296.3 675.9,298.8 672.6,301.3 669.6,303.9 666.9,306.4 664.5,309 662.1,311.6 659.9,314.3 657.7,316.9 655.7,319.6 653.8,322.1 652.1,324.6 650.5,327 649.2,329.2 648.1,331.3 647.2,333.2 646.5,334.9 645.9,336.6 645.5,338.2 645.3,339.7 645.2,341.2 645.3,342.7 645.6,344.2 646,345.6 649.2,345.2 649.2,343.8 649.3,342.6 649.4,341.5 649.7,340.4 650,339.3 650.4,338.2 651,336.9 651.8,335.5 652.8,333.9 653.9,332.1 655.3,330.1 656.8,328 658.6,325.7 660.5,323.3 662.5,320.8 664.6,318.3 666.8,315.8 669.1,313.4 671.4,311 673.9,308.8 676.7,306.4 679.9,304.1 683.2,301.6 686.5,299.2 689.8,296.8 693,294.4 695.9,292 698.4,289.6 700.4,287.3 701.9,285 703,282.8 703.7,280.6 704.1,278.5 704.2,276.5 704.1,274.6 703.8,272.9 703.5,271.4 703.1,269.9 702.7,268.3 701.9,266.6 701,265.1 699.9,263.7 698.8,262.5 697.6,261.3 696.5,260.3 695.6,259.5 694.8,258.9 694.2,258.4" fill="#8fc3e7" stroke="#5a9ace" stroke-width="0.9" stroke-linejoin="round"/><polygon points="692.5,259.8 693,260.5 693.7,261.3 694.6,262.2 695.5,263.3 696.5,264.4 697.4,265.6 698.2,266.8 698.9,268.1 699.4,269.3 699.6,270.6 699.9,272 700.1,273.5 700.2,274.9 700.3,276.4 700.1,277.9 699.8,279.5 699.2,281.2 698.3,282.9 697.1,284.7 695.4,286.7 693.1,288.8 690.4,291 687.3,293.3 684,295.7 680.6,298.2 677.3,300.6 674.1,303.1 671.1,305.6 668.5,308 666.1,310.5 663.8,313.1 661.5,315.7 659.4,318.3 657.3,320.9 655.5,323.4 653.7,325.8 652.2,328.1 650.9,330.2 649.7,332.2 648.8,334 648.1,335.6 647.5,337.1 647.1,338.6 646.8,340 646.7,341.3 646.7,342.7 646.9,344.1 647.1,345.5 648.1,345.3 648,343.9 647.9,342.6 648,341.4 648.1,340.2 648.4,338.9 648.9,337.6 649.4,336.2 650.2,334.7 651.1,333 652.3,331.1 653.6,329 655.2,326.8 656.9,324.4 658.8,322 660.8,319.4 662.9,316.9 665.2,314.3 667.5,311.8 669.9,309.4 672.4,307.1 675.3,304.7 678.5,302.2 681.8,299.8 685.2,297.3 688.5,294.9 691.6,292.6 694.4,290.3 696.8,288 698.6,285.9 700,283.9 701,281.9 701.6,280 702,278.2 702.1,276.4 702,274.8 701.8,273.2 701.5,271.7 701.2,270.3 700.9,268.9 700.3,267.4 699.5,266 698.5,264.7 697.5,263.5 696.5,262.4 695.5,261.4 694.6,260.5 693.8,259.7 693.3,259.2" fill="#b4dbf2" opacity="0.8"/><polygon points="661.9,210.8 662.1,211.2 662.5,211.8 662.9,212.4 663.4,213.1 663.8,213.8 664.3,214.6 664.8,215.4 665.2,216.2 665.6,216.9 665.9,217.7 666.1,218.4 666.2,219 666.2,219.7 666.1,220.5 666,221.3 665.9,222.1 665.7,223 665.4,223.9 665.2,224.8 664.8,225.7 664.4,226.6 664,227.5 663.6,228.4 663.1,229.3 662.5,230.2 662,231.2 661.3,232.1 660.6,233 659.9,234 659.1,235 658.3,235.9 657.5,236.9 656.6,237.8 655.7,238.8 654.7,239.7 653.8,240.6 652.8,241.5 651.8,242.3 650.7,243.2 649.6,244 648.4,244.8 647.2,245.6 646,246.5 644.7,247.3 643.5,248.2 642.3,249.2 641,250.2 639.9,251.2 640.9,252.6 642.2,251.7 643.5,250.9 644.7,250.1 646,249.3 647.3,248.6 648.6,247.8 649.9,247 651.1,246.3 652.4,245.5 653.6,244.7 654.7,243.8 655.8,242.9 656.9,242 657.9,241.1 658.9,240.1 659.9,239.1 660.8,238.2 661.7,237.2 662.6,236.2 663.4,235.1 664.1,234.1 664.9,233.1 665.5,232.1 666.1,231.1 666.7,230 667.2,229 667.6,227.9 668,226.9 668.4,225.8 668.7,224.8 669,223.7 669.1,222.7 669.3,221.7 669.3,220.7 669.3,219.7 669.2,218.7 669,217.6 668.6,216.6 668.2,215.7 667.6,214.8 667,213.9 666.4,213.1 665.8,212.4 665.2,211.7 664.6,211.1 664.1,210.5 663.7,210.1 663.4,209.8" fill="#8fc3e7" stroke="#5a9ace" stroke-width="0.5" stroke-linejoin="round"/><polygon points="662.4,210.4 662.7,210.8 663.1,211.4 663.5,212 664,212.6 664.5,213.3 665.1,214.1 665.6,214.9 666.1,215.7 666.5,216.5 666.9,217.3 667.1,218.1 667.2,218.9 667.3,219.7 667.3,220.5 667.2,221.4 667,222.3 666.8,223.3 666.6,224.2 666.3,225.1 665.9,226.1 665.6,227.1 665.1,228 664.7,229 664.1,229.9 663.6,230.9 663,231.8 662.3,232.8 661.6,233.8 660.8,234.8 660,235.7 659.2,236.7 658.3,237.7 657.4,238.6 656.5,239.6 655.5,240.5 654.5,241.4 653.5,242.3 652.4,243.2 651.3,244 650.1,244.8 648.9,245.6 647.7,246.4 646.5,247.2 645.2,248 643.9,248.9 642.7,249.8 641.4,250.7 640.2,251.7 640.6,252.1 641.8,251.2 643,250.3 644.3,249.4 645.6,248.6 646.8,247.8 648.1,247 649.4,246.3 650.6,245.5 651.8,244.7 652.9,243.9 654.1,243 655.1,242.1 656.1,241.2 657.1,240.3 658.1,239.3 659,238.4 659.9,237.4 660.8,236.4 661.6,235.4 662.4,234.4 663.2,233.4 663.8,232.4 664.5,231.4 665.1,230.4 665.6,229.5 666.1,228.5 666.5,227.5 666.9,226.5 667.3,225.5 667.6,224.5 667.8,223.5 668,222.5 668.1,221.5 668.2,220.6 668.2,219.7 668.2,218.8 668,217.9 667.7,217 667.3,216.1 666.8,215.3 666.3,214.4 665.7,213.6 665.1,212.9 664.5,212.2 664,211.5 663.6,211 663.2,210.5 662.9,210.1" fill="#b4dbf2" opacity="0.8"/><polygon points="649.3,193.8 649.5,194.2 649.9,194.7 650.3,195.2 650.8,195.8 651.3,196.4 651.7,197 652.1,197.6 652.4,198.1 652.5,198.7 652.6,199.3 652.7,200 652.8,200.7 652.8,201.4 652.8,202.1 652.7,202.8 652.5,203.5 652.1,204.2 651.6,205 651,205.9 650,206.9 648.7,208 647.1,209.3 645.3,210.6 643.4,211.9 641.4,213.3 639.4,214.7 637.5,216.1 635.7,217.6 634.1,219 632.7,220.4 631.3,221.8 629.9,223.3 628.6,224.8 627.4,226.2 626.3,227.7 625.2,229 624.3,230.4 623.5,231.6 622.8,232.7 622.2,233.7 621.8,234.7 621.4,235.6 621.1,236.5 621,237.3 620.9,238.1 620.9,238.9 621.1,239.7 621.2,240.5 623,240.3 623,239.6 623,238.9 623.1,238.3 623.3,237.8 623.5,237.2 623.8,236.6 624.1,235.9 624.6,235.1 625.2,234.2 625.9,233.2 626.7,232.1 627.7,230.9 628.7,229.6 629.8,228.3 631.1,226.9 632.3,225.5 633.7,224.2 635,222.8 636.4,221.5 637.9,220.2 639.6,218.9 641.4,217.5 643.4,216.2 645.4,214.8 647.4,213.4 649.2,212.1 650.9,210.7 652.4,209.4 653.6,208.2 654.5,206.9 655.1,205.7 655.6,204.5 655.9,203.4 656,202.3 655.9,201.3 655.8,200.4 655.7,199.5 655.5,198.7 655.3,197.9 654.9,197 654.3,196.1 653.7,195.4 653.1,194.7 652.5,194.1 651.9,193.6 651.3,193.2 650.9,192.9 650.6,192.7" fill="#8fc3e7" stroke="#5a9ace" stroke-width="0.5" stroke-linejoin="round"/><polygon points="649.7,193.4 650,193.8 650.4,194.2 650.9,194.7 651.4,195.2 651.9,195.8 652.4,196.4 652.9,197.1 653.3,197.7 653.5,198.4 653.6,199.1 653.7,199.8 653.8,200.6 653.9,201.4 653.9,202.2 653.8,203 653.6,203.8 653.2,204.7 652.6,205.7 651.9,206.7 650.8,207.8 649.5,209 647.9,210.2 646,211.6 644.1,212.9 642.1,214.3 640.1,215.7 638.2,217.1 636.5,218.5 634.9,219.8 633.5,221.2 632.1,222.7 630.8,224.1 629.5,225.5 628.2,227 627.1,228.4 626.1,229.7 625.1,231 624.3,232.1 623.6,233.2 623.1,234.2 622.6,235.1 622.2,235.9 622,236.7 621.8,237.5 621.7,238.2 621.7,238.9 621.7,239.7 621.8,240.4 622.4,240.4 622.3,239.6 622.3,238.9 622.4,238.3 622.5,237.6 622.7,236.9 622.9,236.2 623.3,235.4 623.8,234.6 624.4,233.7 625,232.6 625.9,231.5 626.8,230.3 627.8,229 629,227.6 630.2,226.2 631.5,224.8 632.8,223.3 634.2,222 635.6,220.6 637.1,219.3 638.9,217.9 640.7,216.5 642.7,215.2 644.7,213.8 646.6,212.4 648.5,211.1 650.1,209.8 651.6,208.6 652.7,207.4 653.5,206.3 654.1,205.2 654.5,204.1 654.7,203.2 654.8,202.2 654.8,201.3 654.7,200.5 654.6,199.7 654.5,198.9 654.3,198.1 654,197.4 653.6,196.6 653,195.9 652.5,195.3 651.9,194.7 651.3,194.2 650.8,193.7 650.4,193.4 650.1,193.1" fill="#b4dbf2" opacity="0.8"/><polygon points="634.7,166.9 634.8,167.2 635,167.5 635.3,167.8 635.5,168.1 635.8,168.5 636.1,168.9 636.4,169.3 636.6,169.7 636.8,170.1 637,170.5 637.1,170.8 637.1,171.2 637.1,171.5 637,171.9 636.9,172.4 636.8,172.9 636.6,173.3 636.4,173.8 636.2,174.3 635.9,174.9 635.6,175.4 635.3,175.9 635,176.4 634.6,177 634.3,177.5 633.8,178 633.4,178.6 632.9,179.2 632.4,179.7 631.8,180.3 631.2,180.9 630.7,181.4 630,182 629.4,182.6 628.8,183.1 628.1,183.7 627.4,184.2 626.7,184.7 626,185.3 625.2,185.8 624.4,186.3 623.6,186.8 622.8,187.3 622,187.8 621.1,188.4 620.3,189 619.5,189.6 618.7,190.2 619.2,190.9 620.1,190.4 620.9,189.9 621.8,189.4 622.6,188.9 623.5,188.4 624.3,188 625.2,187.5 626,187 626.8,186.5 627.6,186 628.4,185.5 629.1,185 629.8,184.4 630.5,183.9 631.2,183.3 631.8,182.7 632.5,182.1 633.1,181.6 633.7,181 634.2,180.4 634.8,179.8 635.3,179.2 635.7,178.6 636.2,178 636.5,177.5 636.9,176.9 637.3,176.3 637.6,175.7 637.8,175.1 638.1,174.5 638.3,173.9 638.5,173.3 638.6,172.8 638.7,172.2 638.7,171.6 638.7,171.1 638.6,170.5 638.4,169.9 638.2,169.4 637.9,168.9 637.5,168.5 637.2,168.1 636.8,167.7 636.5,167.3 636.2,167 635.9,166.7 635.6,166.5 635.5,166.4" fill="#8fc3e7" stroke="#5a9ace" stroke-width="0.3" stroke-linejoin="round"/><polygon points="635,166.7 635.1,166.9 635.3,167.2 635.6,167.5 635.9,167.9 636.2,168.2 636.5,168.6 636.8,169 637.1,169.4 637.3,169.9 637.5,170.3 637.6,170.7 637.7,171.1 637.6,171.6 637.6,172 637.5,172.5 637.4,173 637.2,173.5 637,174.1 636.8,174.6 636.5,175.2 636.2,175.7 635.9,176.3 635.5,176.8 635.2,177.3 634.8,177.9 634.3,178.5 633.9,179 633.4,179.6 632.8,180.2 632.3,180.7 631.7,181.3 631.1,181.9 630.4,182.5 629.8,183 629.1,183.6 628.5,184.1 627.8,184.7 627,185.2 626.3,185.7 625.5,186.2 624.7,186.7 623.9,187.2 623,187.7 622.2,188.2 621.4,188.7 620.5,189.3 619.7,189.9 618.9,190.4 619,190.7 619.9,190.1 620.7,189.6 621.5,189 622.4,188.5 623.2,188 624.1,187.5 624.9,187.1 625.7,186.6 626.5,186.1 627.3,185.6 628,185.1 628.8,184.5 629.5,184 630.1,183.4 630.8,182.8 631.4,182.3 632,181.7 632.6,181.1 633.2,180.5 633.8,180 634.3,179.4 634.8,178.8 635.2,178.2 635.6,177.7 636,177.1 636.4,176.5 636.7,176 637,175.4 637.3,174.8 637.5,174.3 637.7,173.7 637.9,173.2 638,172.6 638.1,172.1 638.1,171.6 638.1,171.1 638.1,170.6 637.9,170.1 637.7,169.7 637.4,169.2 637.1,168.8 636.8,168.4 636.5,168 636.2,167.6 635.8,167.3 635.6,167 635.4,166.8 635.2,166.6" fill="#b4dbf2" opacity="0.8"/><polygon points="627.4,158.2 627.6,158.4 627.8,158.7 628.1,158.9 628.3,159.2 628.6,159.5 628.9,159.8 629.1,160.1 629.2,160.4 629.3,160.6 629.3,160.9 629.4,161.3 629.4,161.7 629.4,162.1 629.3,162.5 629.2,162.8 629.1,163.2 628.8,163.7 628.5,164.2 628,164.7 627.3,165.3 626.4,166 625.3,166.8 624.1,167.6 622.8,168.4 621.4,169.3 620.1,170.1 618.8,171 617.6,171.8 616.6,172.7 615.6,173.5 614.6,174.4 613.7,175.3 612.8,176.1 612,177 611.2,177.8 610.4,178.6 609.8,179.4 609.2,180.1 608.7,180.7 608.3,181.3 608,181.9 607.7,182.4 607.5,182.9 607.4,183.3 607.3,183.8 607.2,184.2 607.3,184.7 607.3,185.1 608.3,185.1 608.3,184.7 608.3,184.3 608.4,184 608.5,183.7 608.7,183.4 608.9,183 609.2,182.6 609.5,182.2 609.9,181.6 610.4,181.1 611,180.4 611.6,179.7 612.4,179 613.2,178.2 614,177.4 614.9,176.5 615.8,175.7 616.8,174.9 617.7,174.1 618.7,173.3 619.9,172.5 621.1,171.7 622.4,170.8 623.8,170 625.1,169.1 626.3,168.3 627.5,167.5 628.4,166.7 629.2,166 629.9,165.3 630.3,164.6 630.7,164 630.9,163.3 631,162.7 631,162.1 631,161.6 630.9,161.2 630.9,160.7 630.8,160.3 630.6,159.7 630.3,159.3 629.9,158.9 629.5,158.6 629.2,158.3 628.8,158 628.5,157.8 628.3,157.6 628.1,157.5" fill="#8fc3e7" stroke="#5a9ace" stroke-width="0.3" stroke-linejoin="round"/><polygon points="627.6,158 627.8,158.1 628,158.4 628.3,158.6 628.6,158.9 628.9,159.2 629.2,159.5 629.5,159.8 629.7,160.2 629.8,160.5 629.9,160.9 629.9,161.3 629.9,161.7 629.9,162.1 629.9,162.5 629.8,163 629.6,163.5 629.3,164 628.9,164.6 628.4,165.2 627.7,165.8 626.8,166.5 625.7,167.3 624.4,168.1 623.1,168.9 621.8,169.8 620.5,170.7 619.2,171.5 618,172.4 617,173.2 616,174 615,174.8 614.1,175.7 613.2,176.6 612.4,177.4 611.6,178.2 610.9,179 610.2,179.7 609.6,180.4 609.1,181 608.7,181.6 608.4,182.1 608.1,182.6 607.9,183 607.8,183.5 607.7,183.9 607.6,184.3 607.6,184.7 607.7,185.1 607.9,185.1 607.9,184.7 608,184.3 608,183.9 608.1,183.6 608.3,183.2 608.5,182.8 608.8,182.3 609.1,181.9 609.5,181.3 610,180.7 610.6,180.1 611.2,179.3 612,178.6 612.7,177.8 613.6,176.9 614.5,176.1 615.4,175.2 616.3,174.4 617.3,173.6 618.3,172.8 619.5,172 620.8,171.1 622.1,170.3 623.4,169.4 624.7,168.6 626,167.8 627.1,167 628,166.2 628.8,165.5 629.4,164.9 629.8,164.3 630.1,163.7 630.3,163.1 630.4,162.6 630.4,162.1 630.4,161.7 630.4,161.2 630.3,160.8 630.3,160.4 630.1,160 629.9,159.6 629.6,159.2 629.2,158.9 628.9,158.6 628.6,158.3 628.3,158.1 628,157.9 627.8,157.8" fill="#b4dbf2" opacity="0.8"/><polygon points="617.8,144.7 617.9,144.9 618,145 618.1,145.2 618.3,145.4 618.4,145.6 618.6,145.8 618.7,146 618.8,146.2 618.9,146.4 619,146.6 619,146.8 619,146.9 619,147.1 619,147.3 618.9,147.5 618.8,147.8 618.8,148 618.6,148.3 618.5,148.6 618.4,148.8 618.2,149.1 618,149.4 617.8,149.7 617.6,150 617.4,150.2 617.2,150.5 616.9,150.8 616.6,151.1 616.3,151.4 616,151.7 615.7,152.1 615.4,152.4 615,152.7 614.7,153 614.3,153.3 614,153.6 613.6,153.9 613.2,154.2 612.8,154.5 612.3,154.8 611.9,155 611.4,155.3 611,155.6 610.5,155.9 610.1,156.2 609.6,156.5 609.1,156.9 608.7,157.2 609,157.8 609.5,157.5 610,157.2 610.5,156.9 611,156.7 611.4,156.4 611.9,156.1 612.4,155.9 612.9,155.6 613.3,155.4 613.8,155.1 614.2,154.8 614.6,154.5 615.1,154.2 615.4,153.9 615.8,153.6 616.2,153.3 616.6,153 616.9,152.7 617.2,152.3 617.6,152 617.9,151.7 618.2,151.4 618.4,151 618.7,150.7 618.9,150.4 619.1,150.1 619.3,149.8 619.5,149.4 619.7,149.1 619.8,148.8 619.9,148.5 620,148.1 620.1,147.8 620.2,147.5 620.2,147.2 620.2,146.9 620.1,146.5 620,146.2 619.9,145.9 619.7,145.7 619.5,145.4 619.3,145.2 619.1,145 618.9,144.8 618.7,144.7 618.6,144.5 618.5,144.4 618.4,144.3" fill="#8fc3e7" stroke="#5a9ace" stroke-width="0.3" stroke-linejoin="round"/><polygon points="618,144.6 618.1,144.7 618.2,144.9 618.3,145 618.5,145.2 618.7,145.4 618.8,145.6 619,145.8 619.1,146 619.3,146.2 619.4,146.5 619.4,146.7 619.4,146.9 619.4,147.1 619.4,147.4 619.3,147.6 619.3,147.9 619.2,148.2 619,148.5 618.9,148.7 618.8,149 618.6,149.3 618.4,149.6 618.2,149.9 618,150.2 617.8,150.5 617.5,150.8 617.3,151.1 617,151.4 616.7,151.7 616.3,152.1 616,152.4 615.7,152.7 615.3,153 615,153.3 614.6,153.6 614.2,153.9 613.8,154.2 613.4,154.5 613,154.8 612.5,155.1 612.1,155.3 611.6,155.6 611.1,155.9 610.7,156.2 610.2,156.5 609.7,156.8 609.3,157.1 608.8,157.4 608.9,157.6 609.4,157.3 609.9,157 610.3,156.7 610.8,156.4 611.3,156.1 611.8,155.9 612.2,155.6 612.7,155.3 613.1,155.1 613.6,154.8 614,154.5 614.4,154.2 614.8,153.9 615.2,153.6 615.6,153.3 615.9,153 616.3,152.7 616.6,152.3 616.9,152 617.2,151.7 617.5,151.4 617.8,151.1 618.1,150.8 618.3,150.5 618.5,150.1 618.7,149.8 618.9,149.5 619.1,149.2 619.3,148.9 619.4,148.6 619.5,148.3 619.6,148 619.7,147.7 619.7,147.4 619.8,147.2 619.8,146.9 619.7,146.6 619.7,146.4 619.5,146.1 619.4,145.9 619.2,145.6 619.1,145.4 618.9,145.2 618.7,145 618.5,144.8 618.4,144.7 618.3,144.6 618.2,144.5" fill="#b4dbf2" opacity="0.8"/><polygon points="613.9,140.1 614,140.3 614.1,140.4 614.2,140.6 614.4,140.7 614.5,140.9 614.7,141 614.8,141.2 614.8,141.3 614.9,141.4 614.9,141.5 614.9,141.7 614.9,141.9 614.8,142.1 614.8,142.3 614.8,142.5 614.7,142.7 614.5,142.9 614.3,143.2 614.1,143.5 613.7,143.8 613.2,144.2 612.6,144.6 611.9,145 611.2,145.5 610.4,145.9 609.7,146.4 608.9,146.9 608.3,147.4 607.7,147.8 607.1,148.3 606.6,148.8 606,149.3 605.5,149.7 605,150.2 604.6,150.7 604.2,151.1 603.8,151.5 603.5,151.9 603.2,152.3 603,152.6 602.8,152.9 602.6,153.2 602.5,153.4 602.4,153.7 602.4,154 602.3,154.2 602.4,154.5 602.4,154.7 603.1,154.7 603.1,154.5 603.1,154.3 603.2,154.2 603.2,154 603.3,153.8 603.4,153.6 603.6,153.4 603.8,153.2 604,152.9 604.3,152.6 604.6,152.3 605,151.9 605.4,151.5 605.9,151.1 606.3,150.6 606.8,150.2 607.4,149.7 607.9,149.3 608.4,148.8 609,148.4 609.7,148 610.4,147.5 611.1,147 611.9,146.6 612.6,146.1 613.3,145.6 613.9,145.2 614.5,144.8 614.9,144.4 615.3,144 615.6,143.6 615.8,143.2 615.9,142.9 616,142.5 616,142.2 616,141.9 616,141.7 615.9,141.4 615.9,141.1 615.7,140.8 615.6,140.6 615.4,140.4 615.2,140.2 614.9,140 614.7,139.9 614.6,139.8 614.4,139.7 614.3,139.7" fill="#8fc3e7" stroke="#5a9ace" stroke-width="0.3" stroke-linejoin="round"/><polygon points="614,140 614.1,140.1 614.3,140.2 614.4,140.3 614.6,140.5 614.8,140.6 614.9,140.8 615,141 615.2,141.1 615.2,141.3 615.2,141.5 615.2,141.7 615.3,141.9 615.3,142.2 615.2,142.4 615.2,142.6 615.1,142.9 614.9,143.2 614.7,143.5 614.4,143.8 614,144.1 613.4,144.5 612.8,144.9 612.1,145.4 611.4,145.9 610.7,146.3 609.9,146.8 609.2,147.3 608.5,147.7 607.9,148.2 607.4,148.6 606.8,149.1 606.3,149.6 605.8,150 605.3,150.5 604.9,150.9 604.5,151.4 604.1,151.8 603.8,152.2 603.5,152.5 603.3,152.8 603.1,153.1 602.9,153.3 602.8,153.6 602.7,153.8 602.6,154 602.6,154.3 602.6,154.5 602.6,154.7 602.8,154.7 602.8,154.5 602.8,154.3 602.9,154.1 602.9,153.9 603,153.7 603.2,153.5 603.3,153.2 603.5,153 603.7,152.7 604,152.4 604.3,152 604.7,151.6 605.1,151.2 605.6,150.8 606.1,150.3 606.6,149.8 607.1,149.4 607.6,148.9 608.2,148.5 608.7,148 609.4,147.6 610.1,147.1 610.9,146.7 611.6,146.2 612.3,145.7 613,145.3 613.7,144.8 614.2,144.4 614.6,144 615,143.7 615.2,143.4 615.4,143 615.5,142.7 615.6,142.4 615.6,142.2 615.6,141.9 615.6,141.7 615.6,141.5 615.5,141.2 615.4,141 615.3,140.8 615.1,140.6 614.9,140.4 614.8,140.3 614.6,140.1 614.4,140 614.3,139.9 614.2,139.8" fill="#b4dbf2" opacity="0.8"/><polygon points="608.4,133.2 608.4,133.3 608.5,133.4 608.5,133.5 608.6,133.6 608.7,133.7 608.7,133.8 608.8,133.9 608.8,134 608.9,134.1 608.9,134.2 608.9,134.2 608.9,134.3 608.9,134.3 608.8,134.4 608.8,134.5 608.8,134.6 608.7,134.7 608.7,134.9 608.6,135 608.5,135.1 608.4,135.3 608.4,135.4 608.3,135.6 608.2,135.7 608,135.8 607.9,136 607.8,136.1 607.7,136.3 607.5,136.4 607.4,136.6 607.2,136.8 607,136.9 606.8,137.1 606.7,137.3 606.5,137.4 606.3,137.6 606.1,137.8 605.9,137.9 605.7,138.1 605.5,138.2 605.3,138.4 605,138.5 604.8,138.7 604.5,138.9 604.3,139 604,139.2 603.8,139.4 603.6,139.6 603.9,140.1 604.2,140 604.5,139.9 604.7,139.7 605,139.6 605.2,139.5 605.5,139.4 605.8,139.2 606,139.1 606.3,139 606.5,138.8 606.8,138.7 607,138.5 607.2,138.3 607.4,138.2 607.6,138 607.8,137.9 608,137.7 608.2,137.5 608.4,137.3 608.6,137.2 608.8,137 608.9,136.8 609.1,136.6 609.2,136.5 609.3,136.3 609.4,136.1 609.6,135.9 609.7,135.7 609.7,135.6 609.8,135.4 609.9,135.2 609.9,135 610,134.8 610,134.6 610,134.4 610,134.2 610,134 609.9,133.8 609.8,133.6 609.7,133.5 609.6,133.3 609.5,133.2 609.4,133.1 609.2,133 609.1,132.9 609,132.9 609,132.8 608.9,132.8" fill="#8fc3e7" stroke="#5a9ace" stroke-width="0.3" stroke-linejoin="round"/><polygon points="608.6,133.1 608.6,133.1 608.7,133.2 608.7,133.3 608.8,133.4 608.9,133.5 609,133.6 609.1,133.7 609.1,133.8 609.2,133.9 609.2,134.1 609.3,134.2 609.3,134.3 609.3,134.4 609.3,134.5 609.2,134.6 609.2,134.8 609.1,134.9 609.1,135 609,135.2 608.9,135.3 608.8,135.5 608.7,135.7 608.6,135.8 608.5,136 608.4,136.1 608.3,136.3 608.1,136.4 608,136.6 607.8,136.8 607.7,136.9 607.5,137.1 607.3,137.3 607.1,137.4 606.9,137.6 606.7,137.8 606.5,137.9 606.3,138.1 606.1,138.2 605.9,138.4 605.7,138.5 605.4,138.7 605.2,138.8 604.9,139 604.7,139.1 604.4,139.3 604.2,139.4 603.9,139.6 603.7,139.8 603.8,140 604.1,139.8 604.3,139.6 604.6,139.5 604.8,139.3 605.1,139.2 605.3,139.1 605.6,138.9 605.8,138.8 606.1,138.6 606.3,138.5 606.5,138.3 606.7,138.2 607,138 607.2,137.9 607.4,137.7 607.6,137.5 607.7,137.4 607.9,137.2 608.1,137 608.3,136.9 608.4,136.7 608.6,136.5 608.7,136.4 608.8,136.2 609,136 609.1,135.9 609.2,135.7 609.3,135.5 609.3,135.4 609.4,135.2 609.5,135 609.5,134.9 609.6,134.7 609.6,134.6 609.6,134.4 609.6,134.2 609.6,134.1 609.6,133.9 609.5,133.8 609.4,133.7 609.3,133.5 609.2,133.4 609.1,133.3 609,133.2 608.9,133.1 608.8,133.1 608.8,133 608.7,132.9" fill="#b4dbf2" opacity="0.8"/><polygon points="606.3,130.8 606.3,130.9 606.4,131 606.5,131 606.6,131.1 606.6,131.2 606.7,131.3 606.7,131.4 606.7,131.4 606.7,131.4 606.7,131.4 606.7,131.5 606.7,131.6 606.7,131.7 606.6,131.8 606.6,131.8 606.6,131.9 606.5,132 606.4,132.1 606.3,132.2 606.1,132.4 605.9,132.6 605.6,132.8 605.2,133 604.8,133.2 604.4,133.5 604,133.7 603.6,134 603.3,134.3 602.9,134.5 602.6,134.8 602.3,135 602.1,135.3 601.8,135.5 601.5,135.8 601.3,136.1 601.1,136.3 600.9,136.5 600.7,136.7 600.6,136.9 600.4,137.1 600.3,137.3 600.3,137.5 600.2,137.6 600.1,137.8 600.1,138 600.1,138.1 600.1,138.3 600.2,138.4 600.8,138.4 600.9,138.3 600.9,138.2 600.9,138.1 601,138.1 601,138 601.1,137.9 601.2,137.9 601.3,137.7 601.4,137.6 601.5,137.5 601.7,137.3 601.9,137.1 602.1,136.9 602.4,136.7 602.6,136.4 602.9,136.2 603.2,136 603.4,135.7 603.7,135.5 604,135.3 604.3,135.1 604.7,134.8 605.1,134.6 605.5,134.3 605.9,134.1 606.3,133.8 606.6,133.6 606.9,133.4 607.2,133.1 607.4,132.9 607.6,132.7 607.7,132.4 607.8,132.2 607.8,132 607.8,131.8 607.8,131.6 607.8,131.5 607.8,131.3 607.7,131.1 607.6,130.9 607.5,130.8 607.4,130.6 607.2,130.5 607.1,130.5 607,130.4 606.9,130.4 606.8,130.3 606.8,130.3" fill="#8fc3e7" stroke="#5a9ace" stroke-width="0.3" stroke-linejoin="round"/><polygon points="606.5,130.6 606.5,130.7 606.6,130.7 606.7,130.8 606.8,130.9 606.8,131 606.9,131.1 607,131.2 607,131.2 607.1,131.3 607.1,131.4 607.1,131.5 607.1,131.6 607.1,131.7 607,131.8 607,132 607,132.1 606.9,132.2 606.8,132.4 606.6,132.5 606.4,132.7 606.1,132.9 605.8,133.1 605.4,133.4 605.1,133.6 604.7,133.9 604.3,134.1 603.9,134.4 603.5,134.6 603.2,134.9 602.9,135.1 602.6,135.4 602.3,135.6 602.1,135.9 601.8,136.1 601.6,136.3 601.4,136.6 601.2,136.8 601,137 600.9,137.2 600.7,137.3 600.6,137.5 600.5,137.6 600.5,137.8 600.4,137.9 600.4,138 600.4,138.2 600.4,138.3 600.4,138.4 600.6,138.4 600.6,138.3 600.6,138.2 600.6,138.1 600.7,138 600.7,137.9 600.8,137.8 600.9,137.7 601,137.5 601.1,137.4 601.2,137.2 601.4,137 601.6,136.8 601.8,136.6 602.1,136.4 602.3,136.1 602.6,135.9 602.9,135.6 603.2,135.4 603.4,135.2 603.7,134.9 604.1,134.7 604.5,134.5 604.9,134.2 605.3,134 605.7,133.7 606,133.5 606.4,133.2 606.6,133 606.9,132.8 607.1,132.6 607.2,132.4 607.3,132.2 607.4,132.1 607.4,131.9 607.4,131.8 607.4,131.6 607.4,131.5 607.4,131.4 607.4,131.2 607.3,131.1 607.2,131 607.1,130.9 607,130.8 606.9,130.7 606.8,130.6 606.7,130.6 606.7,130.5 606.6,130.5" fill="#b4dbf2" opacity="0.8"/></g>
<path d="M563,102.5 C576,105 588,110.5 596.5,119 C600,122.5 602,126 603.5,130" fill="none" stroke="#3f8fd0" stroke-width="1.7"/>
<path d="M563,104.5 C575,107.5 586,113 593.5,121 C596,124 598,127 600,131" fill="none" stroke="#7fbce8" stroke-width="1.4"/>
</g>
<g id="bigdna">
<g mask="url(#maskR)">
<path d="M676,366C677.3,366.2 680,366 684,367C688,368 694,369.7 700,372C706,374.3 713.3,377.7 720,381C726.7,384.3 733.3,387.5 740,392C746.7,396.5 753.3,402.7 760,408C766.7,413.3 773.3,418 780,424C786.7,430 793.3,437 800,444C806.7,451 814.7,459.7 820,466C825.3,472.3 829,478 832,482C835,486 835,485.8 838,490C841,494.2 846.3,502 850,507C853.7,512 855,512.8 860,520C865,527.2 873.3,540 880,550C886.7,560 894.3,571.3 900,580C905.7,588.7 911.7,598.3 914,602L835,610C835.2,605 836.8,589 836,580C835.2,571 832.7,564.3 830,556C827.3,547.7 823.7,538.2 820,530C816.3,521.8 811.3,513.7 808,507C804.7,500.3 803.7,497.2 800,490C796.3,482.8 791.7,473 786,464C780.3,455 772,443.3 766,436C760,428.7 755,425 750,420C745,415 740.3,410 736,406C731.7,402 728,399 724,396C720,393 716,390.8 712,388C708,385.2 704.7,381.7 700,379C695.3,376.3 688,373.7 684,372C680,370.3 677.3,369.5 676,369Z" fill="url(#ribR)"/>
<path d="M684,369.5C686.7,370.5 694.7,373.1 700,375.5C705.3,377.9 710.7,380.6 716,384C721.3,387.4 726.7,391.7 732,396C737.3,400.3 745.3,407.7 748,410" fill="none" stroke="#4a7ea6" stroke-width="6" opacity="0.55" stroke-linecap="round"/>
<path d="M676,366C677.3,366.2 680,366 684,367C688,368 694,369.7 700,372C706,374.3 713.3,377.7 720,381C726.7,384.3 733.3,387.5 740,392C746.7,396.5 753.3,402.7 760,408C766.7,413.3 773.3,418 780,424C786.7,430 793.3,437 800,444C806.7,451 814.7,459.7 820,466C825.3,472.3 829,478 832,482C835,486 835,485.8 838,490C841,494.2 846.3,502 850,507C853.7,512 855,512.8 860,520C865,527.2 873.3,540 880,550C886.7,560 894.3,571.3 900,580C905.7,588.7 911.7,598.3 914,602" fill="none" stroke="#8fb8d6" stroke-width="1.2" opacity="0.8"/>
<g fill="none" stroke="#3654ac" stroke-width="0.8" stroke-linejoin="round">
<path d="M721,387 L727,388 L731.6,393.8 L740,402 L744,403"/>
<path d="M755,408 L762,410 L768.6,423.6 L777,436 L780,441.6"/>
<path d="M797,451 L806,453 L811,474 L816,490 L820,498"/>
<path d="M838,514 L848,515 L856,545 L862,565 L866,573"/>
</g>
<polygon points="710,387 715,383 721,387 719,392.4 712,391.6" fill="#6fa4d8"/>
<polygon points="736,410 744,403 755,408 748,419 737,416" fill="#6fa4d8"/>
<polygon points="768,445 780,441.6 797,451 786,464 767.6,459" fill="#6fa4d8"/>
<polygon points="800,505 820,498 838,514 822,531 800,525" fill="#6fa4d8"/>
<polygon points="837,583 866,573 884,595 864,615 835,608" fill="#6fa4d8"/>
<circle cx="731.6" cy="393.8" r="3.6" fill="url(#sph)"/>
<circle cx="768.6" cy="423.6" r="4.4" fill="url(#sph)"/>
<circle cx="811" cy="474" r="8" fill="url(#sph)"/>
<circle cx="856" cy="545" r="9.6" fill="url(#sph)"/>
</g>
<g mask="url(#maskL)">
<path d="M681,367C678.8,368.7 672.5,373.2 668,377C663.5,380.8 658.7,383.8 654,390C649.3,396.2 644.3,405.7 640,414C635.7,422.3 632,430.7 628,440C624,449.3 619.7,460 616,470C612.3,480 609.3,490 606,500C602.7,510 598.7,521.2 596,530C593.3,538.8 592,544.7 590,553C588,561.3 586,568.8 584,580C582,591.2 580,608.3 578,620C576,631.7 573.7,641.3 572,650C570.3,658.7 568.7,668.3 568,672L622,672C622.2,666.7 622.7,653.7 623,640C623.3,626.3 623.7,603.3 624,590C624.3,576.7 624.7,568.3 625,560C625.3,551.7 625.3,548.3 626,540C626.7,531.7 627.7,520 629,510C630.3,500 632,489.7 634,480C636,470.3 639,460.3 641,452C643,443.7 643.8,437.3 646,430C648.2,422.7 650.3,415.3 654,408C657.7,400.7 663.8,391.5 668,386C672.2,380.5 675.3,378.7 679,375C682.7,371.3 688.2,365.8 690,364Z" fill="url(#ribL)"/>
<path d="M690,364C688.2,365.8 682.7,371.3 679,375C675.3,378.7 672.2,380.5 668,386C663.8,391.5 657.7,400.7 654,408C650.3,415.3 648.2,422.7 646,430C643.8,437.3 643,443.7 641,452C639,460.3 636,470.3 634,480C632,489.7 630.3,500 629,510C627.7,520 626.7,531.7 626,540C625.3,548.3 625.3,551.7 625,560C624.7,568.3 624.3,576.7 624,590C623.7,603.3 623.3,626.3 623,640C622.7,653.7 622.2,666.7 622,672L614.5,672C614.7,666.7 615.2,653.7 615.5,640C615.8,626.3 616.2,603.3 616.5,590C616.8,576.7 617,568.3 617.5,560C618,551.7 618.3,548.3 619.4,540C620.5,531.7 622.3,520 624.2,510C626.1,500 628.4,489.7 631,480C633.6,470.3 637.2,460.3 639.7,452C642.2,443.7 643.6,437.3 646,430C648.4,422.7 650.3,415.3 654,408C657.7,400.7 663.8,391.5 668,386C672.2,380.5 675.3,378.7 679,375C682.7,371.3 688.2,365.8 690,364Z" fill="url(#ribLs)"/>
<path d="M681,367C678.8,368.7 672.5,373.2 668,377C663.5,380.8 658.7,383.8 654,390C649.3,396.2 644.3,405.7 640,414C635.7,422.3 632,430.7 628,440C624,449.3 619.7,460 616,470C612.3,480 609.3,490 606,500C602.7,510 598.7,521.2 596,530C593.3,538.8 591,549.2 590,553" fill="none" stroke="#5c9cd0" stroke-width="1" opacity="0.9"/>
<path d="M690,364C688.2,365.8 682.7,371.3 679,375C675.3,378.7 672.2,380.5 668,386C663.8,391.5 657.7,400.7 654,408C650.3,415.3 648.2,422.7 646,430C643.8,437.3 641.8,448.3 641,452" fill="none" stroke="#5c9cd0" stroke-width="1" opacity="0.8"/>
<g fill="none" stroke="#2646a8" stroke-width="0.9" stroke-linejoin="round">
<path d="M650,411 L643,422 L636,434 L635,444"/>
<path d="M642,454 L626.6,470.5 L609,495 L616,500"/>
<path d="M626,513.6 L607.6,539.4 L590,566 L601,574"/>
<path d="M613,591 L594.4,619.4 L580,640 L596,655"/>
</g>
<polygon points="648,406 655,403.6 659,408 656,412 649,410.4" fill="#9db7e2"/>
<polygon points="635,444 644,438 654,441 653,451 642,454" fill="#9db7e2"/>
<polygon points="616,500 628,489 645,493 643,509 626,513.6" fill="#9db7e2"/>
<polygon points="601,574 616,559 639,566 635.6,588 613,591" fill="#9db7e2"/>
<polygon points="596,655 617,639 643,648 638,672 606,670" fill="#a9c2ea"/>
<circle cx="643" cy="422" r="3.5" fill="url(#sph)"/>
<circle cx="626.6" cy="470.5" r="5" fill="url(#sph)"/>
<circle cx="607.6" cy="539.4" r="8.4" fill="url(#sph)"/>
<circle cx="594.4" cy="619.4" r="9.6" fill="url(#sph)"/>
</g>
<g fill="none" stroke="#22409c" stroke-width="1.1" stroke-linejoin="round">
<path d="M659,407.5 L663,400.5"/>
<path d="M682,397 L688,388.5 L693,388"/>
<path d="M680,401.5 L692,393"/>
<path d="M703.6,391 L710,389"/>
<path d="M653.6,441 L661,433.5"/>
<path d="M675,426 L688,416.5 L698,417.5"/>
<path d="M680,431 L698,424.5"/>
<path d="M726,416 L736,414"/>
<path d="M645,493.5 L662,489.6"/>
<path d="M690,467 L701,457 L717,451 L735,451"/>
<path d="M702.4,471.6 L728,462"/>
<path d="M700,484 L714,485.5 L728,479 L737,469.6"/>
<path d="M757,455.5 L768,452"/>
<path d="M639,567 L663,561.6"/>
<path d="M677,531 L692,521 L712,516 L728,521"/>
<path d="M691,541 L721,534"/>
<path d="M684,557 L698,561.5 L718,556 L732,545"/>
<path d="M782.5,524.3 L800,525"/>
<path d="M643,648 L678,636"/>
<path d="M694,597 L712,582 L740,576 L759,581"/>
<path d="M713,610 L752,596"/>
<path d="M821,583 L837,583"/>
</g>
<polygon points="663.3,400.9 666.3,397.4 671.8,396.9 674.3,399.9 671.8,403.9 666.3,404.4" fill="#e3a92c"/>
<polygon points="674.3,399.9 671.8,396.9 674.8,394.9 680.8,395.4 682.3,399.4 678.8,402.4" fill="#e3a92c"/>
<polygon points="663,399.5 666,396 671.5,395.5 674,398.5 671.5,402.5 666,403" fill="#f7c54d" stroke="#e3a92c" stroke-width="0.7" stroke-opacity="0.55" stroke-linejoin="round"/>
<polygon points="674,398.5 671.5,395.5 674.5,393.5 680.5,394 682,398 678.5,401" fill="#f7c54d" stroke="#e3a92c" stroke-width="0.7" stroke-opacity="0.55" stroke-linejoin="round"/>
<path d="M674,398.5 L678.5,401" stroke="#e3a92c" stroke-width="0.6" opacity="0.7"/>
<polygon points="692.3,391.9 695.3,387.9 701.3,387.4 703.9,391.4 700.8,395.9 694.8,396.4" fill="#a772cf"/>
<polygon points="692,390.5 695,386.5 701,386 703.6,390 700.5,394.5 694.5,395" fill="#8238b4" stroke="#a772cf" stroke-width="0.7" stroke-opacity="0.55" stroke-linejoin="round"/>
<polygon points="661.3,433.4 666.3,427.4 675.3,427 680.3,432.4 674.3,438.4 665.3,439.4" fill="#a772cf"/>
<polygon points="661,432 666,426 675,425.6 680,431 674,437 665,438" fill="#8238b4" stroke="#a772cf" stroke-width="0.7" stroke-opacity="0.55" stroke-linejoin="round"/>
<polygon points="698.3,422.4 703.3,417.4 713.3,416.4 718.3,421.4 713.3,428.4 703.3,429.4" fill="#e3a92c"/>
<polygon points="713.3,416.4 715.3,411.4 726.3,411.4 725.3,418.4 718.3,421.4" fill="#e3a92c"/>
<polygon points="698,421 703,416 713,415 718,420 713,427 703,428" fill="#f7c54d" stroke="#e3a92c" stroke-width="0.7" stroke-opacity="0.55" stroke-linejoin="round"/>
<polygon points="713,415 715,410 726,410 725,417 718,420" fill="#f7c54d" stroke="#e3a92c" stroke-width="0.7" stroke-opacity="0.55" stroke-linejoin="round"/>
<path d="M713,415 L718,420" stroke="#e3a92c" stroke-width="0.6" opacity="0.7"/>
<polygon points="676.3,475.8 690.3,468.4 702.7,473 700.3,485.4 685.3,493 673.9,488.4" fill="#c12a28"/>
<polygon points="676.3,475.8 666.3,472.4 652.3,483.4 662.3,491 673.9,488.4" fill="#c12a28"/>
<polygon points="676,474.4 690,467 702.4,471.6 700,484 685,491.6 673.6,487" fill="#e23a37" stroke="#c12a28" stroke-width="0.7" stroke-opacity="0.55" stroke-linejoin="round"/>
<polygon points="676,474.4 666,471 652,482 662,489.6 673.6,487" fill="#e23a37" stroke="#c12a28" stroke-width="0.7" stroke-opacity="0.55" stroke-linejoin="round"/>
<path d="M676,474.4 L673.6,487" stroke="#c12a28" stroke-width="0.6" opacity="0.7"/>
<polygon points="728.3,459.4 735.3,452.4 748.3,449 757.3,456.4 750.3,466.4 737.3,471" fill="#2aa6dc"/>
<polygon points="728,458 735,451 748,447.6 757,455 750,465 737,469.6" fill="#3cc8f5" stroke="#2aa6dc" stroke-width="0.7" stroke-opacity="0.55" stroke-linejoin="round"/>
<polygon points="650.3,552.4 658.3,537.4 677.3,532.4 691.3,542.4 684.3,558.4 663.3,563" fill="#2aa6dc"/>
<polygon points="650,551 658,536 677,531 691,541 684,557 663,561.6" fill="#3cc8f5" stroke="#2aa6dc" stroke-width="0.7" stroke-opacity="0.55" stroke-linejoin="round"/>
<polygon points="720.3,535.2 732.8,520.2 752.8,517.4 765.3,528.9 756.3,543.9 735.3,548.4" fill="#c12a28"/>
<polygon points="752.8,517.4 764.1,507.4 785.3,508.9 782.8,525.2 765.3,528.9" fill="#c12a28"/>
<polygon points="720,533.8 732.5,518.8 752.5,516 765,527.5 756,542.5 735,547" fill="#e23a37" stroke="#c12a28" stroke-width="0.7" stroke-opacity="0.55" stroke-linejoin="round"/>
<polygon points="752.5,516 763.8,506 785,507.5 782.5,523.8 765,527.5" fill="#e23a37" stroke="#c12a28" stroke-width="0.7" stroke-opacity="0.55" stroke-linejoin="round"/>
<path d="M752.5,516 L765,527.5" stroke="#c12a28" stroke-width="0.6" opacity="0.7"/>
<polygon points="661.3,624.4 668.3,606.4 694.3,598.4 713.3,611.4 704.3,631.4 678.3,637.4" fill="#a772cf"/>
<polygon points="661,623 668,605 694,597 713,610 704,630 678,636" fill="#8238b4" stroke="#a772cf" stroke-width="0.7" stroke-opacity="0.55" stroke-linejoin="round"/>
<polygon points="752.3,597.4 760.3,582.4 787.3,576.4 801.3,589.4 793.3,606.4 768.3,610.4" fill="#e3a92c"/>
<polygon points="787.3,576.4 798.3,564.4 824.3,565 821.3,584.4 801.3,589.4" fill="#e3a92c"/>
<polygon points="752,596 760,581 787,575 801,588 793,605 768,609" fill="#f7c54d" stroke="#e3a92c" stroke-width="0.7" stroke-opacity="0.55" stroke-linejoin="round"/>
<polygon points="787,575 798,563 824,563.6 821,583 801,588" fill="#f7c54d" stroke="#e3a92c" stroke-width="0.7" stroke-opacity="0.55" stroke-linejoin="round"/>
<path d="M787,575 L801,588" stroke="#e3a92c" stroke-width="0.6" opacity="0.7"/>
</g>
<g id="labels">
<g stroke="#1a1a1a" stroke-width="1.15" fill="none">
<path d="M180,127.5 L192.5,146"/>
<path d="M439.5,112.5 L439.5,187.5"/>
<path d="M465,198.5 L616,198.5"/>
<path d="M557.5,73.5 L588.5,73.5"/>
<path d="M514.5,100 L514.5,122.5 L563.5,122.5 L563.5,107.5 M539.5,122.5 L539.5,133.5"/>
<path d="M600,119.5 L619.5,107.5 L753.8,302 L723.8,321.3 M687,204.3 L716.3,186.3"/>
<path d="M200.5,479 L200.5,508.8"/>
<path d="M820.6,423.4 L717,444.8 L730,506.3 L833,484.5 Z M820.6,423.4 L825.3,414"/>
<path d="M535,525.5 L735,525.5 M538,554.5 L661,554.5 M535,588.5 L768.8,588.5 M538,616.5 L673.8,616.5"/>
</g>
<rect x="440.7" y="517.8" width="18.3" height="17.7" fill="#e23a37"/>
<rect x="440.7" y="545.9" width="18.3" height="17.7" fill="#3cc8f5"/>
<rect x="440.7" y="578.5" width="18.3" height="17.7" fill="#f7c54d"/>
<rect x="440.7" y="606.4" width="18.3" height="17.7" fill="#8238b4"/>
<text x="416.8" y="29.6" font-size="21.1" font-weight="bold" stroke="#000" stroke-width="0.3">DNA Structure</text>
<text x="93.5" y="126" font-size="18.7" stroke="#000" stroke-width="0.3">Chromosome</text>
<text x="589.8" y="80.3" font-size="18.7" stroke="#000" stroke-width="0.3">Histone</text>
<text x="473.8" y="144.6" font-size="18.7" stroke="#000" stroke-width="0.3">Nucleosome</text>
<text x="424.9" y="203.3" font-size="18.3" font-weight="bold" stroke="#000" stroke-width="0.3">DNA</text>
<text x="717.8" y="189.4" font-size="18.7" stroke="#000" stroke-width="0.3">Gene</text>
<text x="317.4" y="395" font-size="18.7" stroke="#000" stroke-width="0.45">Cell</text>
<text x="171.9" y="527" font-size="18.7" stroke="#000" stroke-width="0.45">Nucleus</text>
<text x="798.8" y="412.2" font-size="18.7" stroke="#000" stroke-width="0.3">Nucleotide</text>
<text x="439.8" y="486.7" font-size="18.7" stroke="#000" stroke-width="0.3">Nucleotide</text>
<text x="439.8" y="505.4" font-size="18.7" stroke="#000" stroke-width="0.3">base pairs:</text>
<text x="462.8" y="530.6" font-size="18.7" stroke="#000" stroke-width="0.3">Guanine</text>
<text x="462.8" y="559.6" font-size="18.7" stroke="#000" stroke-width="0.3">Cytosine</text>
<text x="462.8" y="592.5" font-size="18.7" stroke="#000" stroke-width="0.3">Adenine</text>
<text x="462.8" y="620.6" font-size="18.7" stroke="#000" stroke-width="0.3">Thymine</text>
</g>
</svg>
</body>
</html>
